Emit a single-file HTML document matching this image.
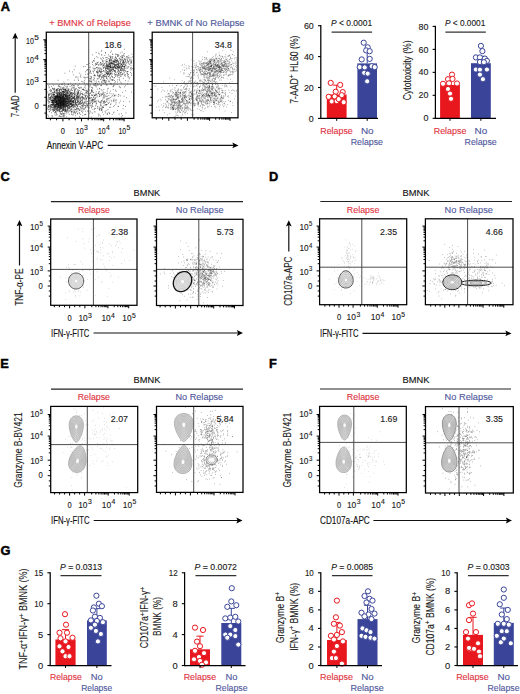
<!DOCTYPE html>
<html><head><meta charset="utf-8"><title>Figure</title>
<style>html,body{margin:0;padding:0;background:#fff;}svg{display:block;}text{font-family:"Liberation Sans", sans-serif;}</style>
</head><body>
<svg width="520" height="694" viewBox="0 0 520 694" font-family='"Liberation Sans", sans-serif'>
<rect width="520" height="694" fill="#fff"/>
<text x="0.8" y="11.4" font-size="12.8" font-weight="bold" style="stroke:#000;stroke-width:0.45px">A</text>
<text x="271.8" y="11.8" font-size="12.8" font-weight="bold" style="stroke:#000;stroke-width:0.45px">B</text>
<text x="0.4" y="180.8" font-size="12.8" font-weight="bold" style="stroke:#000;stroke-width:0.45px">C</text>
<text x="269.0" y="180.6" font-size="12.8" font-weight="bold" style="stroke:#000;stroke-width:0.45px">D</text>
<text x="0.2" y="368.2" font-size="12.8" font-weight="bold" style="stroke:#000;stroke-width:0.45px">E</text>
<text x="269.0" y="368.4" font-size="12.8" font-weight="bold" style="stroke:#000;stroke-width:0.45px">F</text>
<text x="0.4" y="555.3" font-size="12.8" font-weight="bold" style="stroke:#000;stroke-width:0.45px">G</text>
<text x="49.2" y="26.4" font-size="8.9" fill="#e0333f" textLength="81.6" lengthAdjust="spacingAndGlyphs" stroke="#e0333f" stroke-width="0.12">+ BMNK of Relapse</text>
<text x="147.3" y="26.2" font-size="8.9" fill="#50589c" textLength="97.3" lengthAdjust="spacingAndGlyphs" stroke="#50589c" stroke-width="0.12">+ BMNK of No Relapse</text>
<path d="M58.4 104.1h0.7M58.6 99.1h0.7M54.2 99.7h0.7M66.9 103.5h0.7M66.4 102.5h0.7M62.4 102.1h0.7M49.7 106.1h0.7M63.1 104.0h0.7M49.5 90.5h0.7M54.5 98.2h0.7M61.9 100.7h0.7M63.2 97.1h0.7M61.9 103.4h0.7M55.9 111.3h0.7M63.5 108.2h0.7M56.2 96.6h0.7M57.9 100.4h0.7M63.9 102.5h0.7M57.2 95.3h0.7M56.8 108.3h0.7M55.0 102.5h0.7M62.6 92.1h0.7M60.3 108.8h0.7M47.5 99.1h0.7M59.3 96.1h0.7M63.1 100.6h0.7M50.9 106.0h0.7M64.1 106.7h0.7M68.9 103.2h0.7M60.7 93.2h0.7M63.8 97.3h0.7M57.2 93.4h0.7M54.0 97.8h0.7M68.0 88.8h0.7M51.0 102.4h0.7M68.9 104.5h0.7M48.2 85.9h0.7M62.2 96.6h0.7M53.1 106.9h0.7M66.8 101.9h0.7M61.5 103.6h0.7M69.9 104.7h0.7M63.2 104.3h0.7M50.3 108.7h0.7M65.9 104.2h0.7M47.8 97.2h0.7M65.2 90.1h0.7M58.9 107.1h0.7M51.9 110.7h0.7M63.4 100.1h0.7M62.0 104.9h0.7M60.7 107.9h0.7M55.9 98.5h0.7M66.5 101.2h0.7M54.5 106.7h0.7M69.1 98.3h0.7M51.4 100.2h0.7M59.1 99.2h0.7M68.7 94.8h0.7M67.8 93.4h0.7M55.1 104.8h0.7M67.0 106.2h0.7M62.1 101.9h0.7M60.9 104.5h0.7M58.9 102.7h0.7M63.6 101.0h0.7M64.7 104.4h0.7M72.5 102.9h0.7M57.3 98.8h0.7M59.9 106.5h0.7M57.9 103.3h0.7M71.4 85.6h0.7M53.0 102.5h0.7M62.5 102.4h0.7M57.3 104.9h0.7M61.7 97.9h0.7M75.1 103.1h0.7M56.6 100.4h0.7M58.6 100.6h0.7M66.3 94.0h0.7M59.6 106.7h0.7M65.3 109.9h0.7M49.5 98.9h0.7M57.9 104.7h0.7M66.8 84.9h0.7M66.7 92.3h0.7M64.2 92.0h0.7M61.1 108.2h0.7M59.1 102.1h0.7M64.9 101.8h0.7M59.5 110.2h0.7M66.5 99.2h0.7M77.0 94.1h0.7M65.7 99.4h0.7M60.8 105.2h0.7M61.4 104.8h0.7M50.5 91.9h0.7M63.8 95.2h0.7M53.6 92.2h0.7M67.9 105.5h0.7M69.1 95.4h0.7M60.0 94.2h0.7M64.7 110.5h0.7M54.5 110.4h0.7M66.1 99.9h0.7M47.8 109.4h0.7M59.4 97.4h0.7M62.5 103.5h0.7M69.3 94.9h0.7M67.0 109.9h0.7M69.0 99.9h0.7M55.4 107.1h0.7M60.7 101.7h0.7M68.8 99.4h0.7M48.5 105.9h0.7M62.0 97.3h0.7M59.9 106.0h0.7M60.5 109.0h0.7M59.6 107.2h0.7M69.2 110.7h0.7M55.8 106.3h0.7M48.4 94.5h0.7M47.8 107.4h0.7M52.4 100.9h0.7M58.8 100.8h0.7M56.3 102.4h0.7M71.1 101.3h0.7M63.3 107.0h0.7M58.8 93.4h0.7M56.6 107.4h0.7M49.8 97.4h0.7M66.2 105.8h0.7M60.0 105.8h0.7M61.0 93.9h0.7M50.3 97.2h0.7M65.7 97.6h0.7M54.4 96.4h0.7M50.5 100.3h0.7M52.7 103.2h0.7M56.0 89.3h0.7M64.5 99.3h0.7M61.8 98.2h0.7M64.8 105.5h0.7M64.1 103.0h0.7M68.3 105.0h0.7M62.8 88.5h0.7M65.6 108.9h0.7M58.2 98.2h0.7M72.0 90.5h0.7M62.9 115.5h0.7M54.2 105.1h0.7M71.7 100.3h0.7M63.5 106.4h0.7M54.4 100.5h0.7M61.8 106.0h0.7M59.8 99.8h0.7M53.7 98.8h0.7M65.5 101.6h0.7M54.7 96.0h0.7M76.5 107.8h0.7M64.0 85.4h0.7M63.9 103.9h0.7M70.4 103.6h0.7M59.6 104.1h0.7M47.9 107.2h0.7M62.0 96.8h0.7M68.2 111.9h0.7M51.3 97.0h0.7M61.8 102.1h0.7M57.5 95.2h0.7M73.1 107.2h0.7M52.6 92.9h0.7M70.6 106.9h0.7M71.3 105.9h0.7M54.6 102.6h0.7M59.6 104.1h0.7M55.5 100.3h0.7M62.8 103.3h0.7M64.0 102.3h0.7M58.0 105.7h0.7M60.3 96.0h0.7M56.1 101.0h0.7M59.3 101.9h0.7M60.0 102.1h0.7M59.2 93.4h0.7M62.6 107.3h0.7M62.7 99.9h0.7M62.8 95.2h0.7M48.2 101.4h0.7M54.2 105.4h0.7M53.3 85.2h0.7M53.6 110.5h0.7M57.6 92.8h0.7M55.3 104.1h0.7M63.1 102.1h0.7M69.2 105.2h0.7M59.9 104.6h0.7M70.3 106.8h0.7M66.3 94.5h0.7M59.1 105.4h0.7M58.2 107.4h0.7M63.7 106.4h0.7M58.7 116.3h0.7M67.7 99.7h0.7M60.6 116.6h0.7M57.9 106.2h0.7M66.1 101.0h0.7M52.8 102.1h0.7M62.2 107.8h0.7M64.9 101.1h0.7M65.3 104.2h0.7M61.3 101.3h0.7M58.5 105.1h0.7M53.5 97.2h0.7M60.0 92.2h0.7M57.3 88.9h0.7M55.8 104.4h0.7M63.5 100.7h0.7M58.6 92.5h0.7M71.3 104.1h0.7M66.8 95.7h0.7M58.9 90.1h0.7M64.8 106.6h0.7M48.2 100.7h0.7M63.9 90.4h0.7M48.7 94.6h0.7M56.1 92.6h0.7M60.2 102.5h0.7M63.9 105.2h0.7M69.3 108.0h0.7M51.9 98.0h0.7M53.4 94.5h0.7M59.5 101.0h0.7M63.0 91.5h0.7M52.3 100.9h0.7M58.8 99.1h0.7M59.6 96.4h0.7M64.3 103.1h0.7M59.5 97.0h0.7M58.9 84.7h0.7M53.9 101.2h0.7M50.7 102.2h0.7M60.9 92.7h0.7M58.4 99.1h0.7M62.9 104.7h0.7M59.8 95.9h0.7M59.1 100.6h0.7M64.6 102.8h0.7M55.5 92.9h0.7M57.7 96.6h0.7M53.1 100.3h0.7M57.0 101.6h0.7M63.2 98.5h0.7M74.4 99.1h0.7M66.8 101.7h0.7M66.9 86.7h0.7M55.3 102.5h0.7M63.7 115.0h0.7M62.0 108.7h0.7M64.8 106.7h0.7M63.2 100.1h0.7M63.2 94.5h0.7M67.3 94.9h0.7M61.5 113.7h0.7M58.6 101.1h0.7M67.2 101.2h0.7M55.0 102.5h0.7M63.6 105.3h0.7M55.2 111.5h0.7M70.3 101.1h0.7M61.7 98.4h0.7M68.8 96.8h0.7M64.2 98.1h0.7M55.7 105.3h0.7M68.3 100.9h0.7M55.8 105.9h0.7M59.7 102.9h0.7M69.4 107.8h0.7M56.8 114.7h0.7M60.0 105.7h0.7M56.0 100.7h0.7M49.2 111.7h0.7M68.5 93.7h0.7M50.7 91.3h0.7M67.3 98.2h0.7M59.6 99.1h0.7M59.2 94.5h0.7M60.1 92.4h0.7M59.6 102.9h0.7M62.9 99.6h0.7M54.4 102.0h0.7M57.0 110.4h0.7M64.8 100.3h0.7M57.1 96.8h0.7M54.2 98.9h0.7M61.8 104.1h0.7M63.5 113.6h0.7M55.6 101.1h0.7M77.3 89.8h0.7M56.8 102.0h0.7M61.0 103.4h0.7M58.5 103.2h0.7M60.3 105.6h0.7M48.3 95.7h0.7M60.0 94.8h0.7M53.5 104.8h0.7M56.0 104.8h0.7M64.6 102.8h0.7M63.1 100.4h0.7M51.3 100.8h0.7M62.8 97.8h0.7M59.4 105.5h0.7M54.6 104.8h0.7M71.5 97.7h0.7M60.9 100.1h0.7M69.5 102.9h0.7M65.6 96.9h0.7M59.9 100.9h0.7M49.0 109.6h0.7M65.6 90.5h0.7M64.6 100.2h0.7M62.8 103.2h0.7M50.7 99.7h0.7M69.3 97.6h0.7M53.7 92.8h0.7M52.4 103.0h0.7M70.5 103.6h0.7M61.5 114.4h0.7M56.8 97.0h0.7M63.3 104.3h0.7M53.7 94.0h0.7M61.8 102.5h0.7M51.9 99.8h0.7M56.6 103.8h0.7M59.3 100.5h0.7M57.8 107.3h0.7M68.6 98.8h0.7M65.2 96.5h0.7M60.4 105.5h0.7M69.4 98.7h0.7M59.5 102.2h0.7M50.7 101.1h0.7M55.8 103.2h0.7M53.0 89.1h0.7M60.2 102.6h0.7M56.6 106.3h0.7M58.3 97.4h0.7M63.0 91.6h0.7M55.8 100.9h0.7M65.3 100.0h0.7M61.9 97.1h0.7M61.9 111.0h0.7M55.7 115.2h0.7M56.0 101.1h0.7M61.1 107.1h0.7M52.3 88.4h0.7M63.8 105.8h0.7M63.9 116.8h0.7M61.3 102.5h0.7M65.8 103.2h0.7M70.3 93.6h0.7M57.7 80.3h0.7M65.0 98.8h0.7M65.7 113.9h0.7M60.0 99.5h0.7M56.9 96.0h0.7M56.1 104.8h0.7M60.2 101.4h0.7M58.9 106.5h0.7M63.1 100.1h0.7M64.1 100.1h0.7M52.9 109.7h0.7M62.9 95.3h0.7M66.7 103.1h0.7M50.3 110.7h0.7M62.1 106.3h0.7M61.2 100.1h0.7M50.4 106.8h0.7M60.2 99.3h0.7M62.2 101.5h0.7M64.2 98.8h0.7M59.8 88.2h0.7M57.4 105.1h0.7M68.3 98.8h0.7M59.2 110.5h0.7M58.0 105.4h0.7M70.4 101.2h0.7M67.6 96.7h0.7M61.3 100.5h0.7M60.7 107.8h0.7M74.8 97.0h0.7M56.4 104.0h0.7M53.5 104.0h0.7M63.5 99.3h0.7M63.3 91.7h0.7M64.7 91.7h0.7M55.7 97.7h0.7M57.5 106.2h0.7M60.5 98.6h0.7M63.4 110.5h0.7M60.0 103.2h0.7M67.7 102.6h0.7M52.0 115.9h0.7M73.7 89.1h0.7M59.8 103.5h0.7M66.0 105.0h0.7M58.3 94.7h0.7M60.6 107.2h0.7M53.2 94.8h0.7M59.8 89.4h0.7M58.4 98.4h0.7M62.8 96.8h0.7M54.5 98.6h0.7M59.7 97.0h0.7M60.1 105.5h0.7M67.3 111.2h0.7M55.1 98.5h0.7M55.5 100.8h0.7M63.2 92.8h0.7M62.9 100.8h0.7M48.7 102.8h0.7M67.4 89.8h0.7M65.0 102.3h0.7M62.9 103.6h0.7M68.1 99.7h0.7M65.4 98.5h0.7M64.5 96.1h0.7M59.3 111.4h0.7M62.8 100.1h0.7M52.9 96.3h0.7M61.2 106.6h0.7M62.6 104.1h0.7M59.7 109.1h0.7M57.6 97.7h0.7M65.5 101.4h0.7M58.3 97.5h0.7M58.4 104.7h0.7M62.2 93.7h0.7M62.6 102.1h0.7M53.8 105.6h0.7M58.3 99.0h0.7M64.9 108.9h0.7M55.7 103.6h0.7M54.6 114.9h0.7M56.9 108.2h0.7M56.0 105.9h0.7M73.8 85.8h0.7M57.3 104.0h0.7M59.4 97.0h0.7M73.3 101.5h0.7M49.8 106.1h0.7M49.3 107.9h0.7M56.4 101.9h0.7M67.8 101.7h0.7M51.4 90.8h0.7M67.3 105.4h0.7M54.9 106.2h0.7M63.1 104.9h0.7M65.6 105.4h0.7M65.5 86.3h0.7M61.0 104.0h0.7M75.8 95.3h0.7M58.0 101.2h0.7M65.5 98.3h0.7M67.1 96.3h0.7M61.7 97.8h0.7M61.0 96.9h0.7M50.1 107.6h0.7M61.9 97.6h0.7M61.2 106.9h0.7M53.9 100.3h0.7M63.3 104.2h0.7M57.9 88.4h0.7M67.7 103.0h0.7M60.1 99.3h0.7M61.6 98.4h0.7M53.6 96.6h0.7M56.3 97.3h0.7M52.8 104.8h0.7M51.9 105.0h0.7M53.7 103.1h0.7M68.5 102.2h0.7M55.5 101.3h0.7M60.9 90.6h0.7M56.2 102.0h0.7M57.1 101.5h0.7M64.6 105.6h0.7M65.6 104.5h0.7M58.2 100.9h0.7M58.3 99.1h0.7M58.9 90.7h0.7M57.9 100.9h0.7M54.0 100.9h0.7M63.2 100.0h0.7M72.9 85.4h0.7M58.7 90.0h0.7M66.1 116.9h0.7M63.2 99.2h0.7M63.4 87.5h0.7M65.3 103.2h0.7M60.1 97.5h0.7M64.0 98.1h0.7M61.4 97.9h0.7M61.3 105.5h0.7M54.6 100.8h0.7M63.8 101.9h0.7M67.7 112.9h0.7M54.4 89.5h0.7M65.3 110.2h0.7M65.7 105.9h0.7M56.2 96.7h0.7M65.5 95.5h0.7M48.8 95.0h0.7M75.5 112.5h0.7M55.7 96.6h0.7M61.4 96.5h0.7M68.1 100.5h0.7M53.3 108.9h0.7M56.4 102.3h0.7M59.9 99.1h0.7M62.0 96.8h0.7M48.6 87.8h0.7M52.1 96.4h0.7M59.9 101.3h0.7M63.4 101.7h0.7M55.1 96.7h0.7M63.0 104.2h0.7M59.2 100.0h0.7M65.8 101.1h0.7M64.6 104.5h0.7M61.3 108.8h0.7M56.4 98.8h0.7M55.0 96.2h0.7M69.6 111.6h0.7M60.1 104.4h0.7M67.3 105.8h0.7M67.5 93.4h0.7M56.0 103.7h0.7M68.9 101.6h0.7M54.7 98.9h0.7M55.9 95.9h0.7M69.3 97.2h0.7M60.1 114.0h0.7M67.3 103.0h0.7M56.2 103.5h0.7M70.1 104.7h0.7M67.8 101.6h0.7M63.2 99.8h0.7M62.6 108.8h0.7M51.1 100.6h0.7M61.5 97.6h0.7M58.1 105.7h0.7M72.4 104.8h0.7M62.0 91.7h0.7M72.0 101.5h0.7M59.8 94.3h0.7M59.6 94.4h0.7M60.4 103.8h0.7M60.2 102.7h0.7M54.7 109.6h0.7M56.0 90.1h0.7M58.8 96.4h0.7M53.7 98.9h0.7M61.8 93.9h0.7M59.1 109.6h0.7M64.2 100.1h0.7M60.8 100.3h0.7M59.7 105.4h0.7M59.4 86.6h0.7M59.9 95.7h0.7M64.0 97.3h0.7M60.9 114.1h0.7M53.5 94.3h0.7M51.2 86.6h0.7M48.4 103.2h0.7M56.0 89.8h0.7M50.8 104.7h0.7M55.2 98.8h0.7M62.0 109.1h0.7M72.0 107.2h0.7M60.9 102.1h0.7M71.2 109.6h0.7M58.1 103.7h0.7M61.8 101.3h0.7M56.9 93.0h0.7M56.7 91.7h0.7M67.6 104.2h0.7M52.5 109.4h0.7M65.5 89.5h0.7M71.4 105.9h0.7M72.8 93.6h0.7M63.3 103.5h0.7M61.3 102.0h0.7M66.5 92.0h0.7M52.3 92.6h0.7M56.5 97.4h0.7M62.3 102.6h0.7M60.2 96.9h0.7M57.3 106.7h0.7M64.7 101.6h0.7M58.0 110.3h0.7M56.3 104.9h0.7M67.2 99.4h0.7M65.1 94.3h0.7M66.3 102.2h0.7M50.2 105.0h0.7M54.5 108.7h0.7M55.8 100.0h0.7M61.8 99.0h0.7M61.6 97.7h0.7M64.2 101.0h0.7M61.3 84.5h0.7M67.2 101.2h0.7M48.9 101.6h0.7M62.9 107.4h0.7M53.3 110.3h0.7M59.0 115.4h0.7M59.1 105.1h0.7M57.7 94.3h0.7M66.8 106.4h0.7M69.5 106.1h0.7M56.4 91.0h0.7M56.0 96.9h0.7M54.9 104.5h0.7M62.0 99.4h0.7M61.1 100.1h0.7M61.3 105.5h0.7M65.9 96.9h0.7M50.7 109.6h0.7M60.7 107.6h0.7M49.8 99.0h0.7M60.2 92.4h0.7M56.8 105.3h0.7M66.7 110.6h0.7M54.6 92.6h0.7M63.2 106.6h0.7M61.2 93.2h0.7M64.8 105.8h0.7M63.4 98.1h0.7M61.9 105.7h0.7M56.5 89.9h0.7M62.0 103.9h0.7M60.1 106.3h0.7M56.4 100.5h0.7M58.1 104.4h0.7M69.9 99.5h0.7M72.7 110.2h0.7M64.9 104.5h0.7M71.0 99.9h0.7M59.3 94.6h0.7M62.9 109.1h0.7M63.3 103.5h0.7M58.8 102.0h0.7M51.2 107.3h0.7M57.5 94.4h0.7M55.3 96.1h0.7M65.3 107.3h0.7M51.6 106.6h0.7M65.5 97.5h0.7M50.8 96.5h0.7M56.1 103.1h0.7M57.8 88.8h0.7M61.4 91.8h0.7M65.6 93.8h0.7M55.7 95.9h0.7M56.6 108.8h0.7M65.3 104.6h0.7M62.0 91.7h0.7M56.8 97.7h0.7M53.9 104.1h0.7M55.4 96.7h0.7M53.5 88.7h0.7M63.7 109.0h0.7M61.1 95.1h0.7M67.5 102.8h0.7M65.7 109.9h0.7M67.0 98.4h0.7M66.5 105.7h0.7M50.5 98.6h0.7M51.2 100.3h0.7M63.6 94.6h0.7M47.3 108.8h0.7M62.3 109.8h0.7M51.8 107.4h0.7M72.9 113.0h0.7M58.7 102.6h0.7M59.0 107.0h0.7M66.4 101.5h0.7M51.6 105.4h0.7M57.1 104.8h0.7M61.6 110.7h0.7M67.1 98.3h0.7M62.2 111.6h0.7M56.7 103.6h0.7M67.4 108.5h0.7M63.2 93.1h0.7M52.2 102.5h0.7M62.4 116.3h0.7M54.7 107.8h0.7M64.8 91.0h0.7M54.9 102.0h0.7M56.9 100.1h0.7M62.9 96.1h0.7M62.9 97.2h0.7M56.6 104.2h0.7M56.4 102.7h0.7M69.9 101.2h0.7M59.1 105.4h0.7M57.7 107.5h0.7M52.0 104.7h0.7M56.8 96.2h0.7M71.0 95.9h0.7M70.9 104.9h0.7M69.0 95.1h0.7M67.4 109.7h0.7M59.3 100.2h0.7M75.2 102.1h0.7M57.4 97.2h0.7M62.8 103.0h0.7M61.1 111.3h0.7M58.0 103.8h0.7M69.0 95.0h0.7M66.4 112.0h0.7M51.6 94.4h0.7M53.6 89.9h0.7M62.8 89.9h0.7M63.1 109.7h0.7M50.0 99.1h0.7M48.1 105.7h0.7M55.4 99.4h0.7M60.3 104.3h0.7M57.9 101.1h0.7M56.6 101.7h0.7M52.7 101.4h0.7M48.0 98.1h0.7M71.9 101.5h0.7M52.2 102.5h0.7M54.0 91.1h0.7M55.4 105.4h0.7M62.4 100.4h0.7M54.3 94.5h0.7M68.4 102.5h0.7M54.1 88.3h0.7M51.5 115.9h0.7M52.9 100.5h0.7M61.3 100.1h0.7M58.3 92.8h0.7M53.5 111.1h0.7M55.3 106.1h0.7M49.5 99.4h0.7M61.6 107.2h0.7M53.0 104.6h0.7M62.4 96.6h0.7M63.0 95.6h0.7M55.1 100.9h0.7M53.8 92.2h0.7M57.4 105.6h0.7M57.5 108.6h0.7M52.8 93.1h0.7M69.6 103.4h0.7M65.9 96.0h0.7M65.0 102.6h0.7M64.0 101.2h0.7M67.5 97.1h0.7M54.0 92.1h0.7M67.2 96.6h0.7M53.5 95.4h0.7M57.2 93.4h0.7M58.2 97.2h0.7M56.6 95.2h0.7M60.2 98.2h0.7M60.7 102.5h0.7M62.1 87.9h0.7M56.7 96.2h0.7M64.8 91.5h0.7M55.6 99.2h0.7M57.9 106.9h0.7M57.3 106.8h0.7M50.9 90.1h0.7M67.6 103.6h0.7M63.0 101.7h0.7M63.0 93.7h0.7M65.9 97.8h0.7M66.1 101.5h0.7M47.8 93.3h0.7M67.0 100.2h0.7M57.5 102.5h0.7M57.4 97.7h0.7M60.6 101.9h0.7M69.4 101.3h0.7M71.7 111.8h0.7M70.6 107.4h0.7M60.8 101.8h0.7M59.1 96.6h0.7M59.6 97.2h0.7M70.2 104.2h0.7M57.2 89.5h0.7M59.7 98.5h0.7M53.3 94.2h0.7M59.6 116.5h0.7M59.8 100.1h0.7M69.0 101.8h0.7M61.0 98.8h0.7M56.2 110.0h0.7M66.2 111.3h0.7M57.8 101.2h0.7M54.5 106.8h0.7M51.4 104.4h0.7M66.8 109.5h0.7M54.2 107.5h0.7M55.6 96.5h0.7M51.8 107.9h0.7M70.2 97.4h0.7M55.3 99.0h0.7M75.5 107.0h0.7M56.6 90.2h0.7M55.8 108.1h0.7M71.6 99.4h0.7M55.7 97.9h0.7M48.3 106.4h0.7M53.3 107.4h0.7M49.4 93.4h0.7M61.8 96.4h0.7M64.8 101.0h0.7M52.7 104.7h0.7M65.2 89.5h0.7M71.3 104.0h0.7M64.7 89.8h0.7M55.5 98.9h0.7M66.7 92.2h0.7M54.5 88.8h0.7M58.5 103.1h0.7M49.5 97.5h0.7M63.2 110.5h0.7M64.1 99.2h0.7M52.7 95.4h0.7M55.9 101.9h0.7M59.7 111.0h0.7M61.8 94.6h0.7M69.6 106.7h0.7M60.6 96.7h0.7M48.4 94.9h0.7M65.7 96.2h0.7M51.8 102.2h0.7M61.5 104.6h0.7M64.1 109.5h0.7M54.8 106.9h0.7M53.9 105.2h0.7M61.1 102.5h0.7M66.0 100.9h0.7M66.9 106.3h0.7M60.8 97.6h0.7M55.3 97.8h0.7M58.7 100.9h0.7M78.5 104.8h0.7M64.8 95.8h0.7M55.6 99.1h0.7M61.2 94.8h0.7M70.0 97.6h0.7M66.7 87.0h0.7M60.0 102.7h0.7M61.2 104.6h0.7M61.7 102.0h0.7M48.3 96.7h0.7M61.9 99.8h0.7M54.9 97.5h0.7M71.4 111.4h0.7M59.6 108.7h0.7M50.2 89.4h0.7M57.0 95.8h0.7M56.5 102.1h0.7M78.8 97.0h0.7M60.3 102.7h0.7M59.8 106.6h0.7M71.0 93.5h0.7M61.0 99.4h0.7M62.2 91.8h0.7M49.1 87.1h0.7M63.3 102.2h0.7M60.5 86.8h0.7M57.7 96.5h0.7M51.2 95.5h0.7M64.3 104.3h0.7M59.9 104.1h0.7M56.3 101.4h0.7M60.2 104.3h0.7M59.6 100.1h0.7M59.2 97.1h0.7M73.8 104.1h0.7M62.7 114.7h0.7M68.7 91.7h0.7M64.3 106.0h0.7M71.7 108.9h0.7M64.8 93.9h0.7M54.6 102.6h0.7M63.1 94.9h0.7M57.6 98.6h0.7M60.4 103.0h0.7M58.2 93.6h0.7M67.7 110.6h0.7M59.3 107.1h0.7M62.8 105.0h0.7M63.0 96.4h0.7M63.6 107.1h0.7M54.4 112.8h0.7M73.0 111.9h0.7M72.3 105.5h0.7M57.9 97.4h0.7M55.0 101.7h0.7M59.8 105.0h0.7M47.5 114.9h0.7M74.1 100.8h0.7M64.2 103.9h0.7M61.7 99.7h0.7M59.2 96.1h0.7M61.1 100.9h0.7M62.0 95.9h0.7M60.2 101.3h0.7M63.7 94.6h0.7M62.6 106.9h0.7M63.7 98.8h0.7M57.0 99.6h0.7M64.5 110.3h0.7M59.0 97.1h0.7M62.3 102.2h0.7M54.4 96.6h0.7M59.4 105.0h0.7M52.6 94.9h0.7M63.1 93.7h0.7M60.7 103.1h0.7M59.3 94.9h0.7M59.6 99.0h0.7M62.1 96.0h0.7M66.8 90.9h0.7M58.9 101.0h0.7M66.0 97.3h0.7M63.4 97.6h0.7M64.6 111.4h0.7M57.5 103.7h0.7M54.3 106.8h0.7M67.5 101.2h0.7M53.0 103.4h0.7M67.1 107.5h0.7M65.0 90.0h0.7M55.8 109.5h0.7M52.4 107.8h0.7M71.7 105.6h0.7M66.9 99.0h0.7M52.4 100.4h0.7M58.8 100.7h0.7M64.3 100.1h0.7M61.2 103.5h0.7M60.0 112.1h0.7M62.7 101.5h0.7M58.7 97.2h0.7M68.3 101.9h0.7M53.3 97.6h0.7M59.2 98.3h0.7M66.7 94.0h0.7M63.1 101.9h0.7M52.7 101.3h0.7M59.4 104.0h0.7M57.2 102.8h0.7M49.7 94.5h0.7M64.9 107.2h0.7M59.9 97.4h0.7M66.7 88.4h0.7M55.0 105.0h0.7M64.0 94.8h0.7M48.3 109.7h0.7M60.9 95.6h0.7M60.3 106.4h0.7M64.6 88.5h0.7M64.8 90.3h0.7M67.1 103.4h0.7M74.0 97.3h0.7M60.0 107.3h0.7M56.0 96.8h0.7M57.7 100.6h0.7M53.3 103.9h0.7M63.4 101.4h0.7M70.5 99.0h0.7M68.1 97.7h0.7M64.7 89.4h0.7M61.2 99.9h0.7M56.9 97.3h0.7M57.8 96.7h0.7M56.6 97.9h0.7M53.4 100.2h0.7M64.9 99.5h0.7M56.9 109.1h0.7M66.1 106.5h0.7M67.2 99.0h0.7M59.2 107.7h0.7M56.6 100.3h0.7M62.3 103.2h0.7M58.3 106.9h0.7M58.9 105.4h0.7M66.6 105.0h0.7M64.5 94.0h0.7M51.9 97.3h0.7M62.9 110.0h0.7M52.4 102.8h0.7M54.7 96.6h0.7M58.3 105.2h0.7M61.3 108.1h0.7M53.9 106.3h0.7M65.8 101.4h0.7M63.0 97.6h0.7M53.2 98.6h0.7M57.0 110.9h0.7M61.3 102.9h0.7M64.6 96.3h0.7M65.7 103.3h0.7M50.6 104.6h0.7M63.4 103.7h0.7M69.8 98.5h0.7M63.2 105.5h0.7M54.4 108.2h0.7M51.0 93.2h0.7M63.2 94.5h0.7M59.3 91.1h0.7M60.4 94.2h0.7M62.1 91.8h0.7M62.8 99.4h0.7M60.4 100.6h0.7M60.8 93.1h0.7M54.2 98.3h0.7M62.6 89.1h0.7M55.3 97.3h0.7M53.4 103.0h0.7M59.1 96.1h0.7M53.9 105.8h0.7M55.9 104.5h0.7M62.8 89.6h0.7M53.3 101.0h0.7M62.1 105.7h0.7M65.0 107.2h0.7M57.7 99.7h0.7M64.8 98.4h0.7M66.6 91.5h0.7M64.1 100.0h0.7M47.8 106.9h0.7M61.9 101.1h0.7M53.3 98.2h0.7M69.4 96.0h0.7M52.6 100.2h0.7M57.6 95.5h0.7M54.8 107.3h0.7M51.1 112.7h0.7M56.6 94.4h0.7M64.9 104.4h0.7M53.5 105.5h0.7M48.6 95.5h0.7M67.0 99.5h0.7M51.9 104.1h0.7M65.7 100.9h0.7M48.8 98.9h0.7M62.6 105.6h0.7M71.5 99.5h0.7M57.0 100.8h0.7M67.5 95.4h0.7M68.1 84.5h0.7M64.9 96.9h0.7M62.8 105.1h0.7M52.7 100.5h0.7M61.5 104.5h0.7M54.2 95.1h0.7M48.1 116.2h0.7M58.8 99.7h0.7M50.7 106.6h0.7M56.7 109.6h0.7M65.3 101.1h0.7M64.5 94.3h0.7M58.0 97.5h0.7M52.1 101.1h0.7M59.1 109.6h0.7M54.3 98.2h0.7M62.6 103.4h0.7M60.2 98.2h0.7M63.1 103.2h0.7M48.6 99.4h0.7M51.5 93.9h0.7M60.9 101.4h0.7M60.7 95.7h0.7M58.8 95.5h0.7M62.4 105.1h0.7M70.9 108.6h0.7M55.0 98.3h0.7M54.2 102.8h0.7M72.3 105.3h0.7M52.0 104.1h0.7M60.0 102.8h0.7M71.0 96.0h0.7M54.7 112.8h0.7M62.1 96.3h0.7M47.4 91.9h0.7M60.3 107.0h0.7M59.1 96.8h0.7M55.4 112.4h0.7M49.1 102.0h0.7M60.2 104.7h0.7M57.5 104.0h0.7M65.1 100.1h0.7M57.2 99.9h0.7M54.0 99.8h0.7M58.1 102.3h0.7M68.3 108.8h0.7M57.2 104.6h0.7M61.8 105.6h0.7M60.1 102.6h0.7M57.1 96.3h0.7M65.4 108.8h0.7M64.1 103.6h0.7M61.7 98.3h0.7M48.9 105.0h0.7M61.2 97.7h0.7M54.0 108.7h0.7M48.8 111.6h0.7M64.0 115.2h0.7M55.5 100.9h0.7M56.9 101.9h0.7M58.7 96.5h0.7M66.7 96.3h0.7M56.9 104.3h0.7M56.7 98.4h0.7M62.2 98.8h0.7M52.3 100.4h0.7M58.6 111.2h0.7M53.2 106.8h0.7M55.1 98.9h0.7M58.0 102.6h0.7M65.4 111.5h0.7M56.1 109.0h0.7M66.2 105.9h0.7M55.3 106.4h0.7M59.3 103.1h0.7M58.3 105.0h0.7M66.9 107.8h0.7M58.7 107.0h0.7M69.0 95.4h0.7M69.1 93.0h0.7M63.4 104.6h0.7M69.2 102.7h0.7M57.0 96.2h0.7M52.2 105.6h0.7M58.5 96.7h0.7M63.3 96.4h0.7M57.3 98.2h0.7M70.3 109.8h0.7M59.0 91.6h0.7M61.7 101.4h0.7M62.2 104.4h0.7M58.0 106.6h0.7M65.2 102.3h0.7M57.5 98.1h0.7M64.3 94.4h0.7M59.0 96.5h0.7M51.4 104.6h0.7M59.8 101.2h0.7M65.4 92.0h0.7M59.6 102.7h0.7M65.2 94.5h0.7M64.4 102.3h0.7M68.4 107.8h0.7M63.4 113.9h0.7M60.0 98.5h0.7M57.9 95.4h0.7M59.8 89.7h0.7M59.5 103.6h0.7M66.1 98.9h0.7M68.6 97.1h0.7M59.2 89.7h0.7M55.3 96.3h0.7M69.0 104.1h0.7M53.3 104.1h0.7M62.9 99.6h0.7M60.1 99.2h0.7M56.7 90.6h0.7M59.5 108.5h0.7M68.7 99.4h0.7M55.5 99.8h0.7M65.4 103.1h0.7M56.5 103.1h0.7M58.8 104.0h0.7M57.5 92.4h0.7M60.4 105.5h0.7M53.3 100.4h0.7M65.3 98.8h0.7M56.1 112.9h0.7M65.0 107.0h0.7M54.3 110.5h0.7M50.0 98.0h0.7M64.5 108.8h0.7M54.4 97.1h0.7M61.2 89.7h0.7M63.9 104.3h0.7M57.3 104.1h0.7M64.7 102.8h0.7M63.1 109.8h0.7M57.1 101.9h0.7M56.9 107.0h0.7M57.5 103.8h0.7M60.8 101.4h0.7M70.3 100.5h0.7M68.5 105.8h0.7M67.9 100.0h0.7M65.6 105.4h0.7M56.3 102.6h0.7M59.2 100.8h0.7M67.8 96.8h0.7M49.9 90.9h0.7M57.3 97.3h0.7M60.1 104.3h0.7M70.5 102.8h0.7M62.8 96.7h0.7M63.5 108.9h0.7M68.0 89.7h0.7M65.3 110.2h0.7M64.9 92.4h0.7M58.2 104.4h0.7M62.5 96.3h0.7M54.7 106.6h0.7M52.0 109.3h0.7M60.1 102.7h0.7M52.0 97.6h0.7M64.1 92.5h0.7M72.4 92.9h0.7M52.7 101.2h0.7M62.9 105.2h0.7M57.8 99.8h0.7M58.6 97.7h0.7M61.5 101.9h0.7M56.3 102.4h0.7M59.9 100.6h0.7M66.6 91.1h0.7M61.5 94.9h0.7M58.1 109.6h0.7M53.5 100.4h0.7M56.5 106.5h0.7M54.2 91.3h0.7M63.1 99.0h0.7M58.1 107.2h0.7M54.7 98.8h0.7M60.9 103.4h0.7M56.9 107.0h0.7M73.3 98.6h0.7M71.1 88.8h0.7M68.4 99.0h0.7M60.8 99.0h0.7M56.2 93.6h0.7M57.7 108.5h0.7M66.8 99.0h0.7M56.9 97.0h0.7M52.9 111.4h0.7M64.0 101.7h0.7M57.1 95.1h0.7M67.8 105.5h0.7M54.3 106.7h0.7M53.4 104.7h0.7M54.3 98.6h0.7M62.9 103.5h0.7M66.0 96.2h0.7M69.4 108.7h0.7M59.9 103.7h0.7M55.4 100.1h0.7M52.1 101.5h0.7M61.2 108.7h0.7M65.6 105.7h0.7M57.8 99.7h0.7M58.0 102.3h0.7M48.5 105.4h0.7M50.7 98.0h0.7M60.1 98.0h0.7M69.9 100.4h0.7M69.4 107.8h0.7M57.0 103.3h0.7M67.7 99.1h0.7M60.5 97.8h0.7M60.3 99.0h0.7M60.5 106.8h0.7M68.3 101.8h0.7M61.2 105.9h0.7M58.3 94.9h0.7M66.6 95.6h0.7M65.5 95.4h0.7M70.9 95.0h0.7M65.1 109.6h0.7M54.3 109.6h0.7M55.1 90.8h0.7M64.3 105.0h0.7M58.8 86.5h0.7M59.7 99.2h0.7M57.7 99.3h0.7M49.3 97.7h0.7M70.7 109.9h0.7M57.8 96.9h0.7M62.4 107.1h0.7M64.3 94.3h0.7M61.0 101.8h0.7M68.6 107.9h0.7M63.1 108.0h0.7M57.6 109.9h0.7M57.5 103.3h0.7M65.5 95.7h0.7M55.8 90.9h0.7M61.0 100.7h0.7M58.1 103.9h0.7M47.4 100.9h0.7M60.5 99.5h0.7M64.7 111.1h0.7M57.3 95.6h0.7M56.4 101.5h0.7M63.5 96.0h0.7M65.9 95.1h0.7M64.9 103.5h0.7M62.8 113.4h0.7M58.4 100.0h0.7M62.8 106.0h0.7M52.0 102.6h0.7M55.6 104.6h0.7M68.2 101.3h0.7M59.4 102.1h0.7M63.3 101.9h0.7M57.6 96.8h0.7M58.9 108.0h0.7M59.4 108.8h0.7M61.6 100.9h0.7M50.1 97.2h0.7M67.4 93.6h0.7M54.1 94.7h0.7M56.7 104.7h0.7M63.5 89.3h0.7M68.7 97.6h0.7M56.5 110.6h0.7M59.5 93.9h0.7M56.2 96.8h0.7M54.0 99.1h0.7M65.2 103.0h0.7M51.8 117.1h0.7M54.1 101.7h0.7M60.2 105.4h0.7M58.0 103.6h0.7M72.5 101.6h0.7M53.6 102.9h0.7M55.2 98.9h0.7M61.1 102.9h0.7M58.3 105.9h0.7M58.9 93.5h0.7M65.2 98.9h0.7M67.2 97.2h0.7M63.4 102.8h0.7M53.3 109.1h0.7M48.8 106.3h0.7M66.5 103.9h0.7M64.0 98.1h0.7M59.9 102.3h0.7M62.5 105.1h0.7M58.8 97.0h0.7M56.7 103.4h0.7M50.1 93.8h0.7M57.5 97.8h0.7M58.4 85.7h0.7M58.0 99.6h0.7M64.6 89.6h0.7M58.2 103.7h0.7M62.9 107.9h0.7M66.3 95.0h0.7M63.8 99.1h0.7M55.2 109.8h0.7M56.3 96.1h0.7M57.6 96.1h0.7M66.0 103.2h0.7M68.3 103.4h0.7M56.3 107.0h0.7M56.1 98.3h0.7M59.0 101.2h0.7M67.1 97.5h0.7M62.1 100.8h0.7M52.5 94.7h0.7M58.7 103.3h0.7M61.9 103.8h0.7M60.3 98.4h0.7M62.5 95.2h0.7M52.0 99.1h0.7M51.5 98.0h0.7M55.5 97.8h0.7M59.7 96.4h0.7M57.5 91.1h0.7M60.9 95.9h0.7M62.4 84.6h0.7M55.2 102.4h0.7M60.6 101.6h0.7M51.1 102.3h0.7M60.9 95.4h0.7M64.5 100.7h0.7M60.1 98.4h0.7M63.3 101.6h0.7M66.8 103.6h0.7M56.3 99.7h0.7M82.9 97.6h0.7M77.7 103.4h0.7M72.3 84.7h0.7M75.3 101.4h0.7M75.3 95.0h0.7M85.7 99.1h0.7M68.0 95.3h0.7M77.5 92.8h0.7M64.3 113.2h0.7M86.7 106.9h0.7M87.2 103.9h0.7M57.7 107.9h0.7M86.0 103.2h0.7M55.1 108.2h0.7M87.2 96.8h0.7M75.2 105.1h0.7M73.2 107.2h0.7M74.8 104.6h0.7M74.8 90.3h0.7M76.7 108.6h0.7M85.0 111.3h0.7M79.4 96.1h0.7M74.2 87.3h0.7M72.2 106.0h0.7M53.0 101.3h0.7M82.0 108.8h0.7M65.0 95.7h0.7M55.8 93.3h0.7M79.2 113.7h0.7M62.9 109.1h0.7M78.1 96.7h0.7M95.3 83.4h0.7M73.3 101.4h0.7M94.7 111.9h0.7M96.0 100.9h0.7M83.5 109.0h0.7M79.0 102.4h0.7M72.2 97.3h0.7M62.1 112.9h0.7M69.7 86.3h0.7M76.6 99.8h0.7M75.7 112.0h0.7M73.0 98.2h0.7M66.7 99.9h0.7M69.7 101.4h0.7M104.4 102.6h0.7M65.7 112.8h0.7M82.4 105.4h0.7M81.0 105.4h0.7M80.6 109.3h0.7M83.8 108.9h0.7M69.1 100.0h0.7M66.9 106.3h0.7M82.1 96.9h0.7M79.7 117.4h0.7M86.0 92.6h0.7M73.1 104.2h0.7M73.7 102.6h0.7M85.5 102.2h0.7M63.3 104.7h0.7M73.1 100.8h0.7M68.5 90.8h0.7M61.9 97.7h0.7M63.6 82.0h0.7M85.2 92.3h0.7M66.9 103.5h0.7M50.5 108.9h0.7M66.5 104.4h0.7M69.3 102.0h0.7M75.0 100.0h0.7M56.2 90.3h0.7M73.6 109.3h0.7M68.7 103.5h0.7M75.6 103.2h0.7M83.7 90.1h0.7M76.7 98.8h0.7M71.0 94.3h0.7M66.3 93.2h0.7M63.3 116.6h0.7M90.6 100.1h0.7M81.2 93.5h0.7M75.4 109.5h0.7M73.6 93.4h0.7M71.6 93.4h0.7M60.4 98.5h0.7M70.1 94.6h0.7M65.4 93.8h0.7M76.3 109.2h0.7M72.0 114.8h0.7M58.2 101.8h0.7M62.7 98.9h0.7M75.0 103.7h0.7M85.0 96.3h0.7M61.9 98.8h0.7M76.9 95.4h0.7M82.7 111.2h0.7M60.1 102.4h0.7M83.9 87.3h0.7M76.0 98.5h0.7M60.1 108.7h0.7M76.1 96.8h0.7M78.3 104.3h0.7M81.5 103.8h0.7M78.0 92.2h0.7M69.9 100.9h0.7M70.3 93.0h0.7M56.3 101.7h0.7M74.3 96.1h0.7M69.9 94.1h0.7M66.7 99.4h0.7M67.7 104.5h0.7M72.6 100.9h0.7M78.0 108.4h0.7M79.9 101.5h0.7M72.4 94.7h0.7M70.7 104.5h0.7M76.2 97.4h0.7M61.0 89.8h0.7M77.1 106.8h0.7M77.6 90.9h0.7M71.9 101.5h0.7M65.1 102.3h0.7M72.0 94.5h0.7M61.9 105.4h0.7M77.5 94.1h0.7M64.1 105.9h0.7M79.8 98.0h0.7M89.5 98.1h0.7M63.7 107.2h0.7M72.2 102.3h0.7M74.4 93.4h0.7M62.4 98.7h0.7M87.7 93.4h0.7M87.2 101.5h0.7M63.2 101.8h0.7M79.5 94.0h0.7M53.3 102.4h0.7M63.2 102.9h0.7M55.4 99.1h0.7M66.1 90.2h0.7M71.7 101.1h0.7M68.6 92.2h0.7M76.1 88.4h0.7M79.2 103.2h0.7M90.3 105.8h0.7M77.5 101.7h0.7M74.3 91.2h0.7M88.2 103.5h0.7M71.2 92.4h0.7M88.4 103.5h0.7M62.5 104.4h0.7M92.4 99.9h0.7M77.9 97.3h0.7M67.9 107.1h0.7M103.9 100.8h0.7M72.8 105.2h0.7M71.0 104.8h0.7M82.0 93.3h0.7M63.6 99.5h0.7M82.1 101.8h0.7M86.1 90.9h0.7M78.8 95.9h0.7M75.0 102.1h0.7M64.6 98.5h0.7M62.7 101.8h0.7M65.7 96.7h0.7M76.1 95.7h0.7M85.1 95.8h0.7M82.2 101.9h0.7M64.0 98.6h0.7M65.9 97.6h0.7M71.4 112.0h0.7M69.9 110.3h0.7M78.3 91.4h0.7M51.6 104.5h0.7M54.7 104.7h0.7M84.0 102.6h0.7M72.0 98.3h0.7M76.5 98.0h0.7M68.8 97.6h0.7M85.3 95.9h0.7M77.7 92.4h0.7M67.1 91.0h0.7M72.1 104.5h0.7M77.0 96.8h0.7M79.9 97.7h0.7M77.6 101.8h0.7M79.2 83.7h0.7M61.4 105.1h0.7M73.0 114.8h0.7M71.7 96.4h0.7M88.5 103.7h0.7M92.4 103.4h0.7M72.0 104.8h0.7M66.4 97.1h0.7M68.6 98.5h0.7M81.5 96.8h0.7M77.1 96.7h0.7M82.5 81.9h0.7M72.0 101.1h0.7M63.6 106.7h0.7M76.1 108.4h0.7M83.3 104.2h0.7M72.6 92.9h0.7M71.9 97.0h0.7M76.4 96.9h0.7M103.5 89.5h0.7M85.4 96.9h0.7M71.7 106.1h0.7M74.0 92.0h0.7M78.0 98.7h0.7M54.1 101.3h0.7M63.8 95.1h0.7M78.7 102.0h0.7M71.2 114.3h0.7M78.1 96.0h0.7M76.3 99.2h0.7M52.7 89.7h0.7M60.6 113.6h0.7M72.2 98.2h0.7M68.5 106.4h0.7M74.3 111.2h0.7M81.6 110.8h0.7M72.9 102.5h0.7M69.8 98.9h0.7M57.3 96.2h0.7M64.8 95.7h0.7M85.7 101.7h0.7M85.8 105.6h0.7M82.9 106.6h0.7M68.2 105.3h0.7M70.9 96.5h0.7M85.5 114.2h0.7M64.6 111.4h0.7M82.0 94.4h0.7M76.6 102.4h0.7M77.6 97.7h0.7M61.6 100.2h0.7M82.3 105.1h0.7M80.4 107.2h0.7M64.4 99.7h0.7M77.3 106.5h0.7M75.5 103.4h0.7M75.3 113.7h0.7M53.0 99.8h0.7M97.9 101.5h0.7M56.4 100.9h0.7M60.2 95.6h0.7M76.2 111.2h0.7M78.5 104.4h0.7M83.8 101.3h0.7M65.7 99.4h0.7M77.2 98.2h0.7M67.6 97.6h0.7M59.5 93.3h0.7M73.1 97.6h0.7M74.4 109.2h0.7M76.9 99.8h0.7M62.7 92.9h0.7M77.6 94.3h0.7M78.1 93.0h0.7M75.3 99.5h0.7M83.6 97.4h0.7M70.4 101.6h0.7M74.5 111.1h0.7M71.5 96.5h0.7M70.9 103.1h0.7M76.3 104.5h0.7M60.7 116.2h0.7M91.7 99.8h0.7M62.4 101.0h0.7M78.0 85.4h0.7M74.1 90.3h0.7M78.4 109.0h0.7M83.9 90.1h0.7M87.3 105.9h0.7M70.5 103.3h0.7M88.6 97.8h0.7M73.8 96.3h0.7M85.1 85.9h0.7M87.7 93.7h0.7M82.9 89.4h0.7M65.0 96.1h0.7M82.0 89.4h0.7M79.8 95.8h0.7M85.9 98.0h0.7M78.7 98.9h0.7M91.3 97.6h0.7M73.8 113.0h0.7M74.7 104.5h0.7M66.9 101.3h0.7M52.2 100.7h0.7M67.8 90.2h0.7M60.4 107.5h0.7M78.1 90.1h0.7M91.5 95.4h0.7M70.5 101.6h0.7M63.1 89.4h0.7M66.8 107.7h0.7M83.2 89.7h0.7M85.6 100.2h0.7M78.8 100.3h0.7M78.0 93.5h0.7M65.3 95.4h0.7M70.5 104.1h0.7M62.3 110.4h0.7M67.9 96.1h0.7M80.8 102.8h0.7M70.7 93.0h0.7M64.4 89.5h0.7M85.0 107.1h0.7M92.0 103.3h0.7M77.2 105.0h0.7M83.2 98.3h0.7M77.4 114.1h0.7M57.7 90.8h0.7M64.7 104.9h0.7M85.4 97.8h0.7M80.5 99.7h0.7M76.9 96.5h0.7M73.7 100.0h0.7M84.9 114.6h0.7M56.5 103.5h0.7M74.0 106.3h0.7M84.2 105.1h0.7M81.8 93.8h0.7M57.6 110.9h0.7M85.6 93.8h0.7M86.4 104.4h0.7M50.4 105.9h0.7M64.5 107.6h0.7M67.4 95.1h0.7M59.1 98.6h0.7M83.8 95.6h0.7M56.1 114.0h0.7M91.8 104.5h0.7M68.8 92.1h0.7M58.2 103.7h0.7M86.5 93.1h0.7M74.0 98.2h0.7M71.5 103.3h0.7M94.2 95.8h0.7M82.2 107.1h0.7M71.3 99.0h0.7M61.1 107.1h0.7M68.9 95.7h0.7M74.6 94.4h0.7M64.0 98.0h0.7M88.3 98.7h0.7M79.1 90.4h0.7M55.2 111.9h0.7M70.2 89.9h0.7M73.0 104.0h0.7M57.3 94.2h0.7M76.5 94.0h0.7M81.7 106.3h0.7M78.3 97.2h0.7M73.6 95.9h0.7M72.7 102.1h0.7M71.1 106.4h0.7M99.0 96.4h0.7M77.3 105.4h0.7M80.2 98.4h0.7M69.4 106.6h0.7M80.0 103.3h0.7M66.2 104.1h0.7M81.7 98.8h0.7M80.2 114.3h0.7M55.9 104.0h0.7M62.7 91.0h0.7M71.7 103.6h0.7M74.5 92.3h0.7M60.1 96.3h0.7M74.1 94.5h0.7M59.5 111.5h0.7M65.9 99.0h0.7M68.7 96.2h0.7M74.4 98.0h0.7M80.0 92.2h0.7M59.6 112.8h0.7M73.3 105.1h0.7M85.4 103.6h0.7M74.4 89.8h0.7M58.5 106.4h0.7M80.6 103.7h0.7M57.9 86.0h0.7M63.8 92.2h0.7M75.5 93.3h0.7M89.3 95.9h0.7M68.6 105.7h0.7M77.2 94.1h0.7M82.0 112.7h0.7M62.1 98.4h0.7M63.6 87.2h0.7M80.1 104.6h0.7M83.5 102.8h0.7M54.5 99.8h0.7M67.5 92.2h0.7M63.3 105.1h0.7M71.1 113.0h0.7M78.6 87.4h0.7M82.7 108.3h0.7M74.3 92.0h0.7M91.2 91.3h0.7M73.2 87.4h0.7M61.8 88.8h0.7M84.6 107.8h0.7M70.1 91.0h0.7M73.4 102.5h0.7M59.1 92.3h0.7M73.0 104.7h0.7M74.7 103.0h0.7M61.8 83.5h0.7M77.0 93.9h0.7M72.8 97.5h0.7M78.7 94.9h0.7M88.1 100.2h0.7M79.2 104.2h0.7M84.1 102.7h0.7M56.9 95.8h0.7M92.2 103.1h0.7M79.5 103.1h0.7M67.7 95.5h0.7M67.7 107.7h0.7M77.6 111.8h0.7M78.9 112.6h0.7M78.5 92.1h0.7M91.0 102.2h0.7M85.7 101.4h0.7M70.8 101.1h0.7M63.0 92.0h0.7M65.3 96.5h0.7M60.7 99.3h0.7M77.0 113.5h0.7M92.1 99.7h0.7M82.7 98.5h0.7M77.8 99.8h0.7M68.7 100.5h0.7M59.5 102.9h0.7M71.2 92.8h0.7M70.5 103.7h0.7M67.3 103.2h0.7M79.6 110.4h0.7M63.3 99.3h0.7M79.0 110.0h0.7M76.6 105.0h0.7M59.6 96.1h0.7M90.4 98.1h0.7M95.3 95.1h0.7M71.3 89.3h0.7M80.3 101.8h0.7M93.9 101.1h0.7M71.5 90.6h0.7M73.2 106.3h0.7M81.3 108.2h0.7M82.5 99.7h0.7M80.0 101.2h0.7M60.8 111.5h0.7M77.7 92.9h0.7M77.8 101.9h0.7M83.8 109.7h0.7M89.1 93.6h0.7M55.6 101.9h0.7M77.3 102.4h0.7M63.0 96.9h0.7M75.9 105.0h0.7M95.7 102.0h0.7M68.0 84.1h0.7M84.6 99.1h0.7M72.9 93.3h0.7M81.3 87.9h0.7M75.1 100.8h0.7M77.0 108.8h0.7M73.0 100.6h0.7M82.5 89.5h0.7M71.1 100.5h0.7M83.5 94.6h0.7M82.0 102.6h0.7M59.2 90.0h0.7M59.8 100.9h0.7M76.1 104.9h0.7M82.2 96.3h0.7M84.6 105.5h0.7M78.7 103.2h0.7M61.2 102.4h0.7M63.7 91.9h0.7M70.5 100.9h0.7M73.5 97.8h0.7M64.1 101.3h0.7M66.6 90.5h0.7M74.9 109.8h0.7M70.0 92.8h0.7M87.8 111.6h0.7M71.1 98.6h0.7M75.3 106.7h0.7M78.4 87.7h0.7M63.0 91.7h0.7M78.3 100.7h0.7M91.8 98.2h0.7M77.1 100.5h0.7M75.4 115.7h0.7M76.8 110.0h0.7M86.9 95.9h0.7M80.8 97.4h0.7M75.1 101.1h0.7M74.2 96.8h0.7M89.5 98.2h0.7M81.0 111.4h0.7M80.2 107.0h0.7M87.8 107.4h0.7M91.1 90.3h0.7M93.5 100.2h0.7M56.6 95.7h0.7M60.1 99.9h0.7M59.1 93.2h0.7M77.0 101.1h0.7M66.0 98.4h0.7M73.0 100.5h0.7M73.9 98.5h0.7M82.8 89.1h0.7M69.1 100.9h0.7M70.0 96.3h0.7M69.6 101.4h0.7M86.4 98.7h0.7M71.3 102.4h0.7M71.6 86.9h0.7M76.7 97.4h0.7M68.3 104.3h0.7M74.4 96.2h0.7M52.2 88.3h0.7M74.1 99.2h0.7M78.4 101.5h0.7M69.2 91.4h0.7M63.1 99.1h0.7M62.5 105.1h0.7M60.7 87.8h0.7M72.1 87.9h0.7M90.3 93.3h0.7M73.5 98.3h0.7M65.8 88.0h0.7M55.4 105.9h0.7M84.2 114.7h0.7M59.4 103.8h0.7M73.9 105.7h0.7M68.9 104.9h0.7M83.0 104.1h0.7M88.5 98.8h0.7M89.4 95.2h0.7M90.7 81.3h0.7M74.1 94.6h0.7M74.0 107.0h0.7M81.2 100.6h0.7M91.0 90.0h0.7M65.9 110.3h0.7M77.3 85.9h0.7M77.4 91.9h0.7M88.8 107.8h0.7M68.5 108.8h0.7M65.7 106.3h0.7M79.8 99.1h0.7M59.8 98.1h0.7M51.1 96.2h0.7M55.5 108.3h0.7M64.3 83.5h0.7M79.8 102.5h0.7M68.9 114.4h0.7M81.7 100.5h0.7M67.6 79.9h0.7M78.8 106.5h0.7M68.1 90.4h0.7M73.6 88.6h0.7M74.1 105.2h0.7M89.1 101.8h0.7M76.0 105.1h0.7M88.0 97.8h0.7M61.7 94.6h0.7M61.4 94.0h0.7M72.8 102.3h0.7M75.6 100.5h0.7M70.4 102.9h0.7M82.9 105.2h0.7M89.0 98.0h0.7M71.5 111.5h0.7M76.0 102.8h0.7M70.6 106.6h0.7M70.0 93.1h0.7M73.4 97.0h0.7M82.3 97.4h0.7M75.2 98.5h0.7M77.4 95.7h0.7M85.0 90.3h0.7M70.1 95.2h0.7M80.5 100.3h0.7M78.8 97.8h0.7M66.8 92.4h0.7M70.7 96.4h0.7M76.8 102.4h0.7M83.8 99.3h0.7M66.5 92.8h0.7M74.6 102.5h0.7M123.4 101.6h0.7M121.1 116.9h0.7M87.4 110.9h0.7M113.6 112.1h0.7M99.9 108.6h0.7M94.2 99.4h0.7M100.2 116.0h0.7M97.4 108.6h0.7M100.8 93.6h0.7M102.9 105.9h0.7M91.5 105.7h0.7M91.5 92.1h0.7M102.6 97.9h0.7M88.2 85.3h0.7M100.3 102.2h0.7M94.5 101.7h0.7M81.7 103.5h0.7M105.0 102.5h0.7M92.6 100.7h0.7M101.6 109.6h0.7M103.3 102.3h0.7M91.3 107.8h0.7M114.1 95.6h0.7M107.7 102.8h0.7M99.4 88.4h0.7M121.1 83.2h0.7M103.6 96.6h0.7M113.7 96.2h0.7M100.5 105.5h0.7M105.5 95.3h0.7M108.2 103.5h0.7M111.9 95.4h0.7M99.4 96.5h0.7M90.0 102.3h0.7M104.9 112.8h0.7M96.1 103.5h0.7M113.7 99.0h0.7M100.8 101.2h0.7M91.7 91.1h0.7M113.4 101.6h0.7M99.1 88.8h0.7M101.4 110.5h0.7M86.2 92.0h0.7M113.3 112.8h0.7M118.6 95.0h0.7M107.2 93.3h0.7M106.2 96.7h0.7M102.3 112.0h0.7M104.0 97.8h0.7M100.7 102.4h0.7M93.9 101.9h0.7M107.2 114.0h0.7M75.4 89.3h0.7M85.2 107.8h0.7M129.1 101.7h0.7M101.4 110.2h0.7M70.9 98.4h0.7M62.8 101.4h0.7M93.9 95.7h0.7M104.1 94.8h0.7M113.3 100.0h0.7M94.7 108.3h0.7M90.1 111.2h0.7M111.5 101.3h0.7M111.8 114.4h0.7M116.4 100.0h0.7M99.3 109.9h0.7M82.5 94.6h0.7M105.8 105.1h0.7M122.1 115.7h0.7M103.9 103.9h0.7M84.3 98.3h0.7M103.1 98.0h0.7M100.7 105.4h0.7M88.7 94.9h0.7M78.9 110.2h0.7M87.5 84.8h0.7M109.2 98.1h0.7M111.5 96.7h0.7M125.2 106.4h0.7M101.8 101.0h0.7M97.6 107.2h0.7M123.7 96.2h0.7M87.1 105.3h0.7M112.7 86.7h0.7M91.8 91.1h0.7M106.7 104.5h0.7M91.3 90.0h0.7M108.1 81.7h0.7M107.6 98.6h0.7M122.7 108.8h0.7M93.1 97.6h0.7M96.7 93.5h0.7M101.0 108.6h0.7M82.2 98.0h0.7M117.7 106.6h0.7M90.4 92.8h0.7M89.9 85.8h0.7M113.6 100.6h0.7M91.8 87.3h0.7M95.5 95.5h0.7M120.3 95.9h0.7M101.4 109.5h0.7M107.9 98.4h0.7M74.2 112.4h0.7M107.1 96.2h0.7M99.0 91.5h0.7M89.4 86.9h0.7M105.9 104.6h0.7M102.1 106.9h0.7M106.3 101.1h0.7M89.6 105.2h0.7M114.0 105.6h0.7M114.7 95.8h0.7M88.5 111.1h0.7M93.1 102.1h0.7M97.8 100.2h0.7M96.8 95.2h0.7M79.0 116.8h0.7M102.4 83.0h0.7M89.3 90.1h0.7M91.3 77.5h0.7M106.8 114.5h0.7M97.1 106.6h0.7M107.1 89.0h0.7M114.3 85.1h0.7M93.2 96.8h0.7M114.8 101.0h0.7M98.5 92.9h0.7M101.1 100.4h0.7M108.6 112.3h0.7M108.7 100.2h0.7M98.2 114.1h0.7M102.4 99.9h0.7M121.1 113.8h0.7M106.7 99.0h0.7M92.5 109.4h0.7M94.7 108.5h0.7M90.8 100.9h0.7M104.7 101.3h0.7M102.7 103.4h0.7M86.8 90.2h0.7M98.3 115.9h0.7M98.5 91.8h0.7M92.3 100.3h0.7M113.9 95.0h0.7M106.6 101.6h0.7M95.8 91.7h0.7M98.2 93.6h0.7M106.3 84.5h0.7M113.2 106.7h0.7M106.8 113.2h0.7M107.1 85.0h0.7M100.6 104.0h0.7M92.0 90.1h0.7M105.1 104.5h0.7M95.0 97.9h0.7M94.1 95.0h0.7M99.3 109.4h0.7M81.1 97.0h0.7M118.9 102.8h0.7M101.8 107.3h0.7M88.3 89.4h0.7M80.6 87.2h0.7M102.9 107.5h0.7M95.1 94.0h0.7M104.7 105.4h0.7M103.0 83.3h0.7M93.6 77.8h0.7M102.8 92.6h0.7M92.3 113.2h0.7M115.5 104.2h0.7M103.2 101.5h0.7M93.2 99.6h0.7M122.3 92.3h0.7M92.3 101.4h0.7M110.4 107.3h0.7M88.7 98.9h0.7M96.9 89.2h0.7M100.9 95.8h0.7M110.7 103.8h0.7M90.9 100.7h0.7M95.8 94.4h0.7M94.3 109.3h0.7M95.2 85.0h0.7M91.0 107.1h0.7M125.1 90.8h0.7M95.9 97.1h0.7M83.6 103.5h0.7M99.4 102.4h0.7M126.1 97.7h0.7M109.3 107.3h0.7M92.6 94.8h0.7M118.2 106.3h0.7M101.7 90.4h0.7M110.3 104.6h0.7M125.6 112.9h0.7M109.4 102.3h0.7M100.7 95.2h0.7M103.6 102.1h0.7M107.6 109.5h0.7M103.6 95.3h0.7M109.4 113.6h0.7M90.3 103.7h0.7M106.4 104.7h0.7M105.9 99.2h0.7M98.8 114.8h0.7M120.2 87.7h0.7M70.4 103.8h0.7M92.1 95.5h0.7M81.4 103.1h0.7M99.4 95.3h0.7M117.2 110.3h0.7M95.2 105.8h0.7M99.6 110.1h0.7M106.8 99.7h0.7M106.4 93.7h0.7M109.2 113.2h0.7M95.8 104.9h0.7M80.6 108.2h0.7M110.2 91.1h0.7M120.3 101.0h0.7M79.8 88.0h0.7M110.2 97.6h0.7M112.9 86.4h0.7M98.9 108.5h0.7M92.1 106.0h0.7M95.8 103.0h0.7M85.6 106.8h0.7M115.3 90.2h0.7M112.2 74.1h0.7M97.2 85.1h0.7M103.5 93.7h0.7M93.5 92.7h0.7M103.4 95.9h0.7M89.5 98.0h0.7M104.7 92.5h0.7M113.0 85.5h0.7M104.8 96.6h0.7M118.3 94.4h0.7M92.3 88.3h0.7M123.2 105.4h0.7M87.4 97.1h0.7M88.8 113.3h0.7M104.9 82.2h0.7M102.4 108.0h0.7M100.0 104.1h0.7M98.7 101.8h0.7M102.5 93.8h0.7M104.1 101.4h0.7M99.6 94.0h0.7M88.2 102.2h0.7M109.6 78.9h0.7M93.8 111.8h0.7M110.7 93.8h0.7M115.8 91.4h0.7M90.8 117.0h0.7M94.9 98.1h0.7M80.8 91.2h0.7M86.3 98.8h0.7M78.6 109.3h0.7M95.9 94.7h0.7M92.6 106.5h0.7M117.9 96.4h0.7M118.8 114.1h0.7M115.7 102.6h0.7M82.6 105.9h0.7M95.2 101.7h0.7M78.0 97.5h0.7M102.7 91.8h0.7M103.4 114.7h0.7M102.7 94.0h0.7M127.8 81.1h0.7M89.3 103.6h0.7M93.1 79.9h0.7M103.0 107.3h0.7M90.7 112.8h0.7M105.8 110.4h0.7M82.2 100.0h0.7M115.4 100.0h0.7M102.1 94.5h0.7M112.8 93.9h0.7M101.4 81.9h0.7M82.4 115.6h0.7M100.7 101.9h0.7M74.3 99.7h0.7M124.2 86.9h0.7M72.2 98.6h0.7M93.8 98.2h0.7M85.3 88.1h0.7M85.5 105.6h0.7M99.4 107.2h0.7M87.4 105.2h0.7M94.8 100.8h0.7M110.9 100.3h0.7M95.9 85.4h0.7M100.7 106.9h0.7M92.6 99.4h0.7M79.3 88.3h0.7M104.7 111.4h0.7M110.5 56.8h0.7M110.0 57.5h0.7M114.8 75.7h0.7M117.4 63.7h0.7M123.5 61.1h0.7M118.1 65.4h0.7M117.2 56.4h0.7M122.1 68.3h0.7M92.3 54.9h0.7M108.9 74.5h0.7M115.9 68.5h0.7M120.8 68.7h0.7M108.8 63.1h0.7M118.9 67.5h0.7M120.3 65.7h0.7M112.1 71.7h0.7M120.3 69.8h0.7M94.1 75.0h0.7M94.1 70.6h0.7M109.4 66.9h0.7M110.5 64.2h0.7M117.1 66.5h0.7M105.2 53.1h0.7M108.8 69.3h0.7M108.2 68.8h0.7M110.7 60.7h0.7M127.0 71.6h0.7M114.0 64.9h0.7M121.8 56.2h0.7M108.7 72.6h0.7M122.3 60.7h0.7M108.6 68.3h0.7M102.2 65.0h0.7M110.2 52.3h0.7M121.0 68.0h0.7M122.7 55.4h0.7M102.9 63.0h0.7M106.0 78.3h0.7M106.1 65.1h0.7M117.3 67.0h0.7M126.4 56.5h0.7M122.8 64.2h0.7M105.0 68.0h0.7M104.6 76.2h0.7M109.8 71.7h0.7M125.7 59.3h0.7M107.3 67.4h0.7M106.9 71.7h0.7M115.7 60.6h0.7M109.8 70.1h0.7M104.3 76.7h0.7M107.9 65.4h0.7M108.8 75.4h0.7M123.7 70.4h0.7M120.8 64.3h0.7M130.6 65.4h0.7M119.5 67.3h0.7M121.8 65.1h0.7M111.7 56.8h0.7M131.6 54.2h0.7M95.3 65.2h0.7M110.0 67.5h0.7M112.5 54.4h0.7M112.4 67.2h0.7M123.9 56.4h0.7M93.4 60.8h0.7M118.0 64.8h0.7M116.5 65.5h0.7M110.2 58.4h0.7M119.4 66.2h0.7M121.5 70.6h0.7M101.4 54.8h0.7M101.8 79.8h0.7M107.4 68.9h0.7M115.7 68.9h0.7M112.8 62.1h0.7M117.8 67.3h0.7M108.0 73.9h0.7M125.6 65.2h0.7M113.8 63.9h0.7M101.3 71.6h0.7M105.8 64.1h0.7M122.7 58.2h0.7M111.4 70.6h0.7M130.6 57.8h0.7M124.0 59.4h0.7M119.0 66.9h0.7M106.2 72.6h0.7M130.9 61.9h0.7M116.0 58.2h0.7M130.8 62.0h0.7M104.6 71.5h0.7M101.4 64.0h0.7M97.8 76.4h0.7M108.6 63.1h0.7M110.7 69.0h0.7M126.7 56.9h0.7M116.8 54.5h0.7M128.3 61.7h0.7M110.6 74.5h0.7M115.6 72.6h0.7M126.4 71.9h0.7M108.0 66.8h0.7M118.0 63.3h0.7M127.6 58.3h0.7M125.4 70.5h0.7M96.7 63.4h0.7M106.4 63.8h0.7M118.2 63.3h0.7M115.2 62.4h0.7M114.8 67.8h0.7M120.7 59.4h0.7M113.1 61.1h0.7M111.8 57.6h0.7M124.2 66.8h0.7M113.1 61.5h0.7M110.2 62.3h0.7M103.3 76.7h0.7M105.4 70.3h0.7M118.5 55.4h0.7M98.7 71.5h0.7M99.1 76.4h0.7M110.7 66.4h0.7M114.3 62.0h0.7M113.4 63.7h0.7M125.9 62.2h0.7M114.1 62.2h0.7M108.6 62.2h0.7M117.2 74.9h0.7M125.1 64.2h0.7M130.9 67.3h0.7M116.6 63.7h0.7M105.6 68.4h0.7M110.4 57.1h0.7M105.9 77.8h0.7M117.5 67.3h0.7M116.2 62.1h0.7M120.3 70.0h0.7M112.9 68.3h0.7M123.5 60.5h0.7M115.6 60.7h0.7M119.9 61.9h0.7M124.2 58.7h0.7M129.5 60.2h0.7M106.6 61.7h0.7M119.9 59.2h0.7M132.4 68.5h0.7M117.9 56.4h0.7M114.0 61.1h0.7M99.5 70.7h0.7M123.6 70.4h0.7M106.2 65.0h0.7M117.9 67.0h0.7M105.2 68.3h0.7M115.1 70.3h0.7M100.3 65.0h0.7M110.2 64.2h0.7M120.6 60.3h0.7M123.6 68.9h0.7M123.3 62.1h0.7M107.4 65.2h0.7M121.0 64.4h0.7M120.8 67.0h0.7M106.1 61.6h0.7M127.1 59.7h0.7M103.2 78.0h0.7M106.6 61.5h0.7M122.2 57.1h0.7M108.5 72.3h0.7M110.7 80.0h0.7M118.9 79.3h0.7M116.2 65.1h0.7M109.1 65.0h0.7M110.6 65.8h0.7M120.3 56.7h0.7M104.5 55.5h0.7M128.2 61.8h0.7M114.8 64.7h0.7M124.2 64.8h0.7M122.3 62.5h0.7M113.9 64.9h0.7M99.9 74.3h0.7M100.0 62.6h0.7M121.0 64.0h0.7M124.1 72.7h0.7M133.0 69.0h0.7M115.4 76.4h0.7M107.2 66.2h0.7M123.5 62.0h0.7M113.5 63.3h0.7M124.2 49.2h0.7M127.4 68.3h0.7M115.0 68.2h0.7M107.7 72.8h0.7M127.2 62.1h0.7M111.5 63.0h0.7M111.9 58.6h0.7M104.9 76.5h0.7M115.5 68.0h0.7M118.3 67.0h0.7M100.5 62.8h0.7M121.7 69.2h0.7M104.3 64.0h0.7M106.3 70.5h0.7M118.1 64.5h0.7M109.7 68.1h0.7M114.4 60.9h0.7M117.2 60.8h0.7M124.1 66.6h0.7M109.6 69.4h0.7M114.8 61.1h0.7M105.1 57.8h0.7M105.4 69.0h0.7M124.9 59.4h0.7M116.8 66.6h0.7M122.4 65.9h0.7M126.7 66.8h0.7M108.7 68.6h0.7M94.2 68.4h0.7M115.8 68.1h0.7M113.3 70.0h0.7M125.7 58.0h0.7M110.5 67.4h0.7M119.5 64.9h0.7M121.0 57.1h0.7M123.2 69.8h0.7M125.3 65.2h0.7M113.4 67.6h0.7M112.5 56.6h0.7M109.6 65.9h0.7M109.4 60.9h0.7M112.5 63.4h0.7M115.6 64.6h0.7M117.6 70.0h0.7M116.7 66.9h0.7M100.9 51.4h0.7M112.2 69.4h0.7M111.3 62.3h0.7M105.1 72.1h0.7M110.6 67.3h0.7M125.6 65.8h0.7M124.2 66.9h0.7M109.3 66.5h0.7M108.9 60.5h0.7M116.8 60.3h0.7M128.9 57.9h0.7M110.3 66.5h0.7M110.5 66.3h0.7M108.0 58.5h0.7M92.3 62.6h0.7M128.9 64.5h0.7M115.8 62.2h0.7M114.1 66.9h0.7M101.9 63.3h0.7M108.6 73.4h0.7M107.0 73.3h0.7M114.0 80.5h0.7M114.3 65.3h0.7M127.9 67.2h0.7M122.0 57.5h0.7M126.9 71.9h0.7M113.5 62.6h0.7M106.6 72.5h0.7M117.6 64.5h0.7M106.0 76.0h0.7M122.7 63.3h0.7M126.9 57.1h0.7M121.6 58.0h0.7M127.1 60.9h0.7M125.3 60.5h0.7M119.8 70.4h0.7M107.2 67.2h0.7M108.6 71.2h0.7M109.3 64.1h0.7M114.5 71.6h0.7M105.8 66.8h0.7M111.5 62.7h0.7M107.9 65.6h0.7M115.0 56.3h0.7M115.7 58.2h0.7M117.7 77.2h0.7M106.4 66.5h0.7M113.9 70.8h0.7M108.8 56.3h0.7M101.0 69.0h0.7M118.4 70.3h0.7M111.0 69.6h0.7M107.1 74.0h0.7M113.6 61.5h0.7M118.6 74.0h0.7M106.1 59.9h0.7M104.7 60.7h0.7M115.0 67.0h0.7M113.8 66.4h0.7M125.1 61.2h0.7M101.4 55.0h0.7M116.4 60.9h0.7M113.3 67.7h0.7M117.3 55.7h0.7M106.7 67.2h0.7M115.0 71.4h0.7M108.2 54.8h0.7M123.4 54.0h0.7M106.9 68.9h0.7M108.5 80.4h0.7M117.7 67.4h0.7M113.7 77.7h0.7M118.9 60.1h0.7M124.1 53.6h0.7M110.2 67.6h0.7M115.1 59.6h0.7M130.6 70.0h0.7M107.2 68.8h0.7M108.9 63.9h0.7M123.8 63.8h0.7M114.2 65.8h0.7M106.1 73.8h0.7M109.9 73.4h0.7M110.4 63.4h0.7M128.3 63.2h0.7M108.8 63.3h0.7M122.5 73.9h0.7M120.0 61.7h0.7M104.4 63.5h0.7M114.2 66.5h0.7M110.7 73.1h0.7M105.8 63.0h0.7M119.9 66.7h0.7M112.7 70.9h0.7M104.5 76.4h0.7M118.3 75.4h0.7M117.0 72.1h0.7M113.5 66.4h0.7M117.6 54.6h0.7M115.1 74.6h0.7M89.7 72.5h0.7M123.5 65.0h0.7M118.3 72.1h0.7M115.8 54.2h0.7M106.3 65.2h0.7M115.8 62.3h0.7M116.0 74.2h0.7M90.5 76.7h0.7M123.9 66.5h0.7M115.2 65.3h0.7M118.5 65.6h0.7M109.5 70.6h0.7M107.7 66.3h0.7M110.5 59.5h0.7M120.2 63.5h0.7M104.7 66.8h0.7M104.5 75.3h0.7M121.8 74.7h0.7M110.8 69.9h0.7M105.5 62.2h0.7M114.7 67.4h0.7M122.8 61.8h0.7M125.8 68.1h0.7M107.1 65.7h0.7M108.9 75.9h0.7M111.2 70.8h0.7M122.7 61.9h0.7M111.1 67.8h0.7M106.8 59.7h0.7M106.9 68.6h0.7M118.7 74.1h0.7M99.5 71.1h0.7M106.2 73.3h0.7M121.2 64.4h0.7M127.5 60.3h0.7M109.2 60.4h0.7M109.4 66.8h0.7M122.4 70.6h0.7M111.8 61.6h0.7M111.6 63.3h0.7M110.4 63.7h0.7M107.3 66.3h0.7M110.3 65.1h0.7M103.0 68.4h0.7M120.7 67.4h0.7M108.9 59.9h0.7M102.3 61.2h0.7M109.0 64.5h0.7M100.3 71.9h0.7M100.8 64.2h0.7M109.6 70.8h0.7M130.7 59.7h0.7M112.2 63.4h0.7M113.1 64.5h0.7M113.2 61.0h0.7M117.5 61.6h0.7M118.8 58.2h0.7M100.4 72.0h0.7M109.6 59.7h0.7M118.3 61.4h0.7M120.8 60.7h0.7M123.0 64.1h0.7M118.3 65.2h0.7M111.4 63.8h0.7M119.7 67.9h0.7M114.0 77.7h0.7M128.4 55.8h0.7M124.4 62.6h0.7M116.1 60.4h0.7M128.4 57.6h0.7M113.5 61.3h0.7M103.0 65.1h0.7M117.7 62.0h0.7M110.7 59.9h0.7M116.0 58.8h0.7M124.9 76.2h0.7M114.0 74.3h0.7M117.5 60.8h0.7M110.9 60.6h0.7M116.8 68.5h0.7M122.8 61.8h0.7M104.6 66.8h0.7M129.8 63.4h0.7M112.1 54.1h0.7M111.9 68.7h0.7M108.3 73.9h0.7M109.1 61.4h0.7M109.9 65.6h0.7M123.0 60.2h0.7M99.4 67.9h0.7M121.3 72.2h0.7M106.9 74.9h0.7M121.4 66.2h0.7M107.4 61.8h0.7M107.8 71.7h0.7M118.1 70.2h0.7M130.8 61.8h0.7M116.7 75.2h0.7M103.2 65.1h0.7M111.4 63.7h0.7M115.3 60.3h0.7M123.5 55.7h0.7M106.1 57.6h0.7M103.5 70.7h0.7M120.2 62.8h0.7M123.0 66.7h0.7M110.0 65.9h0.7M120.4 74.9h0.7M111.6 67.8h0.7M121.1 70.4h0.7M119.9 69.9h0.7M105.5 65.6h0.7M98.2 68.3h0.7M116.1 66.3h0.7M114.8 57.8h0.7M101.1 70.2h0.7M111.0 63.0h0.7M107.7 64.6h0.7M92.5 67.9h0.7M101.0 78.3h0.7M127.7 71.5h0.7M106.6 66.2h0.7M89.5 69.5h0.7M131.3 75.5h0.7M112.5 67.7h0.7M110.6 73.3h0.7M110.5 73.4h0.7M100.4 72.1h0.7M107.1 79.1h0.7M96.2 82.8h0.7M108.3 66.4h0.7M110.5 71.0h0.7M107.7 73.8h0.7M100.4 58.3h0.7M118.7 68.3h0.7M131.5 69.3h0.7M86.5 84.0h0.7M102.1 75.8h0.7M96.1 71.8h0.7M90.7 78.8h0.7M115.7 60.9h0.7M117.0 76.2h0.7M119.3 63.1h0.7M99.8 63.0h0.7M94.2 75.3h0.7M112.3 80.0h0.7M113.0 67.0h0.7M94.2 85.1h0.7M112.0 69.5h0.7M96.0 64.3h0.7M116.7 61.2h0.7M118.2 73.6h0.7M103.0 58.5h0.7M117.1 79.9h0.7M97.9 62.2h0.7M123.9 68.8h0.7M103.8 80.8h0.7M107.1 74.1h0.7M103.9 65.2h0.7M111.6 63.0h0.7M87.0 69.9h0.7M127.0 75.7h0.7M130.6 68.4h0.7M105.2 74.6h0.7M99.1 77.8h0.7M104.7 73.0h0.7M99.1 70.9h0.7M122.0 66.2h0.7M101.9 73.7h0.7M120.8 66.7h0.7M93.2 60.7h0.7M94.6 81.2h0.7M109.5 73.9h0.7M123.9 69.9h0.7M115.4 65.2h0.7M90.6 78.4h0.7M109.6 74.7h0.7M96.4 71.4h0.7M113.0 79.9h0.7M107.3 71.6h0.7M84.3 80.7h0.7M106.2 80.9h0.7M108.4 67.4h0.7M115.2 67.3h0.7M105.6 83.0h0.7M122.5 68.8h0.7M121.3 74.6h0.7M117.4 69.2h0.7M111.5 73.0h0.7M117.6 71.5h0.7M103.0 70.7h0.7M114.4 61.6h0.7M110.9 75.9h0.7M111.8 67.6h0.7M109.1 66.5h0.7M121.8 65.1h0.7M87.5 64.6h0.7M114.1 71.0h0.7M102.3 61.2h0.7M107.0 64.1h0.7M101.8 71.5h0.7M100.8 74.2h0.7M100.1 68.2h0.7M109.1 81.7h0.7M131.0 73.8h0.7M100.8 71.8h0.7M122.5 74.2h0.7M89.5 73.3h0.7M101.8 77.4h0.7M117.3 64.7h0.7M111.5 84.6h0.7M102.8 67.7h0.7M128.5 66.6h0.7M114.3 59.6h0.7M115.4 74.7h0.7M103.1 67.7h0.7M90.8 76.4h0.7M126.7 73.8h0.7M122.5 73.4h0.7M96.8 62.3h0.7M118.3 70.0h0.7M122.0 65.9h0.7M99.6 75.4h0.7M100.9 59.0h0.7M101.2 64.9h0.7M95.3 68.4h0.7M125.0 85.7h0.7M131.1 63.2h0.7M124.2 67.1h0.7M114.2 64.2h0.7M106.9 57.7h0.7M131.5 60.4h0.7M116.6 64.4h0.7M111.9 60.7h0.7M106.5 77.8h0.7M114.9 54.2h0.7M119.0 58.4h0.7M114.3 73.4h0.7M101.6 69.2h0.7M107.5 73.7h0.7M123.3 78.3h0.7M116.8 84.4h0.7M100.5 85.6h0.7M107.8 76.5h0.7M108.6 71.0h0.7M99.0 75.1h0.7M109.8 70.2h0.7M118.7 67.0h0.7M110.3 71.8h0.7M127.6 74.4h0.7M96.0 67.7h0.7M111.4 76.4h0.7M121.9 66.4h0.7M129.5 77.7h0.7M130.3 68.1h0.7M115.2 57.4h0.7M86.9 69.5h0.7M120.4 76.5h0.7M110.1 78.1h0.7M119.3 80.3h0.7M89.0 67.4h0.7M96.7 64.4h0.7M129.5 59.6h0.7M99.1 69.0h0.7M120.5 64.7h0.7M120.0 72.6h0.7M98.9 53.9h0.7M96.9 62.8h0.7M129.6 61.1h0.7M97.1 75.3h0.7M109.5 63.0h0.7M125.0 74.6h0.7M112.5 63.8h0.7M96.4 56.7h0.7M115.3 72.2h0.7M98.5 72.3h0.7M89.4 78.5h0.7M104.0 67.4h0.7M117.7 67.8h0.7M123.2 71.8h0.7M124.7 68.4h0.7M84.7 85.0h0.7M90.0 81.7h0.7M111.3 59.2h0.7M112.0 76.6h0.7M97.3 72.7h0.7M99.4 64.2h0.7M104.0 81.0h0.7M118.6 68.4h0.7M109.2 71.2h0.7M113.9 70.8h0.7M89.7 80.8h0.7M95.8 52.5h0.7M117.3 59.5h0.7M108.1 69.7h0.7M103.3 75.4h0.7M106.2 68.6h0.7M97.7 70.1h0.7M97.1 72.7h0.7M128.0 74.7h0.7M113.6 58.9h0.7M124.2 74.8h0.7M133.0 48.7h0.7M109.8 67.6h0.7M122.3 59.5h0.7M108.3 88.3h0.7M119.9 52.9h0.7M112.1 80.3h0.7M103.0 75.9h0.7M109.3 58.9h0.7M103.6 80.0h0.7M124.1 62.9h0.7M123.2 62.2h0.7M113.1 69.4h0.7M94.7 75.3h0.7M101.5 50.3h0.7M98.5 65.6h0.7M98.2 64.6h0.7M98.1 53.2h0.7M121.3 68.6h0.7M112.9 67.5h0.7M110.5 67.9h0.7M94.3 61.1h0.7M112.3 77.5h0.7M115.1 81.7h0.7M92.5 71.1h0.7M103.9 80.7h0.7M130.7 62.4h0.7M118.9 66.6h0.7M97.3 71.4h0.7M99.0 84.0h0.7M119.0 77.7h0.7M111.3 51.0h0.7M120.2 68.9h0.7M80.1 76.1h0.7M125.0 80.7h0.7M98.2 78.2h0.7M114.0 68.0h0.7M107.1 74.7h0.7M118.1 73.7h0.7M103.1 61.0h0.7M128.3 76.9h0.7M102.9 71.1h0.7M117.8 55.0h0.7M119.5 87.2h0.7M112.5 64.1h0.7M112.1 66.4h0.7M109.9 56.1h0.7M91.9 61.8h0.7M121.2 67.3h0.7M121.8 52.1h0.7M104.4 82.3h0.7M97.6 57.7h0.7M100.2 69.1h0.7M111.6 79.9h0.7M128.8 78.8h0.7M116.7 64.9h0.7M101.8 60.0h0.7M127.7 76.7h0.7M109.9 63.1h0.7M119.2 72.2h0.7M110.4 60.9h0.7M112.3 65.2h0.7M120.1 72.9h0.7M115.0 65.8h0.7M130.2 72.5h0.7M127.1 73.5h0.7M118.9 71.5h0.7M94.1 58.7h0.7M99.0 76.7h0.7M121.7 69.4h0.7M113.6 83.7h0.7M102.6 57.4h0.7M90.1 71.0h0.7M119.8 74.0h0.7M108.3 76.7h0.7M108.4 64.6h0.7M106.3 76.6h0.7M120.5 59.4h0.7M97.7 73.1h0.7M94.8 75.9h0.7M115.6 64.3h0.7M110.3 73.7h0.7M88.1 73.7h0.7M118.8 75.6h0.7M124.5 66.9h0.7M93.7 83.3h0.7M118.8 63.5h0.7M124.4 75.6h0.7M105.1 52.5h0.7M103.1 65.3h0.7M99.4 71.2h0.7M97.0 75.3h0.7M132.1 56.8h0.7M122.4 63.7h0.7M116.7 67.8h0.7M125.2 61.8h0.7M118.2 62.5h0.7M112.9 69.4h0.7M121.6 55.7h0.7M94.9 83.5h0.7M117.1 82.0h0.7M97.4 73.9h0.7M119.9 82.0h0.7M108.7 66.7h0.7M118.8 67.7h0.7M101.6 77.4h0.7M84.8 66.5h0.7M126.4 63.2h0.7M106.4 73.5h0.7M124.8 71.5h0.7M97.2 67.8h0.7M123.0 66.8h0.7M103.3 78.0h0.7M127.2 83.9h0.7M79.4 73.2h0.7M83.9 83.4h0.7M86.4 90.7h0.7M60.5 89.2h0.7M84.5 77.4h0.7M98.7 81.9h0.7M80.1 94.4h0.7M98.8 75.3h0.7M94.5 69.4h0.7M77.6 77.1h0.7M96.3 81.0h0.7M82.9 66.7h0.7M72.3 95.3h0.7M96.3 72.3h0.7M105.9 85.2h0.7M87.2 74.1h0.7M105.3 83.1h0.7M111.2 83.5h0.7M85.2 74.3h0.7M83.8 82.4h0.7M95.0 85.8h0.7M97.3 69.9h0.7M89.6 71.0h0.7M97.6 67.4h0.7M85.2 71.8h0.7M84.8 77.5h0.7M109.7 77.5h0.7M75.2 77.1h0.7M100.8 85.3h0.7M94.8 99.1h0.7M105.0 80.9h0.7M106.2 67.2h0.7M90.0 71.7h0.7M94.1 95.5h0.7M86.2 95.3h0.7M80.1 93.7h0.7M72.2 71.9h0.7M103.7 79.1h0.7M93.7 79.9h0.7M94.1 78.3h0.7M80.6 77.2h0.7M93.3 71.4h0.7M97.5 96.9h0.7M72.9 74.8h0.7M88.7 80.2h0.7M93.1 73.0h0.7M91.6 80.1h0.7M91.0 94.8h0.7M93.5 65.8h0.7M73.7 85.7h0.7M88.0 74.1h0.7M76.2 77.0h0.7M90.9 73.4h0.7M87.9 88.5h0.7M101.2 85.2h0.7M90.0 67.0h0.7M101.1 94.4h0.7M106.9 91.2h0.7M95.2 83.6h0.7M91.8 92.0h0.7M88.9 100.6h0.7M101.1 76.9h0.7M92.0 64.6h0.7M83.5 77.1h0.7M120.6 72.2h0.7M102.7 80.7h0.7M88.6 86.0h0.7M68.8 89.1h0.7M114.6 82.8h0.7M91.3 81.5h0.7M99.7 75.3h0.7M93.4 84.8h0.7M87.9 83.7h0.7M95.9 86.9h0.7M80.5 74.9h0.7M87.0 91.5h0.7M94.9 64.1h0.7M77.1 98.6h0.7M96.0 67.6h0.7M81.4 81.4h0.7M108.6 95.5h0.7M87.8 77.1h0.7M114.4 70.6h0.7M110.2 83.3h0.7M93.1 92.4h0.7M97.6 72.0h0.7M74.2 80.2h0.7M98.0 93.1h0.7M61.6 92.9h0.7M99.2 94.6h0.7M101.3 82.0h0.7M97.0 83.8h0.7M84.7 78.9h0.7M93.5 75.7h0.7M74.9 66.1h0.7M97.9 85.0h0.7M93.3 68.8h0.7M101.9 76.2h0.7M67.8 95.0h0.7M74.6 101.6h0.7M98.2 75.8h0.7M64.6 73.2h0.7M109.3 93.1h0.7M95.0 63.6h0.7M87.6 77.3h0.7M97.4 78.8h0.7M96.0 64.3h0.7M84.5 93.9h0.7M75.1 88.9h0.7M118.9 86.3h0.7M75.8 92.0h0.7M70.4 83.2h0.7M87.2 91.9h0.7M105.7 81.8h0.7M112.9 89.5h0.7M86.4 70.6h0.7M120.7 76.1h0.7M96.8 78.9h0.7M86.5 64.5h0.7M90.3 78.9h0.7M103.4 75.1h0.7M73.8 69.7h0.7M91.5 82.4h0.7M100.4 76.3h0.7M98.3 81.4h0.7M111.7 79.5h0.7M93.7 85.5h0.7M106.2 71.1h0.7M86.5 77.4h0.7M67.2 92.5h0.7M104.5 80.2h0.7M131.2 92.2h0.7M115.6 95.1h0.7M102.6 66.4h0.7M109.9 84.0h0.7M78.1 80.5h0.7M100.8 89.5h0.7M94.0 75.0h0.7M100.9 72.7h0.7M91.1 87.4h0.7M75.2 83.6h0.7M69.2 71.1h0.7M77.7 79.1h0.7M100.3 79.5h0.7M102.7 80.9h0.7M89.6 84.7h0.7M89.2 81.3h0.7M104.1 74.5h0.7M105.4 69.3h0.7M89.4 63.3h0.7" stroke="#111" stroke-width="0.7" fill="none" stroke-opacity="0.9"/>
<path d="M209.5 78.1h0.62M219.4 74.5h0.62M196.1 65.2h0.62M220.2 71.8h0.62M221.9 56.8h0.62M219.8 66.6h0.62M215.9 70.5h0.62M209.1 58.9h0.62M200.3 61.9h0.62M198.8 69.9h0.62M228.3 61.3h0.62M204.1 63.0h0.62M194.2 71.9h0.62M208.2 67.6h0.62M203.4 72.7h0.62M200.7 73.6h0.62M207.2 73.8h0.62M204.2 72.3h0.62M219.0 66.7h0.62M233.0 65.7h0.62M204.5 73.7h0.62M204.0 66.6h0.62M214.3 69.0h0.62M231.9 54.6h0.62M212.2 75.0h0.62M212.5 70.2h0.62M230.3 57.9h0.62M215.3 72.4h0.62M205.5 59.2h0.62M202.7 71.1h0.62M218.0 78.1h0.62M227.7 56.5h0.62M226.9 71.1h0.62M232.5 63.8h0.62M207.7 70.0h0.62M232.4 68.4h0.62M234.3 69.0h0.62M206.2 63.4h0.62M233.8 55.6h0.62M209.7 66.9h0.62M202.9 66.6h0.62M216.5 81.6h0.62M212.7 65.1h0.62M216.4 73.1h0.62M204.2 67.3h0.62M194.6 75.6h0.62M223.4 75.2h0.62M202.4 82.9h0.62M223.8 64.7h0.62M209.2 67.0h0.62M200.8 74.9h0.62M206.3 65.1h0.62M220.1 67.6h0.62M207.0 67.8h0.62M209.7 76.7h0.62M224.8 61.8h0.62M214.9 75.9h0.62M212.5 78.8h0.62M219.8 70.9h0.62M190.9 77.1h0.62M218.5 70.6h0.62M220.1 70.0h0.62M209.1 74.2h0.62M213.7 61.9h0.62M202.4 71.0h0.62M215.6 54.7h0.62M191.3 78.2h0.62M216.7 84.3h0.62M196.1 69.7h0.62M207.7 72.4h0.62M231.9 74.4h0.62M203.6 77.1h0.62M200.3 72.2h0.62M216.6 71.2h0.62M206.1 77.3h0.62M213.2 68.0h0.62M209.9 62.4h0.62M222.7 68.5h0.62M221.1 77.7h0.62M203.7 68.1h0.62M215.0 72.9h0.62M212.9 73.7h0.62M217.5 57.0h0.62M204.1 57.7h0.62M210.3 66.2h0.62M221.0 67.8h0.62M214.5 75.4h0.62M219.6 59.7h0.62M206.4 71.3h0.62M233.4 63.4h0.62M212.3 69.9h0.62M222.9 65.9h0.62M217.0 65.0h0.62M206.9 64.6h0.62M221.0 63.5h0.62M220.8 69.2h0.62M222.5 50.6h0.62M201.6 63.0h0.62M212.9 73.0h0.62M230.1 67.4h0.62M210.1 71.9h0.62M189.8 77.8h0.62M214.7 71.5h0.62M201.0 63.8h0.62M206.5 69.1h0.62M217.7 65.3h0.62M218.7 71.2h0.62M200.5 69.8h0.62M195.5 68.0h0.62M223.7 62.1h0.62M236.0 67.1h0.62M224.4 66.8h0.62M225.1 72.5h0.62M214.7 64.7h0.62M209.6 80.2h0.62M211.4 65.7h0.62M204.1 59.8h0.62M208.6 70.9h0.62M207.6 64.6h0.62M219.2 69.8h0.62M209.3 70.7h0.62M203.6 74.9h0.62M202.3 68.1h0.62M215.1 65.3h0.62M202.9 82.4h0.62M229.7 54.9h0.62M214.1 60.5h0.62M216.3 59.9h0.62M221.2 69.9h0.62M234.9 71.4h0.62M209.7 74.4h0.62M208.6 68.3h0.62M206.4 58.9h0.62M218.9 55.1h0.62M211.8 71.5h0.62M213.7 58.7h0.62M207.2 73.2h0.62M228.3 74.9h0.62M193.5 74.3h0.62M209.2 73.4h0.62M194.4 70.6h0.62M221.5 62.9h0.62M208.8 63.1h0.62M225.5 58.1h0.62M203.1 68.0h0.62M212.5 80.8h0.62M216.3 62.7h0.62M221.1 68.8h0.62M217.2 67.1h0.62M218.1 60.3h0.62M199.7 68.0h0.62M202.0 74.3h0.62M219.5 69.0h0.62M204.8 61.9h0.62M218.8 58.4h0.62M217.3 66.6h0.62M222.7 66.8h0.62M214.6 64.4h0.62M193.8 69.5h0.62M223.1 72.6h0.62M228.9 59.5h0.62M203.9 73.9h0.62M211.4 83.7h0.62M216.1 58.6h0.62M209.2 78.2h0.62M193.1 72.6h0.62M199.6 80.0h0.62M207.8 63.0h0.62M193.6 67.4h0.62M184.0 70.5h0.62M209.8 61.9h0.62M217.5 64.6h0.62M205.6 77.7h0.62M218.2 62.0h0.62M231.0 64.7h0.62M220.0 67.8h0.62M228.2 69.1h0.62M210.7 72.8h0.62M209.6 69.6h0.62M231.9 58.5h0.62M201.6 67.8h0.62M209.6 76.5h0.62M197.9 84.4h0.62M231.9 62.2h0.62M215.8 65.5h0.62M222.4 70.4h0.62M223.5 70.9h0.62M236.2 63.1h0.62M221.9 65.5h0.62M214.7 69.2h0.62M213.8 70.1h0.62M204.0 68.9h0.62M205.8 62.5h0.62M205.3 66.6h0.62M210.7 59.3h0.62M209.9 62.0h0.62M204.7 70.8h0.62M227.1 67.4h0.62M207.9 66.5h0.62M227.8 55.9h0.62M225.6 57.0h0.62M206.7 69.6h0.62M213.1 78.0h0.62M219.7 66.7h0.62M225.1 66.3h0.62M205.8 76.1h0.62M232.6 72.3h0.62M202.4 81.4h0.62M210.0 73.3h0.62M230.2 79.3h0.62M194.3 65.4h0.62M228.1 68.4h0.62M207.4 51.8h0.62M218.9 66.0h0.62M186.5 88.8h0.62M184.5 69.9h0.62M214.2 69.4h0.62M222.5 64.9h0.62M203.3 67.8h0.62M188.5 65.8h0.62M236.2 60.0h0.62M215.0 79.1h0.62M226.3 66.6h0.62M222.2 64.9h0.62M204.5 75.6h0.62M217.2 77.0h0.62M210.6 66.4h0.62M217.8 66.2h0.62M209.5 63.5h0.62M217.3 69.3h0.62M235.2 64.1h0.62M194.1 74.3h0.62M204.6 68.7h0.62M180.5 71.9h0.62M210.3 59.7h0.62M219.8 61.8h0.62M191.9 67.6h0.62M223.3 77.8h0.62M228.7 66.6h0.62M207.8 67.5h0.62M224.7 63.0h0.62M219.8 72.7h0.62M202.9 66.5h0.62M219.2 67.1h0.62M212.0 65.2h0.62M215.2 78.9h0.62M228.1 55.9h0.62M214.6 68.4h0.62M213.0 59.9h0.62M212.6 69.1h0.62M206.4 71.2h0.62M184.2 64.3h0.62M215.6 70.1h0.62M211.6 65.7h0.62M217.3 73.9h0.62M224.3 65.7h0.62M209.7 75.1h0.62M221.2 72.0h0.62M209.9 63.6h0.62M215.5 64.0h0.62M228.2 70.6h0.62M189.4 76.3h0.62M230.5 71.3h0.62M207.6 64.0h0.62M226.3 71.9h0.62M213.5 61.2h0.62M196.6 72.7h0.62M203.7 65.8h0.62M220.2 73.2h0.62M189.4 68.3h0.62M229.0 65.1h0.62M210.7 72.4h0.62M199.5 63.3h0.62M215.8 77.0h0.62M225.8 65.9h0.62M225.3 63.6h0.62M198.6 60.7h0.62M218.1 72.7h0.62M218.3 67.0h0.62M210.5 75.1h0.62M212.0 59.8h0.62M229.2 61.4h0.62M218.5 67.2h0.62M226.5 67.3h0.62M228.4 66.7h0.62M208.1 66.0h0.62M220.7 61.9h0.62M224.5 64.7h0.62M202.3 64.8h0.62M214.1 78.5h0.62M223.0 66.5h0.62M205.4 80.9h0.62M210.8 68.6h0.62M210.4 76.6h0.62M215.6 65.0h0.62M215.1 61.8h0.62M201.6 69.2h0.62M181.8 80.7h0.62M235.9 57.5h0.62M210.7 59.2h0.62M216.2 68.9h0.62M221.2 58.8h0.62M206.4 65.5h0.62M213.5 81.7h0.62M211.6 68.2h0.62M208.9 73.7h0.62M230.7 58.6h0.62M226.3 66.0h0.62M229.6 71.6h0.62M219.9 56.9h0.62M215.0 64.8h0.62M219.2 67.3h0.62M224.5 56.6h0.62M205.3 69.1h0.62M217.3 65.0h0.62M213.7 68.4h0.62M226.1 65.2h0.62M215.0 57.0h0.62M182.1 64.9h0.62M215.8 53.9h0.62M218.7 66.6h0.62M213.3 63.8h0.62M210.0 73.7h0.62M218.1 67.1h0.62M208.5 70.2h0.62M227.8 65.4h0.62M208.5 61.9h0.62M214.2 62.5h0.62M198.2 76.0h0.62M204.7 57.5h0.62M207.5 80.2h0.62M211.4 60.5h0.62M201.9 74.4h0.62M218.9 68.4h0.62M212.2 71.2h0.62M232.4 67.7h0.62M210.7 60.2h0.62M220.8 76.2h0.62M220.2 59.4h0.62M217.5 75.2h0.62M207.1 72.2h0.62M229.7 75.0h0.62M193.7 61.1h0.62M219.1 71.3h0.62M209.9 68.6h0.62M210.5 75.8h0.62M188.5 74.0h0.62M198.4 66.7h0.62M195.2 65.9h0.62M213.8 68.2h0.62M234.6 63.1h0.62M218.4 69.3h0.62M218.5 76.0h0.62M215.8 68.6h0.62M212.7 68.3h0.62M214.4 73.9h0.62M214.3 68.4h0.62M214.2 72.5h0.62M209.5 74.4h0.62M208.1 73.2h0.62M236.6 65.4h0.62M211.8 61.3h0.62M222.6 66.6h0.62M223.9 62.3h0.62M221.9 77.4h0.62M218.3 65.3h0.62M198.8 70.6h0.62M222.3 70.1h0.62M199.9 64.3h0.62M201.6 64.1h0.62M211.1 70.1h0.62M236.6 65.2h0.62M229.2 55.4h0.62M232.8 69.5h0.62M220.0 71.9h0.62M223.2 77.9h0.62M221.6 56.2h0.62M195.3 81.0h0.62M214.4 75.9h0.62M209.3 64.9h0.62M210.3 70.5h0.62M215.5 64.0h0.62M220.9 70.5h0.62M202.1 63.4h0.62M190.8 70.2h0.62M213.4 63.9h0.62M206.8 68.5h0.62M214.9 71.3h0.62M224.2 68.8h0.62M226.1 60.0h0.62M221.5 68.9h0.62M201.1 66.2h0.62M219.3 67.5h0.62M198.8 67.4h0.62M232.7 69.8h0.62M216.3 75.7h0.62M203.2 68.9h0.62M224.8 64.1h0.62M201.6 73.7h0.62M230.1 49.9h0.62M214.5 60.4h0.62M209.1 60.4h0.62M213.8 63.8h0.62M202.0 67.4h0.62M218.2 77.8h0.62M219.0 76.6h0.62M201.6 70.6h0.62M207.3 59.8h0.62M216.1 63.1h0.62M206.2 63.1h0.62M225.6 63.5h0.62M212.5 69.4h0.62M199.9 71.9h0.62M212.5 71.0h0.62M209.5 69.0h0.62M221.0 72.6h0.62M207.0 75.1h0.62M202.3 68.9h0.62M215.7 68.6h0.62M183.8 67.4h0.62M212.8 73.8h0.62M207.3 78.3h0.62M193.0 72.2h0.62M220.3 67.0h0.62M218.0 72.9h0.62M205.2 73.1h0.62M226.2 64.5h0.62M185.7 65.8h0.62M202.9 63.6h0.62M218.2 62.4h0.62M198.5 69.0h0.62M232.5 68.8h0.62M203.2 76.1h0.62M210.7 81.9h0.62M208.2 72.6h0.62M220.1 64.2h0.62M213.4 75.1h0.62M219.8 66.6h0.62M221.0 77.3h0.62M225.4 68.9h0.62M216.2 58.2h0.62M215.1 64.9h0.62M221.9 62.9h0.62M218.2 60.9h0.62M223.7 61.9h0.62M214.3 71.4h0.62M210.2 68.7h0.62M228.2 76.1h0.62M192.0 66.4h0.62M222.9 72.1h0.62M208.6 69.5h0.62M214.1 81.7h0.62M210.4 61.5h0.62M194.6 63.7h0.62M228.8 63.0h0.62M219.1 71.0h0.62M224.2 71.7h0.62M202.0 66.8h0.62M207.7 69.7h0.62M209.8 61.3h0.62M207.7 79.9h0.62M218.4 67.0h0.62M204.9 73.9h0.62M214.9 77.9h0.62M219.0 65.2h0.62M183.0 72.9h0.62M223.2 62.1h0.62M225.0 70.2h0.62M193.2 70.5h0.62M218.5 71.7h0.62M215.8 67.6h0.62M209.7 67.0h0.62M212.9 61.8h0.62M221.2 64.8h0.62M219.6 64.0h0.62M218.9 67.9h0.62M224.9 68.9h0.62M224.7 65.1h0.62M213.1 66.6h0.62M199.2 69.9h0.62M227.5 70.3h0.62M204.4 71.5h0.62M221.4 58.5h0.62M218.4 69.2h0.62M223.0 68.0h0.62M191.6 59.8h0.62M236.8 61.6h0.62M230.2 72.8h0.62M213.8 61.2h0.62M229.9 65.0h0.62M220.6 69.7h0.62M226.2 71.9h0.62M196.0 62.7h0.62M215.7 67.8h0.62M222.9 65.6h0.62M214.0 80.2h0.62M231.2 71.9h0.62M225.3 61.3h0.62M212.9 67.8h0.62M200.3 65.2h0.62M214.6 60.6h0.62M220.8 69.6h0.62M210.9 66.5h0.62M221.5 69.6h0.62M217.0 60.1h0.62M197.2 83.3h0.62M206.0 67.2h0.62M191.9 67.1h0.62M206.3 74.1h0.62M181.7 65.3h0.62M208.7 66.0h0.62M204.5 67.0h0.62M195.9 72.8h0.62M228.1 66.4h0.62M209.0 76.5h0.62M218.6 61.0h0.62M206.7 65.6h0.62M214.7 75.1h0.62M205.6 68.6h0.62M214.1 60.8h0.62M209.1 72.5h0.62M225.3 54.8h0.62M222.0 64.9h0.62M229.7 69.0h0.62M208.5 64.0h0.62M197.9 74.2h0.62M220.9 71.7h0.62M216.6 58.6h0.62M209.0 67.4h0.62M216.7 72.1h0.62M230.9 66.7h0.62M188.9 66.3h0.62M188.3 68.0h0.62M200.2 71.9h0.62M212.6 74.9h0.62M226.1 63.1h0.62M225.1 66.1h0.62M220.7 74.9h0.62M200.5 70.0h0.62M231.2 60.4h0.62M216.7 68.3h0.62M207.8 61.3h0.62M205.0 63.7h0.62M226.9 67.2h0.62M221.0 59.7h0.62M220.0 67.8h0.62M225.5 61.7h0.62M224.9 74.3h0.62M234.1 58.9h0.62M199.4 61.8h0.62M225.8 69.5h0.62M217.1 62.3h0.62M230.3 74.7h0.62M213.5 67.4h0.62M228.4 68.5h0.62M229.3 62.9h0.62M217.6 65.3h0.62M207.0 67.5h0.62M211.2 71.5h0.62M210.5 69.0h0.62M203.3 62.6h0.62M229.7 59.4h0.62M236.1 69.7h0.62M186.6 69.0h0.62M209.2 69.0h0.62M211.3 64.9h0.62M228.5 64.7h0.62M224.6 62.1h0.62M207.3 77.1h0.62M209.6 62.2h0.62M213.1 74.4h0.62M211.4 64.2h0.62M222.4 72.4h0.62M211.3 66.6h0.62M212.5 84.4h0.62M213.6 78.5h0.62M212.7 70.7h0.62M190.4 73.2h0.62M214.3 66.1h0.62M207.9 61.0h0.62M196.8 72.0h0.62M206.5 68.8h0.62M211.4 65.4h0.62M207.4 80.2h0.62M200.6 67.3h0.62M209.4 61.9h0.62M203.7 75.0h0.62M225.0 66.8h0.62M227.6 60.8h0.62M228.4 75.5h0.62M211.4 79.2h0.62M203.5 63.1h0.62M212.7 63.4h0.62M220.3 60.3h0.62M213.0 56.5h0.62M214.7 74.1h0.62M211.3 70.3h0.62M225.6 59.4h0.62M199.3 71.1h0.62M217.0 65.9h0.62M204.0 77.0h0.62M200.2 68.9h0.62M214.3 72.3h0.62M208.0 64.2h0.62M236.7 59.0h0.62M223.2 65.5h0.62M208.4 68.7h0.62M211.4 70.3h0.62M184.3 73.1h0.62M213.9 62.2h0.62M211.9 82.3h0.62M236.2 67.9h0.62M216.4 65.8h0.62M229.8 62.6h0.62M205.2 73.7h0.62M202.0 65.4h0.62M229.3 55.7h0.62M213.4 68.8h0.62M215.6 59.1h0.62M211.1 66.5h0.62M206.1 74.6h0.62M221.6 66.0h0.62M210.9 66.9h0.62M195.4 67.5h0.62M226.4 74.4h0.62M235.3 62.0h0.62M218.8 52.8h0.62M209.6 61.3h0.62M222.0 56.7h0.62M200.8 63.8h0.62M219.5 72.0h0.62M205.2 80.3h0.62M215.1 62.9h0.62M218.1 67.2h0.62M224.1 68.3h0.62M207.4 73.8h0.62M221.9 60.7h0.62M204.5 64.9h0.62M185.9 76.7h0.62M212.8 75.5h0.62M207.6 69.6h0.62M223.5 72.1h0.62M216.7 61.3h0.62M231.6 74.5h0.62M230.9 67.5h0.62M220.2 70.7h0.62M197.4 75.8h0.62M203.1 72.4h0.62M203.0 74.2h0.62M210.9 83.3h0.62M216.8 70.5h0.62M203.2 68.2h0.62M213.1 66.5h0.62M208.1 63.8h0.62M222.6 64.2h0.62M204.9 71.8h0.62M204.4 68.7h0.62M207.2 63.7h0.62M210.6 63.7h0.62M199.8 72.6h0.62M209.1 60.2h0.62M209.7 69.9h0.62M219.4 69.3h0.62M217.6 70.9h0.62M207.5 64.4h0.62M220.8 64.4h0.62M214.9 71.7h0.62M226.3 73.1h0.62M205.7 67.3h0.62M219.1 58.6h0.62M200.0 74.1h0.62M206.0 63.9h0.62M224.0 69.4h0.62M224.4 64.2h0.62M210.4 66.6h0.62M215.5 55.7h0.62M206.8 73.5h0.62M205.0 69.2h0.62M216.1 70.7h0.62M207.4 62.5h0.62M232.2 54.4h0.62M215.2 66.6h0.62M224.4 60.2h0.62M204.0 65.3h0.62M208.4 70.6h0.62M204.7 68.2h0.62M232.7 73.2h0.62M191.5 66.3h0.62M211.1 76.2h0.62M212.2 79.6h0.62M219.8 75.5h0.62M203.8 68.0h0.62M226.5 69.2h0.62M192.1 70.2h0.62M216.8 71.2h0.62M208.5 79.3h0.62M217.3 76.0h0.62M218.9 67.6h0.62M209.2 61.9h0.62M224.9 70.6h0.62M224.6 63.9h0.62M202.1 67.9h0.62M210.5 68.6h0.62M224.6 60.7h0.62M209.2 72.9h0.62M226.8 78.8h0.62M219.4 62.1h0.62M201.3 65.6h0.62M215.2 69.3h0.62M212.7 64.6h0.62M211.9 67.9h0.62M221.1 67.2h0.62M203.6 62.9h0.62M231.2 64.5h0.62M212.1 68.2h0.62M226.9 63.9h0.62M215.9 66.3h0.62M219.8 61.0h0.62M217.5 73.5h0.62M228.5 69.1h0.62M219.1 76.4h0.62M223.8 74.6h0.62M199.1 64.2h0.62M223.1 64.8h0.62M208.2 63.4h0.62M230.2 58.1h0.62M214.0 59.8h0.62M214.4 81.2h0.62M204.1 79.4h0.62M202.4 59.5h0.62M217.1 61.1h0.62M198.5 77.4h0.62M204.6 63.4h0.62M215.9 66.6h0.62M227.3 66.2h0.62M233.7 71.2h0.62M235.9 70.8h0.62M215.5 71.0h0.62M212.9 59.0h0.62M201.3 74.6h0.62M186.0 68.1h0.62M199.2 70.2h0.62M202.4 71.5h0.62M211.4 65.7h0.62M202.1 57.0h0.62M213.7 60.4h0.62M211.1 70.7h0.62M227.0 69.9h0.62M229.9 56.8h0.62M223.6 75.6h0.62M217.6 60.8h0.62M218.3 64.2h0.62M207.8 75.4h0.62M211.0 62.0h0.62M208.3 80.6h0.62M205.1 73.6h0.62M217.4 74.3h0.62M210.0 63.1h0.62M205.7 63.4h0.62M211.8 75.8h0.62M221.6 65.6h0.62M221.7 68.3h0.62M228.9 75.1h0.62M210.5 68.4h0.62M213.3 75.3h0.62M219.4 71.7h0.62M223.9 62.5h0.62M217.1 75.6h0.62M225.7 70.7h0.62M210.6 66.5h0.62M204.0 68.2h0.62M212.0 59.9h0.62M226.8 61.2h0.62M217.7 70.9h0.62M206.0 58.8h0.62M225.8 68.4h0.62M212.4 75.0h0.62M223.6 60.7h0.62M211.5 58.1h0.62M212.6 76.6h0.62M205.4 74.4h0.62M196.5 69.4h0.62M226.8 75.9h0.62M220.2 71.4h0.62M231.6 50.5h0.62M196.4 82.3h0.62M215.2 69.3h0.62M213.9 64.4h0.62M213.9 67.3h0.62M222.6 70.5h0.62M226.1 69.3h0.62M204.4 77.9h0.62M183.5 74.1h0.62M217.5 64.3h0.62M234.7 57.9h0.62M200.2 67.5h0.62M219.8 71.7h0.62M216.1 71.6h0.62M205.5 66.0h0.62M214.4 60.0h0.62M216.0 65.3h0.62M221.0 60.8h0.62M207.5 65.8h0.62M209.0 63.0h0.62M209.9 60.8h0.62M221.0 70.7h0.62M213.8 66.9h0.62M203.0 64.3h0.62M210.8 63.3h0.62M200.9 71.3h0.62M213.6 65.7h0.62M204.8 69.3h0.62M205.8 66.9h0.62M217.1 71.7h0.62M222.3 63.0h0.62M226.9 58.9h0.62M213.5 75.8h0.62M209.7 66.6h0.62M200.1 69.6h0.62M208.6 64.5h0.62M227.1 61.1h0.62M234.5 69.4h0.62M220.9 63.3h0.62M206.4 57.6h0.62M217.1 65.9h0.62M218.0 63.4h0.62M218.3 58.5h0.62M189.6 75.1h0.62M223.3 47.8h0.62M228.6 63.4h0.62M210.8 59.5h0.62M203.5 74.1h0.62M205.7 69.2h0.62M214.4 79.7h0.62M223.0 58.6h0.62M207.5 62.4h0.62M197.6 66.9h0.62M226.8 66.0h0.62M221.7 65.9h0.62M209.4 69.3h0.62M215.3 79.1h0.62M235.1 66.5h0.62M219.1 55.4h0.62M215.2 81.9h0.62M205.9 74.2h0.62M227.7 63.3h0.62M211.1 65.8h0.62M223.3 66.5h0.62M232.5 71.7h0.62M216.7 82.8h0.62M210.0 65.1h0.62M210.6 63.4h0.62M209.3 68.4h0.62M222.7 57.2h0.62M197.4 66.4h0.62M211.2 71.2h0.62M206.7 78.2h0.62M207.9 67.8h0.62M216.0 74.6h0.62M217.6 67.5h0.62M208.1 70.0h0.62M218.4 65.2h0.62M212.1 57.5h0.62M209.3 75.8h0.62M230.3 64.7h0.62M191.4 82.8h0.62M214.8 83.0h0.62M210.5 74.6h0.62M208.5 77.1h0.62M226.3 59.6h0.62M231.8 81.7h0.62M210.4 61.5h0.62M216.9 65.1h0.62M196.0 65.0h0.62M215.4 58.8h0.62M226.9 68.4h0.62M213.5 76.4h0.62M204.3 73.8h0.62M198.4 68.8h0.62M220.9 63.6h0.62M213.5 71.9h0.62M232.8 72.4h0.62M219.1 65.6h0.62M199.4 80.7h0.62M233.3 51.9h0.62M224.0 66.0h0.62M222.5 68.4h0.62M211.9 68.4h0.62M214.9 74.7h0.62M210.6 65.4h0.62M222.2 70.4h0.62M219.4 68.7h0.62M232.0 71.4h0.62M216.3 66.4h0.62M219.7 55.9h0.62M207.5 65.0h0.62M215.7 65.4h0.62M221.0 80.1h0.62M213.8 66.2h0.62M229.0 70.3h0.62M218.0 103.2h0.62M205.6 90.5h0.62M202.2 95.7h0.62M218.7 87.9h0.62M204.0 85.9h0.62M228.3 100.4h0.62M211.2 86.7h0.62M199.2 90.6h0.62M209.4 86.4h0.62M206.9 103.3h0.62M209.2 95.7h0.62M189.0 93.2h0.62M207.7 90.3h0.62M195.8 94.5h0.62M199.3 91.3h0.62M193.8 94.4h0.62M217.8 89.3h0.62M212.2 84.7h0.62M214.7 98.7h0.62M205.4 101.0h0.62M200.7 95.3h0.62M225.3 94.8h0.62M198.3 102.9h0.62M214.2 93.1h0.62M191.6 82.2h0.62M194.5 105.1h0.62M211.9 89.2h0.62M220.2 105.0h0.62M201.0 98.3h0.62M193.3 97.5h0.62M226.5 85.4h0.62M209.6 90.7h0.62M208.2 95.6h0.62M211.8 101.1h0.62M214.0 102.1h0.62M218.8 102.5h0.62M202.6 97.8h0.62M205.5 89.3h0.62M227.9 97.0h0.62M209.5 80.6h0.62M206.9 100.3h0.62M207.1 91.3h0.62M223.2 92.9h0.62M205.9 94.3h0.62M206.8 102.2h0.62M214.6 94.5h0.62M205.6 93.5h0.62M225.3 92.9h0.62M215.4 84.2h0.62M212.2 99.7h0.62M221.3 97.2h0.62M214.6 97.2h0.62M219.3 109.0h0.62M211.0 89.4h0.62M214.8 94.2h0.62M215.2 100.3h0.62M210.6 92.0h0.62M212.0 86.5h0.62M211.7 89.0h0.62M213.4 95.8h0.62M207.0 86.8h0.62M209.6 90.4h0.62M207.7 99.7h0.62M218.2 86.2h0.62M218.1 104.3h0.62M219.9 96.9h0.62M208.2 106.9h0.62M206.0 84.6h0.62M210.0 97.0h0.62M199.2 86.7h0.62M228.1 95.8h0.62M216.6 91.0h0.62M194.6 93.8h0.62M221.9 90.4h0.62M192.0 93.8h0.62M206.4 95.1h0.62M199.1 92.9h0.62M203.9 101.0h0.62M210.6 101.0h0.62M208.6 80.4h0.62M190.4 98.7h0.62M217.5 101.0h0.62M208.4 82.8h0.62M204.4 97.8h0.62M222.3 92.7h0.62M203.7 89.7h0.62M218.9 100.9h0.62M191.6 103.3h0.62M200.3 85.0h0.62M193.9 90.0h0.62M231.3 112.5h0.62M197.2 90.4h0.62M210.6 97.8h0.62M204.5 84.2h0.62M205.2 90.4h0.62M192.0 96.0h0.62M195.1 83.1h0.62M223.6 101.4h0.62M223.0 95.8h0.62M205.2 94.4h0.62M196.0 100.1h0.62M211.7 92.9h0.62M191.2 94.2h0.62M224.7 104.9h0.62M217.5 92.6h0.62M210.4 98.8h0.62M211.0 102.2h0.62M202.7 79.1h0.62M185.9 88.8h0.62M195.9 99.5h0.62M219.4 95.0h0.62M214.3 95.5h0.62M210.8 91.8h0.62M205.2 103.1h0.62M206.5 94.7h0.62M220.6 101.7h0.62M205.4 96.7h0.62M199.4 95.9h0.62M212.1 95.0h0.62M210.7 97.5h0.62M184.9 89.4h0.62M209.8 91.6h0.62M199.9 93.4h0.62M224.5 93.4h0.62M202.9 91.7h0.62M197.7 98.3h0.62M199.7 101.2h0.62M217.8 98.9h0.62M219.1 94.4h0.62M192.3 94.6h0.62M215.2 84.4h0.62M197.4 102.5h0.62M213.3 104.2h0.62M215.5 95.5h0.62M213.2 100.8h0.62M208.8 93.6h0.62M212.1 92.8h0.62M232.2 89.8h0.62M194.6 86.2h0.62M219.2 92.2h0.62M210.6 93.5h0.62M211.8 85.1h0.62M209.9 91.1h0.62M219.5 99.3h0.62M197.0 88.4h0.62M214.6 103.2h0.62M216.5 94.0h0.62M219.8 78.9h0.62M204.0 88.3h0.62M199.2 98.9h0.62M211.8 96.9h0.62M207.9 99.2h0.62M216.7 91.1h0.62M218.1 88.6h0.62M226.1 86.1h0.62M206.4 87.6h0.62M209.5 104.0h0.62M201.9 107.2h0.62M222.7 97.6h0.62M203.5 101.2h0.62M181.6 89.8h0.62M218.4 94.7h0.62M233.1 90.4h0.62M196.3 93.5h0.62M214.7 106.7h0.62M192.1 96.1h0.62M221.3 90.4h0.62M204.7 86.7h0.62M216.5 100.7h0.62M214.8 96.7h0.62M218.7 94.2h0.62M216.1 100.6h0.62M221.7 98.5h0.62M210.0 99.9h0.62M194.1 82.9h0.62M224.8 95.9h0.62M198.9 91.0h0.62M207.7 95.5h0.62M201.7 101.8h0.62M192.6 114.3h0.62M198.6 106.4h0.62M215.6 83.4h0.62M197.3 95.4h0.62M211.8 92.1h0.62M209.3 96.1h0.62M198.0 95.4h0.62M231.2 90.6h0.62M199.3 99.6h0.62M222.2 102.2h0.62M203.0 94.5h0.62M211.1 93.6h0.62M213.0 102.5h0.62M214.5 94.9h0.62M207.2 107.3h0.62M197.1 108.8h0.62M216.3 95.6h0.62M201.9 107.6h0.62M221.0 101.3h0.62M229.5 82.6h0.62M210.1 92.9h0.62M202.0 95.5h0.62M214.4 98.6h0.62M207.8 85.9h0.62M214.6 99.2h0.62M229.9 101.4h0.62M209.3 87.1h0.62M235.8 90.3h0.62M211.1 100.2h0.62M214.1 104.2h0.62M199.0 90.2h0.62M210.8 86.5h0.62M203.1 104.6h0.62M212.0 94.3h0.62M203.5 95.3h0.62M208.8 87.6h0.62M216.9 86.2h0.62M221.7 92.7h0.62M186.7 84.3h0.62M212.0 89.0h0.62M227.0 104.6h0.62M229.9 101.2h0.62M222.4 90.8h0.62M222.0 92.0h0.62M208.6 85.6h0.62M209.7 97.8h0.62M208.5 87.3h0.62M218.1 101.3h0.62M208.3 100.4h0.62M218.9 88.2h0.62M208.8 82.1h0.62M198.9 98.0h0.62M200.4 97.7h0.62M212.7 80.7h0.62M204.3 105.5h0.62M209.3 95.9h0.62M202.1 83.9h0.62M193.4 115.0h0.62M207.3 89.0h0.62M210.2 81.5h0.62M223.0 106.9h0.62M201.7 97.2h0.62M200.2 101.0h0.62M200.8 94.0h0.62M222.1 98.6h0.62M205.9 84.4h0.62M193.3 103.4h0.62M214.2 95.4h0.62M221.6 96.0h0.62M201.9 94.3h0.62M208.2 94.9h0.62M234.0 99.0h0.62M211.9 93.3h0.62M202.4 88.1h0.62M190.4 91.8h0.62M194.0 82.1h0.62M199.8 80.9h0.62M222.8 103.7h0.62M199.5 109.3h0.62M215.7 77.4h0.62M209.3 88.0h0.62M191.7 93.2h0.62M220.6 98.1h0.62M194.5 90.4h0.62M201.5 103.0h0.62M208.1 88.2h0.62M200.0 81.2h0.62M200.7 101.3h0.62M190.0 96.3h0.62M208.0 100.7h0.62M197.7 101.4h0.62M224.7 111.0h0.62M192.8 94.8h0.62M207.0 95.9h0.62M199.2 101.0h0.62M232.6 105.5h0.62M199.5 91.0h0.62M216.4 95.9h0.62M201.5 103.7h0.62M214.3 102.2h0.62M207.3 104.0h0.62M204.4 87.2h0.62M209.0 85.2h0.62M221.7 100.1h0.62M192.2 96.2h0.62M217.6 92.5h0.62M213.3 90.9h0.62M208.4 94.4h0.62M213.9 88.2h0.62M197.7 97.3h0.62M204.0 98.6h0.62M204.0 85.8h0.62M216.5 96.9h0.62M216.4 92.6h0.62M205.5 103.9h0.62M192.1 107.2h0.62M214.2 94.6h0.62M210.0 99.2h0.62M201.3 96.9h0.62M199.5 82.0h0.62M211.1 95.7h0.62M215.6 98.9h0.62M216.1 100.5h0.62M198.5 103.5h0.62M236.0 91.0h0.62M196.4 99.8h0.62M218.3 102.1h0.62M224.5 85.3h0.62M212.8 98.3h0.62M221.6 88.7h0.62M209.3 92.4h0.62M207.4 94.0h0.62M207.5 82.6h0.62M208.7 95.5h0.62M205.2 70.1h0.62M202.1 90.4h0.62M200.3 106.3h0.62M218.3 93.7h0.62M199.3 98.3h0.62M203.0 105.4h0.62M220.2 94.1h0.62M215.2 89.4h0.62M193.1 100.9h0.62M225.5 92.9h0.62M203.7 82.4h0.62M230.6 86.6h0.62M199.3 93.6h0.62M221.2 95.4h0.62M208.8 95.1h0.62M217.6 94.7h0.62M210.6 94.5h0.62M197.9 104.4h0.62M202.1 85.7h0.62M204.6 95.2h0.62M217.3 84.7h0.62M196.3 96.3h0.62M212.9 87.3h0.62M197.6 96.2h0.62M207.6 83.6h0.62M200.2 105.4h0.62M198.4 102.4h0.62M193.6 105.4h0.62M225.1 90.5h0.62M202.2 99.4h0.62M196.6 98.9h0.62M221.3 96.9h0.62M212.3 93.9h0.62M219.1 89.2h0.62M225.0 94.8h0.62M205.7 83.5h0.62M204.6 96.7h0.62M221.5 83.7h0.62M207.7 90.2h0.62M197.0 95.0h0.62M201.4 101.1h0.62M181.9 100.2h0.62M189.9 81.3h0.62M214.2 92.6h0.62M210.3 88.2h0.62M198.5 89.8h0.62M208.5 89.1h0.62M204.8 89.0h0.62M211.4 87.0h0.62M188.1 76.5h0.62M208.8 95.7h0.62M218.7 89.8h0.62M197.6 84.5h0.62M216.6 90.6h0.62M218.9 94.4h0.62M206.2 81.9h0.62M202.2 100.5h0.62M202.9 99.8h0.62M192.5 102.1h0.62M237.0 102.8h0.62M212.2 86.3h0.62M203.7 90.4h0.62M210.9 80.8h0.62M200.3 100.6h0.62M210.5 100.2h0.62M217.6 87.0h0.62M195.5 98.3h0.62M209.3 95.6h0.62M200.8 102.2h0.62M214.0 103.0h0.62M205.5 99.9h0.62M208.4 88.4h0.62M208.2 83.4h0.62M207.2 96.3h0.62M216.0 87.6h0.62M195.7 89.9h0.62M188.2 90.4h0.62M235.3 96.0h0.62M201.4 90.2h0.62M226.7 86.8h0.62M207.9 94.4h0.62M201.6 89.9h0.62M192.2 89.1h0.62M222.0 104.9h0.62M206.2 99.9h0.62M213.6 95.8h0.62M207.6 103.5h0.62M214.7 93.4h0.62M206.7 101.6h0.62M203.0 90.0h0.62M206.2 91.5h0.62M221.7 97.5h0.62M208.1 91.3h0.62M223.2 98.1h0.62M229.9 101.4h0.62M206.8 91.1h0.62M206.1 96.3h0.62M216.9 98.4h0.62M224.8 84.3h0.62M209.3 85.0h0.62M198.7 90.8h0.62M202.5 88.2h0.62M193.8 103.0h0.62M205.8 101.8h0.62M197.9 78.7h0.62M203.0 101.2h0.62M203.4 97.8h0.62M198.2 104.8h0.62M213.3 102.4h0.62M206.2 104.0h0.62M209.7 91.6h0.62M202.6 95.4h0.62M199.9 86.6h0.62M210.3 100.0h0.62M206.1 100.9h0.62M224.9 86.1h0.62M211.6 88.2h0.62M202.5 96.2h0.62M185.2 99.2h0.62M217.4 98.8h0.62M215.5 107.7h0.62M205.3 102.7h0.62M223.5 98.4h0.62M191.1 93.9h0.62M206.1 83.6h0.62M208.4 100.3h0.62M206.4 93.7h0.62M223.7 90.7h0.62M199.5 95.3h0.62M220.2 99.2h0.62M209.7 91.5h0.62M221.4 101.2h0.62M191.6 97.3h0.62M184.9 105.5h0.62M215.1 90.6h0.62M196.1 92.9h0.62M191.4 99.0h0.62M203.9 82.6h0.62M208.8 103.3h0.62M196.3 92.5h0.62M227.2 96.3h0.62M203.4 96.3h0.62M216.8 87.9h0.62M208.0 83.5h0.62M193.1 84.2h0.62M217.5 97.2h0.62M216.3 103.5h0.62M209.5 96.6h0.62M213.1 98.3h0.62M198.3 93.1h0.62M207.5 95.2h0.62M201.5 94.1h0.62M211.9 96.3h0.62M214.9 100.8h0.62M214.6 101.8h0.62M217.4 104.8h0.62M215.3 90.6h0.62M232.3 102.9h0.62M221.5 100.1h0.62M209.5 87.0h0.62M213.4 92.5h0.62M205.0 80.0h0.62M224.5 86.8h0.62M198.0 98.3h0.62M214.7 89.4h0.62M208.9 96.8h0.62M210.6 98.7h0.62M216.8 92.4h0.62M192.7 110.2h0.62M205.1 88.0h0.62M216.5 99.1h0.62M202.8 111.5h0.62M185.4 104.0h0.62M208.6 97.2h0.62M212.2 93.4h0.62M212.2 85.9h0.62M205.0 108.0h0.62M183.1 103.6h0.62M186.6 89.0h0.62M217.8 92.1h0.62M203.2 84.5h0.62M207.8 93.7h0.62M202.6 84.0h0.62M210.6 97.9h0.62M220.4 98.6h0.62M224.2 103.4h0.62M180.7 106.7h0.62M207.9 87.6h0.62M213.3 101.7h0.62M193.5 86.3h0.62M215.9 91.1h0.62M223.6 96.5h0.62M203.5 85.7h0.62M215.0 82.9h0.62M195.9 85.8h0.62M226.1 107.0h0.62M206.8 92.3h0.62M216.0 103.7h0.62M200.9 110.5h0.62M206.9 102.9h0.62M185.3 94.6h0.62M202.0 108.9h0.62M206.8 86.0h0.62M228.6 90.2h0.62M209.0 86.2h0.62M215.8 96.3h0.62M206.1 92.2h0.62M203.3 89.9h0.62M194.9 103.5h0.62M218.0 85.2h0.62M197.3 97.9h0.62M231.7 93.6h0.62M205.8 93.2h0.62M211.5 93.8h0.62M219.9 101.9h0.62M214.5 106.1h0.62M206.7 91.1h0.62M193.3 78.4h0.62M212.6 87.5h0.62M219.6 80.3h0.62M207.6 92.2h0.62M198.1 102.8h0.62M205.0 98.2h0.62M203.7 96.0h0.62M204.5 95.5h0.62M208.0 90.2h0.62M213.4 93.7h0.62M199.3 87.6h0.62M213.4 104.3h0.62M195.8 92.1h0.62M213.5 102.3h0.62M216.1 86.7h0.62M209.4 101.3h0.62M211.4 93.4h0.62M197.1 96.2h0.62M208.3 95.2h0.62M224.1 103.3h0.62M201.0 96.6h0.62M205.9 95.7h0.62M225.4 101.4h0.62M209.4 90.4h0.62M207.4 97.5h0.62M204.0 102.7h0.62M209.2 86.7h0.62M229.5 74.6h0.62M206.3 94.1h0.62M218.9 102.8h0.62M223.6 106.0h0.62M212.2 95.8h0.62M219.2 94.8h0.62M196.3 91.8h0.62M215.7 99.3h0.62M197.9 103.4h0.62M212.1 84.4h0.62M213.7 102.1h0.62M214.3 92.8h0.62M200.9 102.9h0.62M211.3 95.0h0.62M205.0 87.7h0.62M190.2 92.6h0.62M220.1 100.4h0.62M202.1 105.7h0.62M206.7 87.9h0.62M218.8 104.7h0.62M205.1 86.4h0.62M208.4 77.9h0.62M209.5 105.7h0.62M211.7 89.8h0.62M216.1 91.5h0.62M221.7 92.5h0.62M229.5 92.5h0.62M210.9 88.4h0.62M196.2 97.4h0.62M212.5 88.2h0.62M214.6 92.1h0.62M203.4 94.5h0.62M213.0 100.1h0.62M221.4 97.7h0.62M201.7 90.2h0.62M212.7 86.6h0.62M207.3 92.3h0.62M208.0 96.3h0.62M219.4 106.5h0.62M217.9 102.1h0.62M198.3 102.3h0.62M222.0 85.5h0.62M234.4 91.0h0.62M185.1 107.4h0.62M209.6 89.4h0.62M203.2 102.5h0.62M211.6 92.4h0.62M220.5 88.4h0.62M200.5 91.1h0.62M201.5 99.8h0.62M206.7 87.6h0.62M204.4 81.1h0.62M210.7 95.7h0.62M215.1 93.3h0.62M213.0 88.4h0.62M209.2 96.1h0.62M196.8 99.1h0.62M210.4 95.4h0.62M204.2 109.0h0.62M209.0 89.6h0.62M200.5 99.1h0.62M206.9 89.5h0.62M201.7 101.5h0.62M209.9 102.4h0.62M208.8 86.7h0.62M217.7 97.2h0.62M202.4 92.8h0.62M199.3 100.8h0.62M204.8 98.3h0.62M211.6 93.2h0.62M212.7 93.3h0.62M197.2 92.1h0.62M197.2 100.3h0.62M215.5 90.9h0.62M215.2 96.7h0.62M218.8 88.5h0.62M209.3 88.0h0.62M202.2 104.6h0.62M188.9 88.6h0.62M213.9 100.4h0.62M201.1 80.8h0.62M191.8 97.6h0.62M220.0 101.4h0.62M201.7 104.5h0.62M207.1 99.3h0.62M207.1 106.1h0.62M203.8 80.0h0.62M205.8 96.3h0.62M211.8 90.0h0.62M206.7 87.1h0.62M206.7 95.6h0.62M211.4 106.5h0.62M189.0 98.6h0.62M182.5 92.9h0.62M179.6 100.9h0.62M171.0 106.0h0.62M194.3 105.7h0.62M185.2 108.5h0.62M178.0 107.8h0.62M172.5 102.2h0.62M184.6 110.1h0.62M176.7 99.0h0.62M182.7 100.4h0.62M180.1 106.6h0.62M172.9 107.1h0.62M182.0 99.2h0.62M169.0 96.6h0.62M178.6 107.6h0.62M163.3 106.0h0.62M180.5 93.1h0.62M185.8 103.8h0.62M182.5 94.2h0.62M170.2 107.3h0.62M190.2 103.5h0.62M177.5 97.9h0.62M165.3 107.9h0.62M178.2 109.6h0.62M173.3 108.3h0.62M173.3 105.1h0.62M189.9 96.1h0.62M186.2 100.9h0.62M171.5 102.4h0.62M184.1 96.0h0.62M176.9 97.0h0.62M172.9 99.5h0.62M185.5 97.5h0.62M188.9 98.4h0.62M173.5 108.4h0.62M190.2 96.5h0.62M183.7 92.9h0.62M175.8 98.4h0.62M184.6 92.3h0.62M174.9 96.2h0.62M179.8 92.5h0.62M180.7 90.6h0.62M185.6 91.9h0.62M164.1 112.6h0.62M188.9 95.2h0.62M170.4 104.3h0.62M195.1 105.2h0.62M184.2 92.8h0.62M164.9 103.7h0.62M187.0 101.9h0.62M179.0 110.6h0.62M172.3 108.6h0.62M185.6 96.7h0.62M180.0 101.8h0.62M183.6 94.2h0.62M177.2 101.6h0.62M179.2 101.1h0.62M181.0 99.7h0.62M175.1 108.1h0.62M173.9 98.8h0.62M172.0 93.1h0.62M182.5 100.7h0.62M177.9 104.1h0.62M177.6 105.7h0.62M193.3 103.4h0.62M176.9 112.4h0.62M184.6 89.5h0.62M189.5 102.5h0.62M185.7 93.0h0.62M172.3 96.5h0.62M183.4 93.2h0.62M173.4 107.6h0.62M173.9 101.8h0.62M171.9 89.3h0.62M178.3 100.2h0.62M167.7 107.7h0.62M185.5 107.1h0.62M175.0 93.1h0.62M178.3 102.1h0.62M177.6 97.0h0.62M171.2 95.9h0.62M178.3 97.6h0.62M192.1 99.1h0.62M182.6 97.8h0.62M177.6 94.3h0.62M175.2 90.7h0.62M162.7 110.2h0.62M170.7 104.0h0.62M178.0 97.1h0.62M184.7 97.2h0.62M182.4 98.5h0.62M186.6 107.6h0.62M179.5 108.5h0.62M183.0 111.7h0.62M178.0 90.4h0.62M180.7 102.6h0.62M176.1 99.6h0.62M176.9 92.4h0.62M192.5 95.7h0.62M170.6 90.1h0.62M172.4 100.7h0.62M190.6 105.1h0.62M173.3 92.5h0.62M170.2 100.4h0.62M185.8 97.7h0.62M191.5 114.3h0.62M180.2 86.1h0.62M187.5 100.3h0.62M184.2 107.8h0.62M171.1 101.4h0.62M180.4 95.8h0.62M184.4 100.1h0.62M175.8 113.9h0.62M180.3 112.2h0.62M177.8 108.1h0.62M173.1 102.0h0.62M187.4 86.1h0.62M183.2 99.1h0.62M187.5 102.2h0.62M178.4 92.2h0.62M202.0 95.9h0.62M176.4 96.0h0.62M176.6 102.5h0.62M168.5 108.2h0.62M176.9 105.1h0.62M162.5 97.4h0.62M176.6 98.3h0.62M173.8 103.1h0.62M182.2 94.3h0.62M163.6 106.0h0.62M176.5 108.3h0.62M185.8 100.3h0.62M167.8 98.5h0.62M173.3 109.5h0.62M165.7 107.3h0.62M166.9 97.1h0.62M167.9 96.2h0.62M175.5 103.5h0.62M174.4 105.7h0.62M192.6 102.1h0.62M170.0 99.8h0.62M178.2 98.5h0.62M188.0 108.9h0.62M194.6 104.6h0.62M158.1 100.1h0.62M184.2 95.5h0.62M174.3 107.2h0.62M180.1 93.3h0.62M174.4 79.8h0.62M178.9 92.6h0.62M178.5 92.8h0.62M171.7 97.4h0.62M200.7 92.8h0.62M169.7 97.3h0.62M187.2 106.5h0.62M184.4 98.8h0.62M179.9 95.7h0.62M177.5 95.4h0.62M167.6 94.2h0.62M194.0 103.7h0.62M173.1 100.2h0.62M175.4 109.3h0.62M178.7 96.6h0.62M184.2 103.2h0.62M173.6 95.7h0.62M180.0 89.8h0.62M171.8 107.9h0.62M185.7 108.6h0.62M175.5 96.9h0.62M176.8 97.7h0.62M188.9 99.4h0.62M189.5 96.1h0.62M181.9 112.1h0.62M173.1 96.5h0.62M174.3 89.9h0.62M176.6 96.6h0.62M196.1 97.7h0.62M162.3 107.4h0.62M186.3 100.7h0.62M181.2 105.9h0.62M174.5 101.3h0.62M180.0 112.3h0.62M189.9 102.1h0.62M168.5 107.0h0.62M178.5 109.0h0.62M179.3 102.2h0.62M184.0 96.0h0.62M173.8 116.7h0.62M172.2 107.4h0.62M184.2 106.6h0.62M189.6 91.8h0.62M186.4 86.9h0.62M179.3 103.3h0.62M186.9 108.4h0.62M171.6 99.1h0.62M177.7 96.2h0.62M172.5 96.4h0.62M187.9 110.3h0.62M184.8 112.5h0.62M179.6 93.5h0.62M173.8 102.4h0.62M186.9 109.3h0.62M171.9 107.5h0.62M174.7 105.1h0.62M186.0 111.1h0.62M174.8 102.6h0.62M182.2 98.1h0.62M179.6 105.1h0.62M166.1 96.6h0.62M196.9 104.1h0.62M174.6 88.4h0.62M171.4 104.5h0.62M184.2 104.0h0.62M183.5 96.8h0.62M191.3 93.3h0.62M182.9 99.2h0.62M165.6 107.2h0.62M176.7 105.9h0.62M188.8 102.1h0.62M173.8 99.5h0.62M178.4 110.9h0.62M185.6 111.9h0.62M184.8 95.7h0.62M186.1 107.6h0.62M177.9 104.2h0.62M176.4 92.3h0.62M178.2 106.2h0.62M176.1 85.6h0.62M172.7 108.5h0.62M180.6 108.7h0.62M173.0 98.1h0.62M171.1 95.6h0.62M182.9 101.9h0.62M175.1 103.0h0.62M168.7 98.3h0.62M167.2 90.7h0.62M168.3 93.4h0.62M191.2 110.4h0.62M188.7 97.0h0.62M183.7 93.2h0.62M174.7 102.7h0.62M166.4 102.3h0.62M183.7 86.7h0.62M159.9 99.1h0.62M177.9 102.0h0.62M170.1 104.9h0.62M179.8 95.9h0.62M191.7 102.8h0.62M184.6 113.8h0.62M175.0 99.5h0.62M165.4 99.4h0.62M183.3 102.4h0.62M169.0 95.1h0.62M164.5 91.5h0.62M179.7 103.0h0.62M171.8 99.5h0.62M172.6 105.3h0.62M183.8 97.1h0.62M175.3 92.5h0.62M175.2 116.1h0.62M178.8 106.9h0.62M183.4 111.2h0.62M176.3 94.7h0.62M187.0 107.3h0.62M173.7 108.6h0.62M178.8 100.7h0.62M193.2 104.7h0.62M181.3 98.8h0.62M180.4 108.3h0.62M182.4 95.8h0.62M182.4 100.2h0.62M181.3 99.7h0.62M161.9 89.8h0.62M175.9 85.7h0.62M167.1 115.0h0.62M184.3 97.8h0.62M181.4 85.5h0.62M180.8 107.8h0.62M180.3 91.9h0.62M186.4 97.3h0.62M174.4 102.4h0.62M176.5 115.1h0.62M177.8 115.9h0.62M182.4 92.4h0.62M178.9 101.4h0.62M190.1 109.9h0.62M198.8 96.4h0.62M171.9 103.5h0.62M191.4 94.0h0.62M176.2 95.8h0.62M183.0 103.8h0.62M178.6 105.6h0.62M172.7 98.4h0.62M182.5 115.0h0.62M178.6 101.4h0.62M189.1 101.5h0.62M189.0 102.7h0.62M187.9 102.3h0.62M171.7 95.1h0.62M182.2 114.1h0.62M193.4 98.8h0.62M198.4 93.3h0.62M172.2 107.5h0.62M167.0 107.3h0.62M181.8 105.4h0.62M169.4 103.7h0.62M186.2 100.6h0.62M186.9 101.2h0.62M181.6 98.8h0.62M168.3 99.9h0.62M182.8 95.7h0.62M163.6 90.2h0.62M189.2 99.4h0.62M172.9 109.6h0.62M177.5 90.5h0.62M175.4 94.9h0.62M177.4 94.6h0.62M179.4 104.2h0.62M174.4 99.6h0.62M177.7 106.8h0.62M173.2 106.2h0.62M188.7 99.6h0.62M171.3 98.8h0.62M165.0 97.2h0.62M169.5 99.8h0.62M176.0 104.6h0.62M179.8 103.9h0.62M178.5 103.0h0.62M170.0 105.6h0.62M189.1 108.8h0.62M168.3 103.9h0.62M166.1 106.3h0.62M177.3 97.8h0.62M173.0 99.3h0.62M178.8 94.3h0.62M179.3 102.8h0.62M183.0 100.7h0.62M186.8 103.3h0.62M168.0 105.3h0.62M183.4 82.4h0.62M177.6 103.7h0.62M179.2 101.7h0.62M177.7 110.7h0.62M181.9 99.0h0.62M177.1 115.6h0.62M172.1 97.3h0.62M181.4 102.0h0.62M181.3 110.5h0.62M187.8 103.9h0.62M179.2 100.6h0.62M177.1 108.0h0.62M168.9 93.7h0.62M175.3 94.3h0.62M173.1 109.4h0.62M161.2 105.0h0.62M168.6 99.3h0.62M174.4 94.1h0.62M167.2 101.5h0.62M155.6 86.2h0.62M175.8 108.7h0.62M193.5 99.0h0.62M172.6 99.0h0.62M182.6 107.5h0.62M171.4 104.3h0.62M178.7 109.0h0.62M175.7 99.5h0.62M172.2 91.7h0.62M181.0 106.0h0.62M187.8 102.9h0.62M175.3 94.6h0.62M169.8 95.9h0.62M181.6 101.6h0.62M160.8 100.3h0.62M176.6 93.7h0.62M178.7 104.7h0.62M170.7 91.5h0.62M176.4 102.8h0.62M176.9 111.8h0.62M180.1 94.0h0.62M185.0 96.5h0.62M184.4 101.7h0.62M188.6 94.0h0.62M184.6 104.0h0.62M171.8 105.9h0.62M196.8 103.5h0.62M172.9 99.9h0.62M189.2 102.8h0.62M190.6 96.4h0.62M189.3 90.0h0.62M177.6 98.9h0.62M175.0 109.6h0.62M174.2 103.5h0.62M193.6 106.8h0.62M175.6 95.9h0.62M163.1 103.7h0.62M186.0 108.8h0.62M180.8 116.1h0.62M185.1 84.8h0.62M171.9 106.6h0.62M175.8 106.9h0.62M199.3 95.7h0.62M196.5 100.4h0.62M167.3 101.7h0.62M186.1 96.9h0.62M191.5 94.9h0.62M177.4 107.5h0.62M177.3 97.1h0.62M178.8 105.6h0.62M192.7 110.5h0.62M193.8 100.8h0.62M165.8 100.7h0.62M175.7 94.0h0.62M174.9 100.5h0.62M179.4 107.4h0.62M171.7 109.0h0.62M179.3 106.1h0.62M188.8 92.3h0.62M191.7 96.0h0.62M182.1 108.6h0.62M186.3 90.0h0.62M180.3 109.0h0.62M178.0 100.4h0.62M179.5 112.5h0.62M174.6 94.4h0.62M170.2 97.3h0.62M177.1 103.4h0.62M178.3 89.0h0.62M166.4 105.8h0.62M184.7 91.5h0.62M186.4 84.0h0.62M197.5 105.1h0.62M165.7 104.6h0.62M178.7 97.8h0.62M176.0 99.4h0.62M178.2 94.7h0.62M174.4 104.9h0.62M183.2 91.7h0.62M175.1 112.0h0.62M184.7 112.6h0.62M168.2 93.7h0.62M161.6 87.4h0.62M176.0 93.6h0.62M170.3 96.1h0.62M177.5 106.8h0.62M183.5 88.7h0.62M190.9 98.7h0.62M171.0 100.8h0.62M175.8 91.3h0.62M191.4 96.9h0.62M174.2 104.8h0.62M192.4 104.4h0.62M171.8 104.1h0.62M187.8 103.7h0.62M184.2 97.6h0.62M178.4 89.2h0.62M173.2 93.0h0.62M179.0 111.5h0.62M161.0 91.7h0.62M171.5 100.4h0.62M188.3 95.5h0.62M172.7 109.5h0.62M182.0 104.7h0.62M185.7 95.8h0.62M180.8 96.4h0.62M173.2 101.9h0.62M182.5 92.1h0.62M172.8 105.3h0.62M180.3 105.7h0.62M176.5 95.4h0.62M185.3 105.2h0.62M156.2 107.1h0.62M172.9 105.7h0.62M191.6 99.0h0.62M171.2 102.8h0.62M179.7 105.0h0.62M167.7 102.7h0.62M186.2 105.9h0.62M184.0 109.4h0.62M172.4 109.6h0.62M180.7 94.0h0.62M176.6 102.9h0.62M181.7 110.5h0.62M180.5 97.4h0.62M196.5 98.7h0.62M172.4 107.5h0.62M175.7 95.5h0.62M170.5 109.3h0.62M170.5 101.7h0.62M175.3 99.7h0.62M172.4 102.1h0.62M183.8 108.4h0.62M176.1 92.8h0.62M167.1 101.1h0.62M159.1 110.4h0.62M179.2 101.9h0.62M167.8 96.5h0.62M173.0 105.8h0.62M175.7 105.4h0.62M183.1 87.5h0.62M177.1 109.9h0.62M174.9 101.9h0.62M178.0 92.4h0.62M196.5 100.1h0.62M184.1 97.9h0.62M190.3 109.1h0.62M188.5 107.7h0.62M184.6 110.8h0.62M182.2 102.0h0.62M185.5 94.8h0.62M158.6 106.7h0.62M180.2 96.1h0.62M176.8 94.4h0.62M172.2 102.4h0.62M180.0 106.9h0.62M178.3 105.5h0.62M184.5 96.1h0.62M165.4 96.2h0.62M177.0 97.3h0.62M196.7 96.3h0.62M182.8 95.7h0.62M184.5 92.2h0.62M186.6 102.3h0.62M175.8 92.7h0.62M192.4 97.0h0.62M190.6 84.2h0.62M169.4 113.7h0.62M193.3 101.2h0.62M187.0 105.3h0.62M176.1 102.0h0.62M169.8 91.7h0.62M180.0 106.2h0.62M180.3 92.5h0.62M185.8 101.7h0.62M185.0 99.1h0.62M176.9 108.4h0.62M190.0 92.7h0.62M170.1 107.9h0.62M181.9 101.4h0.62M171.1 108.2h0.62M180.5 102.6h0.62M182.1 97.4h0.62M182.2 102.0h0.62M184.8 103.7h0.62M168.7 96.1h0.62M176.8 109.2h0.62M173.8 109.0h0.62M187.7 107.2h0.62M197.1 101.0h0.62M181.6 109.6h0.62M182.3 108.0h0.62M190.4 100.3h0.62M196.2 67.0h0.62M205.1 84.2h0.62M181.4 83.2h0.62M188.6 97.6h0.62M196.0 85.4h0.62M191.8 77.2h0.62M184.3 81.5h0.62M189.3 74.5h0.62M187.2 96.1h0.62M197.5 86.1h0.62M196.2 83.7h0.62M177.7 94.9h0.62M219.0 91.2h0.62M200.3 110.7h0.62M177.4 91.4h0.62M187.9 83.4h0.62M172.1 85.4h0.62M196.8 70.2h0.62M189.3 81.3h0.62M180.0 92.4h0.62M211.8 90.3h0.62M204.4 93.7h0.62M191.2 91.9h0.62M208.0 81.9h0.62M190.2 72.4h0.62M169.6 78.0h0.62M202.8 89.8h0.62M195.1 99.2h0.62M170.7 99.9h0.62M193.0 93.9h0.62M208.6 78.1h0.62M181.5 90.2h0.62M191.3 80.4h0.62M190.5 78.9h0.62M193.6 82.3h0.62M212.5 75.8h0.62M199.0 86.9h0.62M211.1 76.5h0.62M186.4 103.3h0.62M184.1 82.4h0.62M187.3 76.4h0.62M206.7 101.2h0.62M190.2 78.7h0.62M175.7 92.7h0.62M185.6 91.6h0.62M163.0 81.9h0.62M199.6 90.3h0.62M157.5 89.1h0.62M193.6 85.9h0.62M187.9 81.8h0.62M193.7 91.2h0.62M153.9 86.0h0.62M203.2 84.0h0.62M206.7 76.9h0.62M215.0 95.7h0.62M187.1 113.4h0.62M209.4 101.8h0.62M177.6 85.0h0.62M197.7 96.6h0.62M192.9 73.3h0.62M206.7 84.5h0.62M197.3 83.0h0.62M190.6 72.5h0.62M200.0 79.9h0.62M170.6 90.2h0.62M191.6 95.6h0.62M201.9 74.1h0.62M189.9 86.1h0.62M193.1 75.7h0.62M192.9 95.8h0.62M207.0 100.6h0.62M201.1 61.1h0.62M188.7 80.7h0.62M157.1 101.4h0.62M203.0 86.1h0.62M196.3 90.9h0.62M189.4 99.7h0.62M214.0 94.2h0.62M185.3 88.6h0.62M203.8 93.2h0.62M183.7 95.6h0.62M200.8 91.9h0.62M187.0 85.9h0.62M169.0 85.8h0.62M186.7 83.2h0.62M188.6 82.9h0.62M193.0 87.1h0.62M184.6 84.8h0.62M190.9 91.0h0.62M197.3 82.6h0.62M182.1 69.9h0.62M176.9 90.1h0.62M180.9 102.0h0.62M190.1 82.3h0.62M190.1 80.7h0.62M184.4 86.8h0.62M174.6 87.4h0.62M190.9 77.2h0.62M204.4 89.7h0.62" stroke="#222" stroke-width="0.62" fill="none" stroke-opacity="0.8"/>
<path d="M46.3 59.6h-3.0M46.3 53.6h-1.9M46.3 50.2h-1.9M46.3 47.7h-1.9M46.3 45.8h-1.9M46.3 44.2h-1.9M46.3 42.9h-1.9M46.3 41.7h-1.9M46.3 40.7h-1.9M46.3 81.5h-3.0M46.3 74.9h-1.9M46.3 71.1h-1.9M46.3 68.3h-1.9M46.3 66.2h-1.9M46.3 64.5h-1.9M46.3 63.0h-1.9M46.3 61.7h-1.9M46.3 60.6h-1.9M46.3 39.8h-3.0M46.3 89.4h-1.9M46.3 97.3h-1.9M46.3 105.2h-3.0M46.3 113.1h-1.9" stroke="#000" stroke-width="1.0"/>
<path d="M81.5 118.4v3.0M88.2 118.4v1.9M92.1 118.4v1.9M94.9 118.4v1.9M97.0 118.4v1.9M98.8 118.4v1.9M100.3 118.4v1.9M101.5 118.4v1.9M102.7 118.4v1.9M103.7 118.4v3.0M109.8 118.4v1.9M113.4 118.4v1.9M116.0 118.4v1.9M118.0 118.4v1.9M119.6 118.4v1.9M120.9 118.4v1.9M122.1 118.4v1.9M123.2 118.4v1.9M124.1 118.4v3.0M50.4 118.4v1.9M56.6 118.4v1.9M62.9 118.4v3.0M69.1 118.4v1.9M75.3 118.4v1.9" stroke="#000" stroke-width="1.0"/>
<line x1="88.70" y1="32.20" x2="88.70" y2="118.40" stroke="#444" stroke-width="0.95"/>
<line x1="46.30" y1="84.00" x2="133.80" y2="84.00" stroke="#444" stroke-width="0.95"/>
<rect x="46.3" y="32.2" width="87.5" height="86.2" fill="none" stroke="#000" stroke-width="1.25"/>
<text x="113.0" y="48.0" font-size="8.8" fill="#1a1a1a" text-anchor="middle" stroke="#1a1a1a" stroke-width="0.12">18.6</text>
<path d="M152.2 59.6h-3.0M152.2 53.6h-1.9M152.2 50.2h-1.9M152.2 47.7h-1.9M152.2 45.8h-1.9M152.2 44.2h-1.9M152.2 42.9h-1.9M152.2 41.7h-1.9M152.2 40.7h-1.9M152.2 81.5h-3.0M152.2 74.9h-1.9M152.2 71.1h-1.9M152.2 68.3h-1.9M152.2 66.2h-1.9M152.2 64.5h-1.9M152.2 63.0h-1.9M152.2 61.7h-1.9M152.2 60.6h-1.9M152.2 39.8h-3.0M152.2 89.4h-1.9M152.2 97.3h-1.9M152.2 105.2h-3.0M152.2 113.1h-1.9" stroke="#000" stroke-width="1.0"/>
<path d="M187.4 117.8v3.0M194.1 117.8v1.9M198.0 117.8v1.9M200.8 117.8v1.9M202.9 117.8v1.9M204.7 117.8v1.9M206.2 117.8v1.9M207.4 117.8v1.9M208.6 117.8v1.9M209.6 117.8v3.0M215.7 117.8v1.9M219.3 117.8v1.9M221.9 117.8v1.9M223.9 117.8v1.9M225.5 117.8v1.9M226.8 117.8v1.9M228.0 117.8v1.9M229.1 117.8v1.9M230.0 117.8v3.0M156.3 117.8v1.9M162.5 117.8v1.9M168.8 117.8v3.0M175.0 117.8v1.9M181.2 117.8v1.9" stroke="#000" stroke-width="1.0"/>
<line x1="192.60" y1="32.20" x2="192.60" y2="117.80" stroke="#444" stroke-width="0.95"/>
<line x1="152.20" y1="83.50" x2="238.00" y2="83.50" stroke="#444" stroke-width="0.95"/>
<rect x="152.2" y="32.2" width="85.8" height="85.6" fill="none" stroke="#000" stroke-width="1.25"/>
<text x="223.4" y="48.1" font-size="8.8" fill="#1a1a1a" text-anchor="middle" stroke="#1a1a1a" stroke-width="0.12">34.8</text>
<text x="26.0" y="43.5" font-size="8.8" fill="#1a1a1a" textLength="7.8" lengthAdjust="spacingAndGlyphs" stroke="#1a1a1a" stroke-width="0.12">10</text>
<text x="34.2" y="40.2" font-size="6.8" fill="#1a1a1a" textLength="4.6" lengthAdjust="spacingAndGlyphs" stroke="#1a1a1a" stroke-width="0.12">5</text>
<text x="26.0" y="63.3" font-size="8.8" fill="#1a1a1a" textLength="7.8" lengthAdjust="spacingAndGlyphs" stroke="#1a1a1a" stroke-width="0.12">10</text>
<text x="34.2" y="60.0" font-size="6.8" fill="#1a1a1a" textLength="4.6" lengthAdjust="spacingAndGlyphs" stroke="#1a1a1a" stroke-width="0.12">4</text>
<text x="26.0" y="84.8" font-size="8.8" fill="#1a1a1a" textLength="7.8" lengthAdjust="spacingAndGlyphs" stroke="#1a1a1a" stroke-width="0.12">10</text>
<text x="34.2" y="81.5" font-size="6.8" fill="#1a1a1a" textLength="4.6" lengthAdjust="spacingAndGlyphs" stroke="#1a1a1a" stroke-width="0.12">3</text>
<text x="34.4" y="108.6" font-size="8.8" fill="#1a1a1a" textLength="4.3" lengthAdjust="spacingAndGlyphs" stroke="#1a1a1a" stroke-width="0.12">0</text>
<text x="60.8" y="133.8" font-size="8.8" fill="#1a1a1a" textLength="4.2" lengthAdjust="spacingAndGlyphs" stroke="#1a1a1a" stroke-width="0.12">0</text>
<text x="75.8" y="133.8" font-size="8.8" fill="#1a1a1a" textLength="7.7" lengthAdjust="spacingAndGlyphs" stroke="#1a1a1a" stroke-width="0.12">10</text>
<text x="83.9" y="130.4" font-size="6.8" fill="#1a1a1a" textLength="3.8" lengthAdjust="spacingAndGlyphs" stroke="#1a1a1a" stroke-width="0.12">3</text>
<text x="98.0" y="133.8" font-size="8.8" fill="#1a1a1a" textLength="7.7" lengthAdjust="spacingAndGlyphs" stroke="#1a1a1a" stroke-width="0.12">10</text>
<text x="106.1" y="130.4" font-size="6.8" fill="#1a1a1a" textLength="3.8" lengthAdjust="spacingAndGlyphs" stroke="#1a1a1a" stroke-width="0.12">4</text>
<text x="118.4" y="133.8" font-size="8.8" fill="#1a1a1a" textLength="7.7" lengthAdjust="spacingAndGlyphs" stroke="#1a1a1a" stroke-width="0.12">10</text>
<text x="126.5" y="130.4" font-size="6.8" fill="#1a1a1a" textLength="3.8" lengthAdjust="spacingAndGlyphs" stroke="#1a1a1a" stroke-width="0.12">5</text>
<line x1="15.20" y1="35.80" x2="15.20" y2="92.70" stroke="#111" stroke-width="1.2"/>
<path d="M15.2 32.8l-2.9 6.2l2.9 -1.3l2.9 1.3z" fill="#000"/>
<text x="18.7" y="106.3" font-size="10.2" fill="#222" text-anchor="middle" textLength="21.4" lengthAdjust="spacingAndGlyphs" transform="rotate(-90 18.7 106.3)" stroke="#222" stroke-width="0.12">7-AAD</text>
<text x="46.7" y="149.0" font-size="10.2" fill="#111" textLength="56.5" lengthAdjust="spacingAndGlyphs" stroke="#111" stroke-width="0.12">Annexin V-APC</text>
<line x1="107.70" y1="145.40" x2="235.50" y2="145.40" stroke="#111" stroke-width="1.2"/>
<path d="M238.5 145.4l-6.2 -2.9l1.3 2.9l-1.3 2.9z" fill="#000"/>
<text x="133.6" y="195.6" font-size="9.0" fill="#111" textLength="26.6" lengthAdjust="spacingAndGlyphs" stroke="#111" stroke-width="0.12">BMNK</text>
<line x1="50.90" y1="201.60" x2="243.00" y2="201.60" stroke="#222" stroke-width="1.2"/>
<text x="77.9" y="212.8" font-size="8.8" fill="#e0333f" textLength="32.0" lengthAdjust="spacingAndGlyphs" stroke="#e0333f" stroke-width="0.12">Relapse</text>
<text x="175.8" y="212.9" font-size="9.0" fill="#50589c" textLength="47.8" lengthAdjust="spacingAndGlyphs" stroke="#50589c" stroke-width="0.12">No Relapse</text>
<path d="M115.2 245.9h0.6M82.6 238.7h0.6M77.9 229.0h0.6M122.0 248.6h0.6M102.7 247.8h0.6M98.0 277.0h0.6M75.6 241.5h0.6M101.9 242.6h0.6M109.7 273.0h0.6M112.5 265.5h0.6M97.7 269.0h0.6M88.8 238.7h0.6M96.3 251.7h0.6M117.2 241.5h0.6M116.1 244.4h0.6M82.2 231.7h0.6M99.5 235.1h0.6M103.0 255.8h0.6M94.4 228.5h0.6M92.7 261.3h0.6M74.9 264.7h0.6M100.3 247.6h0.6M102.9 264.1h0.6M99.7 244.4h0.6M111.0 245.7h0.6M105.1 268.6h0.6M118.4 277.2h0.6M114.4 257.1h0.6M97.2 257.7h0.6M107.4 296.4h0.6M109.3 243.7h0.6M121.4 233.1h0.6M114.1 237.4h0.6M84.7 248.1h0.6M96.0 236.4h0.6M108.7 253.5h0.6M118.9 241.0h0.6M74.6 264.6h0.6M96.8 268.6h0.6M67.2 237.8h0.6M101.3 282.1h0.6M82.7 228.7h0.6M93.6 274.7h0.6M122.2 236.3h0.6M91.4 229.6h0.6M88.2 241.8h0.6M106.0 270.8h0.6M133.5 250.1h0.6M111.5 258.1h0.6M101.8 281.8h0.6M109.9 276.7h0.6M104.2 267.0h0.6M107.1 253.8h0.6M90.2 249.5h0.6M100.2 249.8h0.6M95.2 245.3h0.6M112.1 251.7h0.6M98.4 252.0h0.6M118.4 247.6h0.6M119.8 243.1h0.6M121.5 263.5h0.6M93.1 261.4h0.6M116.0 241.9h0.6M96.8 259.4h0.6M97.1 251.0h0.6M100.3 259.4h0.6M110.9 275.5h0.6M95.5 295.7h0.6M95.4 279.7h0.6M98.2 235.0h0.6M93.9 250.3h0.6M115.0 227.1h0.6M91.2 253.2h0.6M109.2 260.5h0.6M112.0 252.9h0.6M96.8 271.8h0.6M124.1 260.3h0.6M102.2 243.2h0.6M129.5 260.6h0.6M108.7 232.9h0.6M108.5 288.7h0.6M97.7 252.2h0.6M121.5 252.5h0.6M111.9 282.0h0.6M83.7 243.6h0.6M109.6 256.7h0.6M100.6 252.8h0.6M101.8 260.0h0.6M93.4 251.2h0.6M103.3 240.0h0.6M80.0 261.5h0.6M81.8 280.0h0.6M65.5 293.0h0.6M65.5 299.4h0.6M69.5 291.8h0.6M75.5 295.4h0.6M74.0 290.2h0.6M73.2 264.3h0.6M79.5 285.3h0.6M79.6 295.9h0.6M69.4 268.3h0.6M78.3 274.9h0.6M75.1 281.0h0.6M68.7 290.8h0.6M75.0 297.0h0.6M78.3 290.5h0.6M73.4 275.2h0.6M71.3 273.2h0.6M80.1 282.3h0.6M66.4 267.3h0.6M68.3 264.8h0.6M68.1 267.5h0.6M82.4 270.7h0.6M70.8 280.0h0.6M76.3 284.8h0.6M82.9 286.8h0.6M73.0 292.2h0.6M79.4 274.7h0.6M89.4 270.5h0.6M80.3 292.2h0.6M77.1 284.1h0.6M77.1 287.0h0.6M78.0 281.1h0.6M82.3 264.1h0.6M78.3 278.3h0.6M93.6 283.6h0.6M70.2 286.9h0.6M72.6 270.5h0.6M73.5 285.5h0.6M86.7 290.4h0.6M78.1 279.6h0.6M77.8 291.8h0.6M74.9 291.4h0.6M69.0 280.9h0.6M82.9 287.3h0.6M77.8 276.4h0.6M60.0 277.1h0.6M68.5 277.4h0.6M90.1 274.2h0.6M83.6 280.9h0.6M66.2 282.0h0.6M82.7 270.5h0.6M65.7 277.6h0.6M82.5 275.7h0.6M79.8 285.1h0.6M76.2 285.0h0.6M87.3 279.3h0.6M78.9 271.5h0.6M69.6 280.1h0.6M83.3 275.0h0.6" stroke="#777" stroke-width="0.6" fill="none" stroke-opacity="0.7"/>
<g transform="translate(76.1 281.0) rotate(0)"><path d="M7.60 0.00L7.48 1.39L7.14 2.74L6.58 4.00L5.82 5.14L4.89 6.13L3.80 6.93L2.60 7.52L1.32 7.88L0.00 8.00L-1.32 7.88L-2.60 7.52L-3.80 6.93L-4.89 6.13L-5.82 5.14L-6.58 4.00L-7.14 2.74L-7.48 1.39L-7.60 0.00L-7.48 -1.39L-7.14 -2.74L-6.58 -4.00L-5.82 -5.14L-4.89 -6.13L-3.80 -6.93L-2.60 -7.52L-1.32 -7.88L-0.00 -8.00L1.32 -7.88L2.60 -7.52L3.80 -6.93L4.89 -6.13L5.82 -5.14L6.58 -4.00L7.14 -2.74L7.48 -1.39Z" fill="#e8e8e8" stroke="#444" stroke-width="0.9"/><path transform="translate(0 -0.00)" d="M6.17 0.00L6.07 1.13L5.79 2.22L5.34 3.25L4.72 4.17L3.96 4.97L3.08 5.62L2.11 6.10L1.07 6.39L0.00 6.49L-1.07 6.39L-2.11 6.10L-3.08 5.62L-3.96 4.97L-4.72 4.17L-5.34 3.25L-5.79 2.22L-6.07 1.13L-6.17 0.00L-6.07 -1.13L-5.79 -2.22L-5.34 -3.25L-4.72 -4.17L-3.96 -4.97L-3.08 -5.62L-2.11 -6.10L-1.07 -6.39L-0.00 -6.49L1.07 -6.39L2.11 -6.10L3.08 -5.62L3.96 -4.97L4.72 -4.17L5.34 -3.25L5.79 -2.22L6.07 -1.13Z" fill="none" stroke="#b0b0b0" stroke-width="0.45"/><path transform="translate(0 -0.00)" d="M4.73 0.00L4.66 0.86L4.45 1.70L4.10 2.49L3.62 3.20L3.04 3.82L2.37 4.31L1.62 4.68L0.82 4.91L0.00 4.98L-0.82 4.91L-1.62 4.68L-2.37 4.31L-3.04 3.82L-3.62 3.20L-4.10 2.49L-4.45 1.70L-4.66 0.86L-4.73 0.00L-4.66 -0.86L-4.45 -1.70L-4.10 -2.49L-3.62 -3.20L-3.04 -3.82L-2.37 -4.31L-1.62 -4.68L-0.82 -4.91L-0.00 -4.98L0.82 -4.91L1.62 -4.68L2.37 -4.31L3.04 -3.82L3.62 -3.20L4.10 -2.49L4.45 -1.70L4.66 -0.86Z" fill="none" stroke="#b0b0b0" stroke-width="0.45"/><path transform="translate(0 -0.00)" d="M3.30 0.00L3.25 0.60L3.10 1.19L2.86 1.74L2.53 2.23L2.12 2.66L1.65 3.01L1.13 3.26L0.57 3.42L0.00 3.47L-0.57 3.42L-1.13 3.26L-1.65 3.01L-2.12 2.66L-2.53 2.23L-2.86 1.74L-3.10 1.19L-3.25 0.60L-3.30 0.00L-3.25 -0.60L-3.10 -1.19L-2.86 -1.74L-2.53 -2.23L-2.12 -2.66L-1.65 -3.01L-1.13 -3.26L-0.57 -3.42L-0.00 -3.47L0.57 -3.42L1.13 -3.26L1.65 -3.01L2.12 -2.66L2.53 -2.23L2.86 -1.74L3.10 -1.19L3.25 -0.60Z" fill="none" stroke="#b0b0b0" stroke-width="0.45"/><path transform="translate(0 -0.00)" d="M1.86 0.00L1.84 0.34L1.75 0.67L1.61 0.98L1.43 1.26L1.20 1.50L0.93 1.70L0.64 1.84L0.32 1.93L0.00 1.96L-0.32 1.93L-0.64 1.84L-0.93 1.70L-1.20 1.50L-1.43 1.26L-1.61 0.98L-1.75 0.67L-1.84 0.34L-1.86 0.00L-1.84 -0.34L-1.75 -0.67L-1.61 -0.98L-1.43 -1.26L-1.20 -1.50L-0.93 -1.70L-0.64 -1.84L-0.32 -1.93L-0.00 -1.96L0.32 -1.93L0.64 -1.84L0.93 -1.70L1.20 -1.50L1.43 -1.26L1.61 -0.98L1.75 -0.67L1.84 -0.34Z" fill="none" stroke="#b0b0b0" stroke-width="0.45"/><ellipse cy="-0.00" rx="1.37" ry="1.30" fill="#fafafa"/></g>
<path d="M197.1 282.8h0.6M221.2 253.4h0.6M199.2 276.0h0.6M209.1 267.1h0.6M208.2 284.3h0.6M204.3 281.2h0.6M206.9 267.2h0.6M202.1 269.9h0.6M214.5 284.7h0.6M207.6 261.9h0.6M202.9 271.6h0.6M193.7 274.9h0.6M207.9 263.9h0.6M203.3 271.2h0.6M217.8 280.6h0.6M210.9 275.7h0.6M197.8 282.8h0.6M201.7 258.9h0.6M210.7 272.1h0.6M206.0 279.3h0.6M204.5 278.5h0.6M214.2 272.3h0.6M203.8 275.2h0.6M210.1 271.7h0.6M206.5 269.3h0.6M205.5 279.6h0.6M200.8 273.5h0.6M196.7 269.1h0.6M206.5 279.5h0.6M199.5 274.2h0.6M200.1 277.7h0.6M207.7 278.7h0.6M204.7 263.1h0.6M202.5 263.8h0.6M201.7 274.5h0.6M212.9 269.6h0.6M201.1 276.7h0.6M192.9 291.7h0.6M196.2 283.5h0.6M212.2 283.1h0.6M205.4 281.1h0.6M203.8 283.1h0.6M201.9 268.2h0.6M208.4 271.2h0.6M210.3 267.8h0.6M207.7 266.8h0.6M205.4 293.0h0.6M199.2 264.7h0.6M195.9 273.1h0.6M216.3 271.2h0.6M211.9 273.5h0.6M202.0 291.8h0.6M212.9 259.6h0.6M199.8 278.5h0.6M210.1 273.1h0.6M208.0 279.5h0.6M203.8 283.4h0.6M200.6 281.3h0.6M211.8 276.7h0.6M203.8 274.9h0.6M192.0 277.1h0.6M197.0 258.1h0.6M210.8 267.4h0.6M208.3 275.4h0.6M194.9 267.5h0.6M204.3 278.9h0.6M206.5 264.4h0.6M202.7 275.9h0.6M198.0 271.3h0.6M202.6 257.2h0.6M216.9 282.4h0.6M203.1 282.9h0.6M199.4 287.8h0.6M203.7 276.2h0.6M202.4 275.8h0.6M208.1 275.3h0.6M200.8 281.3h0.6M209.5 275.0h0.6M212.6 268.8h0.6M214.1 273.7h0.6M215.6 271.3h0.6M204.4 276.8h0.6M212.9 287.1h0.6M203.1 268.9h0.6M210.8 285.4h0.6M210.4 272.3h0.6M214.0 274.8h0.6M207.1 280.2h0.6M202.4 256.1h0.6M207.4 281.0h0.6M208.8 279.5h0.6M207.0 283.7h0.6M206.7 287.5h0.6M206.3 281.7h0.6M202.5 277.5h0.6M208.7 276.2h0.6M215.7 275.4h0.6M213.1 278.0h0.6M212.9 267.5h0.6M203.7 283.1h0.6M200.9 278.3h0.6M209.6 276.6h0.6M208.8 279.5h0.6M204.5 278.5h0.6M202.8 271.2h0.6M196.0 274.1h0.6M195.3 275.2h0.6M207.3 265.9h0.6M206.4 277.4h0.6M203.8 267.4h0.6M205.3 278.4h0.6M211.8 291.2h0.6M193.6 277.9h0.6M208.7 269.7h0.6M208.0 292.5h0.6M206.7 286.4h0.6M212.7 271.3h0.6M191.5 284.7h0.6M215.7 260.3h0.6M204.8 269.2h0.6M207.3 275.5h0.6M213.2 270.1h0.6M218.1 260.7h0.6M207.4 297.5h0.6M205.4 280.3h0.6M203.0 302.7h0.6M211.6 272.1h0.6M194.0 276.8h0.6M210.6 257.9h0.6M202.9 279.7h0.6M190.9 273.4h0.6M196.0 263.8h0.6M208.6 284.5h0.6M213.3 269.5h0.6M209.2 260.1h0.6M196.7 279.6h0.6M203.5 266.5h0.6M194.2 273.0h0.6M220.1 258.1h0.6M199.4 284.4h0.6M193.9 269.8h0.6M206.4 284.5h0.6M205.5 290.3h0.6M205.8 274.1h0.6M208.8 278.0h0.6M196.6 267.0h0.6M204.5 277.9h0.6M198.3 269.0h0.6M201.3 277.9h0.6M203.3 280.1h0.6M208.5 267.3h0.6M204.1 264.6h0.6M206.7 281.8h0.6M199.8 260.1h0.6M209.3 272.6h0.6M205.8 278.9h0.6M208.4 282.8h0.6M203.1 256.5h0.6M202.9 272.4h0.6M203.4 278.3h0.6M204.4 285.9h0.6M202.0 274.9h0.6M203.7 292.8h0.6M200.0 266.6h0.6M203.6 281.4h0.6M206.1 273.5h0.6M196.8 257.5h0.6M204.7 273.0h0.6M217.1 278.1h0.6M208.7 283.2h0.6M200.3 264.6h0.6M203.7 287.5h0.6M212.3 270.1h0.6M198.1 282.8h0.6M212.9 265.7h0.6M216.2 268.5h0.6M210.8 273.3h0.6M203.9 269.8h0.6M210.4 280.2h0.6M211.1 272.6h0.6M200.6 293.1h0.6M216.9 273.4h0.6M198.7 287.7h0.6M206.8 275.5h0.6M211.4 278.0h0.6M206.7 291.8h0.6M194.0 280.4h0.6M199.7 275.6h0.6M204.9 277.2h0.6M190.7 280.9h0.6M220.8 271.5h0.6M211.7 280.3h0.6M207.9 270.8h0.6M210.0 277.3h0.6M215.2 282.0h0.6M201.5 250.3h0.6M215.6 279.1h0.6M207.1 269.9h0.6M222.0 286.3h0.6M206.6 271.9h0.6M209.7 286.5h0.6M209.3 283.0h0.6M207.7 278.0h0.6M197.9 276.0h0.6M206.3 274.4h0.6M204.5 277.6h0.6M202.3 273.3h0.6M197.6 294.6h0.6M200.3 264.8h0.6M202.6 271.5h0.6M199.1 254.3h0.6M216.5 283.6h0.6M203.6 279.7h0.6M198.9 261.3h0.6M208.1 279.9h0.6M201.6 275.0h0.6M186.3 273.9h0.6M212.8 276.4h0.6M207.2 279.9h0.6M192.6 264.1h0.6M197.8 277.1h0.6M202.0 259.0h0.6M211.7 273.4h0.6M212.4 292.0h0.6M195.4 264.2h0.6M212.9 286.9h0.6M208.5 278.1h0.6M210.5 280.6h0.6M197.8 281.3h0.6M212.4 271.6h0.6M200.1 270.9h0.6M202.2 279.5h0.6M211.0 275.2h0.6M204.0 260.0h0.6M203.3 266.6h0.6M202.4 277.9h0.6M207.1 304.7h0.6M200.4 270.5h0.6M198.6 272.8h0.6M204.2 283.5h0.6M193.4 282.7h0.6M210.2 270.6h0.6M201.6 276.7h0.6M209.4 273.7h0.6M205.0 275.2h0.6M199.0 277.3h0.6M209.7 275.4h0.6M198.6 275.0h0.6M205.3 277.7h0.6M203.3 282.0h0.6M213.0 282.0h0.6M207.5 285.3h0.6M205.7 273.6h0.6M196.7 275.2h0.6M213.8 267.0h0.6M211.0 264.3h0.6M207.9 290.4h0.6M206.3 265.2h0.6M207.8 273.8h0.6M211.1 270.6h0.6M194.8 271.0h0.6M209.8 283.6h0.6M207.8 275.2h0.6M210.4 273.4h0.6M203.0 276.9h0.6M213.0 270.8h0.6M209.2 269.7h0.6M201.2 276.5h0.6M197.4 267.9h0.6M198.3 270.0h0.6M200.1 294.5h0.6M209.9 275.6h0.6M197.3 255.2h0.6M208.8 269.8h0.6M212.7 271.7h0.6M197.5 269.7h0.6M196.1 263.2h0.6M210.6 270.6h0.6M210.4 270.4h0.6M204.5 270.4h0.6M202.4 269.5h0.6M215.6 274.6h0.6M193.4 289.1h0.6M214.1 284.4h0.6M205.3 273.7h0.6M202.9 276.1h0.6M209.0 275.0h0.6M200.6 267.0h0.6M216.7 289.0h0.6M197.9 269.7h0.6M205.7 279.9h0.6M205.2 277.0h0.6M208.3 284.5h0.6M197.5 284.1h0.6M208.8 279.5h0.6M196.2 273.1h0.6M204.3 280.3h0.6M210.4 280.7h0.6M197.6 285.4h0.6M206.4 282.7h0.6M205.9 269.2h0.6M222.9 280.5h0.6M210.9 271.2h0.6M204.5 284.2h0.6M208.8 289.5h0.6M213.7 266.1h0.6M196.0 284.6h0.6M209.8 272.9h0.6M204.0 270.4h0.6M217.5 273.7h0.6M197.0 282.5h0.6M205.4 278.0h0.6M203.4 274.7h0.6M193.7 279.5h0.6M201.5 271.9h0.6M208.0 285.6h0.6M192.0 273.9h0.6M209.4 283.4h0.6M200.0 277.7h0.6M208.5 282.7h0.6M201.9 273.5h0.6M202.6 284.4h0.6M212.9 271.4h0.6M205.0 276.9h0.6M200.1 274.1h0.6M211.5 281.4h0.6M201.5 269.7h0.6M205.1 263.0h0.6M207.9 276.0h0.6M197.3 273.1h0.6M201.6 272.9h0.6M200.2 286.2h0.6M199.6 281.3h0.6M207.2 286.9h0.6M205.5 275.1h0.6M206.3 259.7h0.6M221.5 273.3h0.6M203.8 265.9h0.6M205.0 288.2h0.6M201.0 278.7h0.6M212.6 282.8h0.6M203.3 260.9h0.6M208.5 279.7h0.6M203.8 271.6h0.6M217.3 262.2h0.6M202.6 270.1h0.6M195.8 269.5h0.6M200.7 285.2h0.6M194.6 263.9h0.6M207.6 262.5h0.6M192.9 270.0h0.6M198.1 267.2h0.6M204.8 278.8h0.6M201.7 272.9h0.6M210.5 273.9h0.6M210.6 270.3h0.6M209.1 285.4h0.6M196.9 299.3h0.6M203.8 272.4h0.6M204.8 278.8h0.6M198.0 275.4h0.6M202.1 286.6h0.6M194.7 280.3h0.6M203.8 269.1h0.6M206.8 273.2h0.6M206.1 277.0h0.6M213.7 271.8h0.6M216.7 253.3h0.6M217.7 284.9h0.6M216.0 276.7h0.6M207.7 266.9h0.6M214.5 265.8h0.6M200.7 275.1h0.6M207.4 277.8h0.6M198.3 272.3h0.6M209.1 284.7h0.6M210.8 278.4h0.6M204.2 270.7h0.6M202.6 274.3h0.6M209.3 271.0h0.6M219.2 267.1h0.6M211.2 273.5h0.6M205.0 272.1h0.6M215.8 272.7h0.6M209.5 276.1h0.6M210.7 279.8h0.6M216.6 269.2h0.6M200.6 288.7h0.6M214.1 275.7h0.6M204.0 277.2h0.6M214.3 269.0h0.6M215.3 274.7h0.6M203.5 271.9h0.6M192.3 277.7h0.6M197.4 270.6h0.6M200.1 277.0h0.6M210.6 275.4h0.6M207.1 278.4h0.6M216.3 279.8h0.6M216.1 274.6h0.6M208.2 269.9h0.6M209.7 268.3h0.6M208.9 270.0h0.6M203.6 284.9h0.6M206.8 281.5h0.6M204.3 260.2h0.6M215.4 273.7h0.6M201.7 282.7h0.6M198.5 269.2h0.6M213.3 269.5h0.6M213.2 272.7h0.6M204.5 275.7h0.6M202.6 283.7h0.6M213.0 275.7h0.6M209.8 279.5h0.6M216.8 262.4h0.6M212.5 282.5h0.6M203.8 275.2h0.6M203.6 285.0h0.6M198.5 280.0h0.6M200.3 285.4h0.6M184.5 277.7h0.6M169.8 273.4h0.6M198.7 274.0h0.6M174.1 279.3h0.6M175.5 284.6h0.6M181.0 288.3h0.6M187.8 270.4h0.6M181.9 276.3h0.6M181.3 290.4h0.6M179.8 283.9h0.6M183.6 285.6h0.6M176.0 269.3h0.6M193.4 291.9h0.6M176.4 278.8h0.6M184.3 274.1h0.6M197.5 281.5h0.6M176.4 279.5h0.6M200.8 275.8h0.6M184.2 274.9h0.6M190.3 276.9h0.6M196.8 274.9h0.6M175.8 284.5h0.6M160.4 274.0h0.6M191.4 283.0h0.6M183.7 277.8h0.6M181.6 279.8h0.6M184.8 285.3h0.6M188.9 285.3h0.6M203.5 279.1h0.6M186.3 284.0h0.6M207.7 278.4h0.6M204.0 290.1h0.6M164.3 273.6h0.6M180.0 284.1h0.6M200.8 281.6h0.6M190.3 297.5h0.6M192.1 297.3h0.6M180.8 293.5h0.6M184.3 262.9h0.6M181.4 277.6h0.6M188.5 286.8h0.6M195.0 285.1h0.6M182.1 294.6h0.6M199.6 281.4h0.6M183.7 280.8h0.6M186.9 275.9h0.6M188.8 276.1h0.6M194.6 276.2h0.6M193.3 283.6h0.6M190.4 285.1h0.6M179.6 300.6h0.6M182.6 286.7h0.6M189.1 277.9h0.6M204.5 289.5h0.6M186.4 285.4h0.6M195.0 293.1h0.6M198.0 279.9h0.6M186.6 272.4h0.6M191.2 287.7h0.6M185.4 286.1h0.6M190.1 277.6h0.6M177.9 289.5h0.6M211.7 285.3h0.6M179.2 273.3h0.6M191.2 286.0h0.6M202.5 262.9h0.6M205.5 282.4h0.6M190.1 284.0h0.6M185.7 279.0h0.6M198.4 268.0h0.6M187.9 285.4h0.6M174.1 279.9h0.6M202.7 283.9h0.6M195.3 286.5h0.6M190.9 283.8h0.6M181.6 279.5h0.6M205.5 271.8h0.6M187.4 271.5h0.6M184.1 275.3h0.6M177.9 283.0h0.6M180.4 285.1h0.6M205.2 261.7h0.6M187.4 265.2h0.6M187.8 284.0h0.6M190.8 290.3h0.6M190.3 268.0h0.6M202.5 273.9h0.6M188.1 283.6h0.6M181.0 281.8h0.6M202.4 268.3h0.6M173.9 277.7h0.6M187.4 271.4h0.6M168.2 288.1h0.6M192.4 271.0h0.6M194.1 280.6h0.6M190.4 271.0h0.6M187.0 284.8h0.6M173.2 273.1h0.6M197.7 296.3h0.6M194.9 280.6h0.6M179.2 278.0h0.6M186.7 284.5h0.6M186.7 300.0h0.6M200.9 264.4h0.6M178.4 281.1h0.6M197.8 284.2h0.6M164.2 268.6h0.6M201.1 285.6h0.6M212.0 287.2h0.6M193.1 292.8h0.6M184.9 276.9h0.6M179.8 283.0h0.6M192.9 288.2h0.6M202.0 285.9h0.6M200.1 279.2h0.6M180.3 286.7h0.6M198.1 291.3h0.6M187.5 277.5h0.6M185.7 283.8h0.6M188.5 279.7h0.6M191.3 278.9h0.6M192.0 276.5h0.6M175.0 278.7h0.6M206.0 274.9h0.6M197.2 291.4h0.6M184.1 283.1h0.6M168.4 285.5h0.6M202.8 282.5h0.6M171.0 276.6h0.6M182.3 281.9h0.6M191.6 277.9h0.6M186.2 274.8h0.6M194.1 282.6h0.6M192.1 277.2h0.6M193.4 278.8h0.6M191.7 279.9h0.6M183.0 272.7h0.6M172.2 270.6h0.6M174.2 274.8h0.6M187.1 272.1h0.6M192.8 297.1h0.6M163.8 272.1h0.6M200.2 272.1h0.6M188.0 276.2h0.6M195.9 269.9h0.6M191.8 282.7h0.6M194.1 284.3h0.6M190.4 267.4h0.6M186.1 273.8h0.6M193.8 279.3h0.6M190.4 289.5h0.6M188.0 294.0h0.6M196.5 269.6h0.6M183.7 290.4h0.6M184.5 290.3h0.6M183.9 280.1h0.6M198.3 268.9h0.6M189.7 277.5h0.6M190.5 294.2h0.6M193.4 270.6h0.6M197.7 277.6h0.6M190.5 290.0h0.6M186.2 288.4h0.6M190.6 274.1h0.6M186.2 270.6h0.6M199.7 282.3h0.6M197.7 272.4h0.6M196.6 271.8h0.6M191.5 280.9h0.6M183.7 283.4h0.6M189.3 274.3h0.6M182.3 271.0h0.6M201.4 282.2h0.6M185.7 286.4h0.6M181.2 272.0h0.6M192.2 293.3h0.6M191.7 282.2h0.6M204.7 269.1h0.6M216.6 272.5h0.6M188.3 270.6h0.6M178.1 279.2h0.6M211.0 273.7h0.6M183.4 283.1h0.6M179.8 279.0h0.6M196.4 264.2h0.6M186.3 278.7h0.6M184.4 280.1h0.6M172.8 277.6h0.6M184.3 273.0h0.6M200.4 296.5h0.6M196.2 274.3h0.6M201.8 284.9h0.6M181.6 285.7h0.6M183.8 285.4h0.6M197.3 290.0h0.6M179.5 280.0h0.6M189.0 271.5h0.6M192.7 286.4h0.6M176.6 276.7h0.6M179.0 271.1h0.6M179.4 291.7h0.6M183.0 277.9h0.6M197.9 288.9h0.6M201.7 264.9h0.6M195.8 267.4h0.6M183.3 277.8h0.6M183.9 296.2h0.6M187.5 290.1h0.6M187.4 280.5h0.6M193.6 284.4h0.6M193.5 267.6h0.6M193.6 283.5h0.6M194.4 280.6h0.6M192.7 270.9h0.6M199.2 271.6h0.6M201.6 288.9h0.6M188.4 278.7h0.6M196.0 278.6h0.6M178.3 283.2h0.6M187.0 259.9h0.6M214.2 268.5h0.6M193.9 262.5h0.6M192.2 262.9h0.6M185.0 267.6h0.6M198.1 258.8h0.6M192.5 280.9h0.6M194.0 259.8h0.6M192.8 259.6h0.6M209.8 267.6h0.6M201.8 265.5h0.6M187.8 246.6h0.6M211.6 267.9h0.6M200.0 264.9h0.6M199.8 263.1h0.6M195.6 247.8h0.6M203.1 263.3h0.6M206.8 265.1h0.6M195.4 267.1h0.6M199.7 260.0h0.6M194.6 260.1h0.6M195.3 260.0h0.6M206.8 282.9h0.6M197.0 270.6h0.6M180.2 241.0h0.6M193.7 261.9h0.6M191.3 253.7h0.6M190.3 259.5h0.6M199.4 260.7h0.6M187.2 260.5h0.6M211.6 257.0h0.6M198.6 269.9h0.6M190.8 259.1h0.6M224.1 271.4h0.6M193.3 264.1h0.6M198.9 264.0h0.6M202.2 261.0h0.6M178.0 256.5h0.6M199.4 253.7h0.6M195.1 273.2h0.6M200.1 258.5h0.6M199.2 270.1h0.6M182.6 254.5h0.6M192.0 260.0h0.6M197.2 259.1h0.6M199.0 263.6h0.6M187.5 258.8h0.6M186.8 265.0h0.6M200.4 267.4h0.6M190.1 259.4h0.6M178.0 263.1h0.6M183.5 265.4h0.6M207.7 266.0h0.6M203.6 264.5h0.6M201.3 269.4h0.6M209.4 276.7h0.6M195.6 268.7h0.6M205.8 265.9h0.6M200.4 254.4h0.6M207.8 257.0h0.6M192.1 257.2h0.6M203.0 256.4h0.6M202.1 266.8h0.6M198.9 260.7h0.6M203.4 271.9h0.6M193.8 255.9h0.6M192.6 257.0h0.6M195.9 261.9h0.6M177.3 272.9h0.6M190.7 260.1h0.6M180.4 249.6h0.6M188.9 264.6h0.6M205.6 250.7h0.6M200.0 273.3h0.6M195.5 269.2h0.6M200.8 256.7h0.6M206.9 258.9h0.6M201.2 260.3h0.6M196.1 264.0h0.6M209.9 251.6h0.6M188.0 263.7h0.6M206.7 261.7h0.6M196.3 266.6h0.6M212.1 256.9h0.6M183.7 261.1h0.6M204.9 254.1h0.6M208.1 269.4h0.6M205.1 257.3h0.6M186.4 267.4h0.6M200.3 267.7h0.6M185.9 242.9h0.6M208.1 269.8h0.6M195.5 263.0h0.6M202.1 268.1h0.6M196.3 259.5h0.6M189.2 270.0h0.6M198.9 239.9h0.6M201.1 259.1h0.6M186.6 259.5h0.6M186.5 259.9h0.6M193.1 266.5h0.6M188.9 250.7h0.6M192.6 253.7h0.6M204.6 261.6h0.6M183.0 257.1h0.6M197.7 262.7h0.6M181.5 262.1h0.6M200.6 269.7h0.6M207.8 262.2h0.6M186.3 260.5h0.6" stroke="#333" stroke-width="0.6" fill="none" stroke-opacity="0.8"/>
<g transform="translate(182.5 281.6) rotate(32)"><path d="M8.60 0.00L8.47 1.84L8.08 3.63L7.45 5.30L6.59 6.81L5.53 8.12L4.30 9.18L2.94 9.96L1.49 10.44L0.00 10.60L-1.49 10.44L-2.94 9.96L-4.30 9.18L-5.53 8.12L-6.59 6.81L-7.45 5.30L-8.08 3.63L-8.47 1.84L-8.60 0.00L-8.47 -1.84L-8.08 -3.63L-7.45 -5.30L-6.59 -6.81L-5.53 -8.12L-4.30 -9.18L-2.94 -9.96L-1.49 -10.44L-0.00 -10.60L1.49 -10.44L2.94 -9.96L4.30 -9.18L5.53 -8.12L6.59 -6.81L7.45 -5.30L8.08 -3.63L8.47 -1.84Z" fill="#e6e6e6" stroke="#111" stroke-width="1.3"/><path transform="translate(0 -0.00)" d="M7.23 0.00L7.13 1.55L6.80 3.05L6.27 4.46L5.54 5.73L4.65 6.83L3.62 7.72L2.47 8.38L1.26 8.78L0.00 8.92L-1.26 8.78L-2.47 8.38L-3.62 7.72L-4.65 6.83L-5.54 5.73L-6.27 4.46L-6.80 3.05L-7.13 1.55L-7.23 0.00L-7.13 -1.55L-6.80 -3.05L-6.27 -4.46L-5.54 -5.73L-4.65 -6.83L-3.62 -7.72L-2.47 -8.38L-1.26 -8.78L-0.00 -8.92L1.26 -8.78L2.47 -8.38L3.62 -7.72L4.65 -6.83L5.54 -5.73L6.27 -4.46L6.80 -3.05L7.13 -1.55Z" fill="none" stroke="#b4b4b4" stroke-width="0.45"/><path transform="translate(0 -0.00)" d="M5.87 0.00L5.78 1.26L5.52 2.47L5.08 3.62L4.50 4.65L3.77 5.54L2.93 6.27L2.01 6.80L1.02 7.13L0.00 7.23L-1.02 7.13L-2.01 6.80L-2.93 6.27L-3.77 5.54L-4.50 4.65L-5.08 3.62L-5.52 2.47L-5.78 1.26L-5.87 0.00L-5.78 -1.26L-5.52 -2.47L-5.08 -3.62L-4.50 -4.65L-3.77 -5.54L-2.93 -6.27L-2.01 -6.80L-1.02 -7.13L-0.00 -7.23L1.02 -7.13L2.01 -6.80L2.93 -6.27L3.77 -5.54L4.50 -4.65L5.08 -3.62L5.52 -2.47L5.78 -1.26Z" fill="none" stroke="#b4b4b4" stroke-width="0.45"/><path transform="translate(0 -0.00)" d="M4.50 0.00L4.44 0.96L4.23 1.90L3.90 2.78L3.45 3.57L2.90 4.25L2.25 4.81L1.54 5.22L0.78 5.47L0.00 5.55L-0.78 5.47L-1.54 5.22L-2.25 4.81L-2.90 4.25L-3.45 3.57L-3.90 2.78L-4.23 1.90L-4.44 0.96L-4.50 0.00L-4.44 -0.96L-4.23 -1.90L-3.90 -2.78L-3.45 -3.57L-2.90 -4.25L-2.25 -4.81L-1.54 -5.22L-0.78 -5.47L-0.00 -5.55L0.78 -5.47L1.54 -5.22L2.25 -4.81L2.90 -4.25L3.45 -3.57L3.90 -2.78L4.23 -1.90L4.44 -0.96Z" fill="none" stroke="#b4b4b4" stroke-width="0.45"/><path transform="translate(0 -0.00)" d="M3.14 0.00L3.09 0.67L2.95 1.32L2.72 1.93L2.41 2.49L2.02 2.96L1.57 3.35L1.07 3.64L0.55 3.81L0.00 3.87L-0.55 3.81L-1.07 3.64L-1.57 3.35L-2.02 2.96L-2.41 2.49L-2.72 1.93L-2.95 1.32L-3.09 0.67L-3.14 0.00L-3.09 -0.67L-2.95 -1.32L-2.72 -1.93L-2.41 -2.49L-2.02 -2.96L-1.57 -3.35L-1.07 -3.64L-0.55 -3.81L-0.00 -3.87L0.55 -3.81L1.07 -3.64L1.57 -3.35L2.02 -2.96L2.41 -2.49L2.72 -1.93L2.95 -1.32L3.09 -0.67Z" fill="none" stroke="#b4b4b4" stroke-width="0.45"/><path transform="translate(0 -0.00)" d="M1.77 0.00L1.75 0.38L1.67 0.75L1.54 1.09L1.36 1.41L1.14 1.68L0.89 1.89L0.61 2.06L0.31 2.15L0.00 2.19L-0.31 2.15L-0.61 2.06L-0.89 1.89L-1.14 1.68L-1.36 1.41L-1.54 1.09L-1.67 0.75L-1.75 0.38L-1.77 0.00L-1.75 -0.38L-1.67 -0.75L-1.54 -1.09L-1.36 -1.41L-1.14 -1.68L-0.89 -1.89L-0.61 -2.06L-0.31 -2.15L-0.00 -2.19L0.31 -2.15L0.61 -2.06L0.89 -1.89L1.14 -1.68L1.36 -1.41L1.54 -1.09L1.67 -0.75L1.75 -0.38Z" fill="none" stroke="#b4b4b4" stroke-width="0.45"/><ellipse cy="-0.00" rx="1.55" ry="1.72" fill="#fafafa"/></g>
<path d="M50.7 247.1h-3.0M50.7 240.8h-1.9M50.7 237.1h-1.9M50.7 234.5h-1.9M50.7 232.4h-1.9M50.7 230.8h-1.9M50.7 229.4h-1.9M50.7 228.1h-1.9M50.7 227.1h-1.9M50.7 270.9h-3.0M50.7 263.7h-1.9M50.7 259.5h-1.9M50.7 256.6h-1.9M50.7 254.3h-1.9M50.7 252.4h-1.9M50.7 250.8h-1.9M50.7 249.4h-1.9M50.7 248.2h-1.9M50.7 226.1h-3.0M50.7 275.9h-1.9M50.7 281.0h-1.9M50.7 286.0h-3.0M50.7 291.0h-1.9M50.7 296.1h-1.9" stroke="#000" stroke-width="1.0"/>
<path d="M84.9 305.3v3.0M91.8 305.3v1.9M95.9 305.3v1.9M98.7 305.3v1.9M101.0 305.3v1.9M102.8 305.3v1.9M104.3 305.3v1.9M105.7 305.3v1.9M106.8 305.3v1.9M107.9 305.3v3.0M114.2 305.3v1.9M117.8 305.3v1.9M120.4 305.3v1.9M122.4 305.3v1.9M124.1 305.3v1.9M125.5 305.3v1.9M126.7 305.3v1.9M127.7 305.3v1.9M128.7 305.3v3.0M54.3 305.3v1.9M59.4 305.3v1.9M64.5 305.3v1.9M69.6 305.3v3.0M74.7 305.3v1.9M79.8 305.3v1.9" stroke="#000" stroke-width="1.0"/>
<line x1="93.40" y1="219.00" x2="93.40" y2="305.30" stroke="#444" stroke-width="0.95"/>
<line x1="50.70" y1="269.40" x2="137.00" y2="269.40" stroke="#444" stroke-width="0.95"/>
<rect x="50.7" y="219.0" width="86.3" height="86.3" fill="none" stroke="#000" stroke-width="1.25"/>
<text x="119.5" y="234.9" font-size="8.8" fill="#1a1a1a" text-anchor="middle" stroke="#1a1a1a" stroke-width="0.12">2.38</text>
<path d="M156.5 247.1h-3.0M156.5 240.8h-1.9M156.5 237.1h-1.9M156.5 234.5h-1.9M156.5 232.4h-1.9M156.5 230.8h-1.9M156.5 229.4h-1.9M156.5 228.1h-1.9M156.5 227.1h-1.9M156.5 270.9h-3.0M156.5 263.7h-1.9M156.5 259.5h-1.9M156.5 256.6h-1.9M156.5 254.3h-1.9M156.5 252.4h-1.9M156.5 250.8h-1.9M156.5 249.4h-1.9M156.5 248.2h-1.9M156.5 226.1h-3.0M156.5 275.9h-1.9M156.5 281.0h-1.9M156.5 286.0h-3.0M156.5 291.0h-1.9M156.5 296.1h-1.9" stroke="#000" stroke-width="1.0"/>
<path d="M190.7 305.5v3.0M197.6 305.5v1.9M201.7 305.5v1.9M204.5 305.5v1.9M206.8 305.5v1.9M208.6 305.5v1.9M210.1 305.5v1.9M211.5 305.5v1.9M212.6 305.5v1.9M213.7 305.5v3.0M220.0 305.5v1.9M223.6 305.5v1.9M226.2 305.5v1.9M228.2 305.5v1.9M229.9 305.5v1.9M231.3 305.5v1.9M232.5 305.5v1.9M233.5 305.5v1.9M234.5 305.5v3.0M160.1 305.5v1.9M165.2 305.5v1.9M170.3 305.5v1.9M175.4 305.5v3.0M180.5 305.5v1.9M185.6 305.5v1.9" stroke="#000" stroke-width="1.0"/>
<line x1="198.80" y1="219.30" x2="198.80" y2="305.50" stroke="#444" stroke-width="0.95"/>
<line x1="156.50" y1="269.40" x2="243.00" y2="269.40" stroke="#444" stroke-width="0.95"/>
<rect x="156.5" y="219.3" width="86.5" height="86.2" fill="none" stroke="#000" stroke-width="1.25"/>
<text x="225.2" y="234.9" font-size="8.8" fill="#1a1a1a" text-anchor="middle" stroke="#1a1a1a" stroke-width="0.12">5.73</text>
<text x="29.9" y="229.7" font-size="8.8" fill="#1a1a1a" textLength="9.1" lengthAdjust="spacingAndGlyphs" stroke="#1a1a1a" stroke-width="0.12">10</text>
<text x="39.4" y="226.4" font-size="6.8" fill="#1a1a1a" textLength="3.5" lengthAdjust="spacingAndGlyphs" stroke="#1a1a1a" stroke-width="0.12">5</text>
<text x="29.9" y="250.9" font-size="8.8" fill="#1a1a1a" textLength="9.1" lengthAdjust="spacingAndGlyphs" stroke="#1a1a1a" stroke-width="0.12">10</text>
<text x="39.4" y="247.6" font-size="6.8" fill="#1a1a1a" textLength="3.5" lengthAdjust="spacingAndGlyphs" stroke="#1a1a1a" stroke-width="0.12">4</text>
<text x="29.9" y="274.6" font-size="8.8" fill="#1a1a1a" textLength="9.1" lengthAdjust="spacingAndGlyphs" stroke="#1a1a1a" stroke-width="0.12">10</text>
<text x="39.4" y="271.3" font-size="6.8" fill="#1a1a1a" textLength="3.5" lengthAdjust="spacingAndGlyphs" stroke="#1a1a1a" stroke-width="0.12">3</text>
<text x="38.5" y="288.7" font-size="8.8" fill="#1a1a1a" textLength="4.3" lengthAdjust="spacingAndGlyphs" stroke="#1a1a1a" stroke-width="0.12">0</text>
<text x="67.5" y="321.2" font-size="8.8" fill="#1a1a1a" textLength="4.2" lengthAdjust="spacingAndGlyphs" stroke="#1a1a1a" stroke-width="0.12">0</text>
<text x="78.5" y="321.2" font-size="8.8" fill="#1a1a1a" textLength="9.2" lengthAdjust="spacingAndGlyphs" stroke="#1a1a1a" stroke-width="0.12">10</text>
<text x="88.1" y="317.8" font-size="6.8" fill="#1a1a1a" textLength="3.8" lengthAdjust="spacingAndGlyphs" stroke="#1a1a1a" stroke-width="0.12">3</text>
<text x="101.5" y="321.2" font-size="8.8" fill="#1a1a1a" textLength="9.2" lengthAdjust="spacingAndGlyphs" stroke="#1a1a1a" stroke-width="0.12">10</text>
<text x="111.1" y="317.8" font-size="6.8" fill="#1a1a1a" textLength="3.8" lengthAdjust="spacingAndGlyphs" stroke="#1a1a1a" stroke-width="0.12">4</text>
<text x="122.3" y="321.2" font-size="8.8" fill="#1a1a1a" textLength="9.2" lengthAdjust="spacingAndGlyphs" stroke="#1a1a1a" stroke-width="0.12">10</text>
<text x="131.9" y="317.8" font-size="6.8" fill="#1a1a1a" textLength="3.8" lengthAdjust="spacingAndGlyphs" stroke="#1a1a1a" stroke-width="0.12">5</text>
<line x1="19.50" y1="223.00" x2="19.50" y2="265.50" stroke="#111" stroke-width="1.2"/>
<path d="M19.5 220.0l-2.9 6.2l2.9 -1.3l2.9 1.3z" fill="#000"/>
<text x="23.0" y="287.1" font-size="10.2" fill="#222" text-anchor="middle" textLength="37.4" lengthAdjust="spacingAndGlyphs" transform="rotate(-90 23.0 287.1)" stroke="#222" stroke-width="0.12">TNF-α-PE</text>
<text x="51.0" y="336.5" font-size="10.2" fill="#111" textLength="38.4" lengthAdjust="spacingAndGlyphs" stroke="#111" stroke-width="0.12">IFN-γ-FITC</text>
<line x1="93.50" y1="333.00" x2="240.00" y2="333.00" stroke="#111" stroke-width="1.2"/>
<path d="M243.0 333.0l-6.2 -2.9l1.3 2.9l-1.3 2.9z" fill="#000"/>
<text x="402.6" y="195.7" font-size="9.0" fill="#111" textLength="26.9" lengthAdjust="spacingAndGlyphs" stroke="#111" stroke-width="0.12">BMNK</text>
<line x1="320.30" y1="201.50" x2="512.00" y2="201.50" stroke="#222" stroke-width="1.2"/>
<text x="346.8" y="212.8" font-size="8.8" fill="#e0333f" textLength="32.6" lengthAdjust="spacingAndGlyphs" stroke="#e0333f" stroke-width="0.12">Relapse</text>
<text x="444.6" y="212.9" font-size="9.0" fill="#50589c" textLength="48.3" lengthAdjust="spacingAndGlyphs" stroke="#50589c" stroke-width="0.12">No Relapse</text>
<path d="M350.3 249.9h0.6M352.4 249.6h0.6M344.1 263.4h0.6M347.6 259.5h0.6M346.9 257.2h0.6M346.0 271.7h0.6M350.3 256.0h0.6M349.6 263.5h0.6M346.2 258.4h0.6M348.7 252.6h0.6M345.3 255.4h0.6M346.9 253.8h0.6M341.2 257.6h0.6M350.3 257.6h0.6M354.0 263.7h0.6M346.8 251.8h0.6M349.7 254.1h0.6M342.4 257.9h0.6M347.0 255.2h0.6M350.1 258.5h0.6M355.1 251.3h0.6M347.7 259.4h0.6M346.5 253.0h0.6M354.1 245.8h0.6M349.2 243.4h0.6M349.2 242.1h0.6M343.9 265.8h0.6M353.4 258.0h0.6M338.5 264.8h0.6M348.8 248.4h0.6M346.8 246.8h0.6M347.7 256.3h0.6M348.4 263.1h0.6M345.7 239.9h0.6M343.9 247.3h0.6M346.7 253.6h0.6M347.8 267.6h0.6M348.1 248.7h0.6M346.9 250.2h0.6M347.2 261.5h0.6M344.0 262.4h0.6M354.2 268.7h0.6M353.7 257.7h0.6M343.3 272.5h0.6M347.8 258.8h0.6M346.8 249.7h0.6M350.2 246.2h0.6M343.2 261.3h0.6M346.7 250.5h0.6M349.7 268.0h0.6M347.0 255.9h0.6M350.0 264.2h0.6M351.6 262.2h0.6M345.7 261.1h0.6M348.0 243.9h0.6M352.3 261.4h0.6M352.8 256.5h0.6M350.5 256.4h0.6M348.6 264.0h0.6M348.2 261.7h0.6M347.9 266.4h0.6M350.3 244.3h0.6M353.8 260.4h0.6M346.2 252.2h0.6M354.9 257.7h0.6M349.8 261.6h0.6M345.9 270.5h0.6M355.3 251.0h0.6M352.0 244.5h0.6M346.8 257.5h0.6M348.2 261.4h0.6M349.4 259.9h0.6M347.5 259.3h0.6M346.1 272.1h0.6M348.2 266.5h0.6M348.4 255.9h0.6M347.4 247.1h0.6M355.2 260.2h0.6M348.5 253.4h0.6M352.5 254.5h0.6M371.3 278.4h0.6M383.2 280.9h0.6M373.1 278.2h0.6M381.7 280.8h0.6M372.0 282.6h0.6M379.2 277.1h0.6M380.9 283.1h0.6M372.6 276.2h0.6M380.5 279.0h0.6M372.8 279.2h0.6M372.4 282.4h0.6M367.5 281.5h0.6M380.9 283.0h0.6M378.3 280.8h0.6M372.9 279.7h0.6M368.8 284.8h0.6M373.3 277.1h0.6M379.0 284.3h0.6M375.7 279.1h0.6M367.4 281.9h0.6M372.6 278.1h0.6M377.6 276.3h0.6M378.4 273.0h0.6M370.4 275.9h0.6M372.6 282.3h0.6M366.3 283.9h0.6M370.0 278.6h0.6M379.9 277.9h0.6M382.7 279.4h0.6M373.5 277.3h0.6M380.8 279.8h0.6M371.2 277.3h0.6M370.3 279.7h0.6M369.8 282.3h0.6M373.8 278.2h0.6M376.8 284.1h0.6M361.8 281.0h0.6M380.4 280.4h0.6M378.9 275.6h0.6M369.6 282.9h0.6M373.5 280.2h0.6M377.8 281.1h0.6M376.7 278.6h0.6M372.3 283.7h0.6M371.2 275.9h0.6M372.0 282.6h0.6M384.6 280.4h0.6M370.4 281.7h0.6M375.9 283.4h0.6M377.1 282.2h0.6M377.1 281.2h0.6M368.7 279.5h0.6M383.5 283.8h0.6M379.8 281.1h0.6M373.4 281.0h0.6M372.2 283.1h0.6M372.3 277.8h0.6M364.6 284.4h0.6M369.7 277.6h0.6M376.5 285.1h0.6M351.4 276.5h0.6M350.6 272.8h0.6M344.2 279.2h0.6M346.3 284.9h0.6M350.4 293.3h0.6M352.7 276.9h0.6M348.2 272.6h0.6M341.4 276.4h0.6M354.1 273.8h0.6M334.0 271.4h0.6M336.8 277.6h0.6M343.8 270.2h0.6M340.0 275.9h0.6M349.3 283.7h0.6M356.5 277.1h0.6M351.1 279.6h0.6M337.7 274.2h0.6M363.3 277.8h0.6M359.1 285.3h0.6M359.2 277.6h0.6M353.5 276.7h0.6M337.6 270.2h0.6M349.7 266.8h0.6M349.1 272.4h0.6M349.0 268.6h0.6M352.9 277.3h0.6M334.4 268.1h0.6M346.8 266.7h0.6M348.8 282.7h0.6M341.2 289.6h0.6M357.5 281.4h0.6M349.8 282.6h0.6M344.3 288.9h0.6M342.1 260.0h0.6M346.5 282.4h0.6M352.7 270.7h0.6M357.1 272.8h0.6M351.2 284.5h0.6M347.7 287.6h0.6M342.5 294.5h0.6M350.1 275.8h0.6M366.5 279.0h0.6M333.8 289.7h0.6M358.3 274.7h0.6M338.7 287.5h0.6M346.8 271.8h0.6M342.6 279.5h0.6M353.9 290.9h0.6M341.5 290.6h0.6M334.6 284.4h0.6M345.2 282.3h0.6M342.9 273.6h0.6M348.5 287.6h0.6M329.2 279.4h0.6M343.2 270.9h0.6M335.9 282.9h0.6M350.6 283.9h0.6M330.9 267.5h0.6M341.6 275.7h0.6M360.0 276.1h0.6" stroke="#888" stroke-width="0.6" fill="none" stroke-opacity="0.7"/>
<g transform="translate(345.9 279.4) rotate(0)"><path d="M7.20 0.00L7.28 1.49L7.11 2.94L6.70 4.30L6.05 5.53L5.16 6.59L4.07 7.45L2.81 8.08L1.43 8.47L0.00 8.60L-1.43 8.47L-2.81 8.08L-4.07 7.45L-5.16 6.59L-6.05 5.53L-6.70 4.30L-7.11 2.94L-7.28 1.49L-7.20 0.00L-6.91 -1.49L-6.42 -2.94L-5.77 -4.30L-4.98 -5.53L-4.10 -6.59L-3.13 -7.45L-2.12 -8.08L-1.07 -8.47L-0.00 -8.60L1.07 -8.47L2.12 -8.08L3.13 -7.45L4.10 -6.59L4.98 -5.53L5.77 -4.30L6.42 -2.94L6.91 -1.49Z" fill="#e6e6e6" stroke="#444" stroke-width="0.9"/><path transform="translate(0 0.15)" d="M5.84 0.00L5.90 1.21L5.77 2.39L5.44 3.49L4.91 4.48L4.19 5.34L3.30 6.04L2.28 6.56L1.16 6.87L0.00 6.98L-1.16 6.87L-2.28 6.56L-3.30 6.04L-4.19 5.34L-4.91 4.48L-5.44 3.49L-5.77 2.39L-5.90 1.21L-5.84 0.00L-5.60 -1.21L-5.21 -2.39L-4.68 -3.49L-4.04 -4.48L-3.32 -5.34L-2.54 -6.04L-1.72 -6.56L-0.86 -6.87L-0.00 -6.98L0.86 -6.87L1.72 -6.56L2.54 -6.04L3.32 -5.34L4.04 -4.48L4.68 -3.49L5.21 -2.39L5.60 -1.21Z" fill="none" stroke="#909090" stroke-width="0.45"/><path transform="translate(0 0.29)" d="M4.48 0.00L4.53 0.93L4.43 1.83L4.17 2.68L3.77 3.44L3.21 4.10L2.53 4.64L1.75 5.03L0.89 5.27L0.00 5.35L-0.89 5.27L-1.75 5.03L-2.53 4.64L-3.21 4.10L-3.77 3.44L-4.17 2.68L-4.43 1.83L-4.53 0.93L-4.48 0.00L-4.30 -0.93L-4.00 -1.83L-3.59 -2.68L-3.10 -3.44L-2.55 -4.10L-1.95 -4.64L-1.32 -5.03L-0.66 -5.27L-0.00 -5.35L0.66 -5.27L1.32 -5.03L1.95 -4.64L2.55 -4.10L3.10 -3.44L3.59 -2.68L4.00 -1.83L4.30 -0.93Z" fill="none" stroke="#909090" stroke-width="0.45"/><path transform="translate(0 0.44)" d="M3.12 0.00L3.16 0.65L3.09 1.28L2.91 1.87L2.62 2.40L2.24 2.86L1.77 3.23L1.22 3.51L0.62 3.68L0.00 3.73L-0.62 3.68L-1.22 3.51L-1.77 3.23L-2.24 2.86L-2.62 2.40L-2.91 1.87L-3.09 1.28L-3.16 0.65L-3.12 0.00L-3.00 -0.65L-2.79 -1.28L-2.50 -1.87L-2.16 -2.40L-1.78 -2.86L-1.36 -3.23L-0.92 -3.51L-0.46 -3.68L-0.00 -3.73L0.46 -3.68L0.92 -3.51L1.36 -3.23L1.78 -2.86L2.16 -2.40L2.50 -1.87L2.79 -1.28L3.00 -0.65Z" fill="none" stroke="#909090" stroke-width="0.45"/><path transform="translate(0 0.58)" d="M1.77 0.00L1.78 0.37L1.74 0.72L1.64 1.05L1.48 1.36L1.27 1.62L1.00 1.83L0.69 1.98L0.35 2.08L0.00 2.11L-0.35 2.08L-0.69 1.98L-1.00 1.83L-1.27 1.62L-1.48 1.36L-1.64 1.05L-1.74 0.72L-1.78 0.37L-1.77 0.00L-1.69 -0.37L-1.57 -0.72L-1.41 -1.05L-1.22 -1.36L-1.00 -1.62L-0.77 -1.83L-0.52 -1.98L-0.26 -2.08L-0.00 -2.11L0.26 -2.08L0.52 -1.98L0.77 -1.83L1.00 -1.62L1.22 -1.36L1.41 -1.05L1.57 -0.72L1.69 -0.37Z" fill="none" stroke="#909090" stroke-width="0.45"/><ellipse cy="0.64" rx="1.30" ry="1.39" fill="#fafafa"/></g>
<path d="M456.0 267.7h0.6M464.9 264.1h0.6M457.2 273.0h0.6M452.9 251.8h0.6M450.9 260.2h0.6M462.9 263.8h0.6M462.2 262.6h0.6M455.5 258.7h0.6M448.1 264.9h0.6M457.4 265.3h0.6M452.2 259.6h0.6M457.4 265.5h0.6M466.8 257.1h0.6M461.0 267.0h0.6M453.7 262.8h0.6M454.9 270.7h0.6M470.0 263.8h0.6M453.8 267.4h0.6M458.1 261.0h0.6M459.6 267.0h0.6M453.0 266.8h0.6M442.2 254.7h0.6M453.5 262.9h0.6M446.8 270.4h0.6M453.1 262.9h0.6M455.0 266.3h0.6M451.9 266.2h0.6M450.4 253.6h0.6M458.2 262.9h0.6M460.4 251.0h0.6M455.9 258.4h0.6M454.2 259.8h0.6M453.1 258.2h0.6M461.2 252.2h0.6M445.6 264.0h0.6M466.9 257.7h0.6M450.0 255.4h0.6M449.3 269.1h0.6M459.2 267.1h0.6M457.3 263.3h0.6M451.9 256.5h0.6M458.9 276.1h0.6M453.1 269.2h0.6M451.2 262.2h0.6M465.1 261.6h0.6M458.9 258.8h0.6M466.2 255.0h0.6M458.5 260.7h0.6M456.4 264.1h0.6M462.9 267.0h0.6M461.4 264.1h0.6M449.1 269.7h0.6M464.2 264.8h0.6M459.9 260.7h0.6M446.9 267.6h0.6M451.0 272.9h0.6M459.3 261.9h0.6M451.7 262.6h0.6M449.4 259.9h0.6M464.5 260.3h0.6M465.9 261.5h0.6M457.7 256.7h0.6M453.5 259.5h0.6M447.2 273.0h0.6M458.7 261.5h0.6M448.9 262.2h0.6M449.1 256.5h0.6M454.2 274.3h0.6M445.1 265.2h0.6M452.1 245.5h0.6M447.0 261.2h0.6M455.6 257.7h0.6M465.6 265.1h0.6M451.6 252.6h0.6M456.2 258.2h0.6M461.2 256.0h0.6M462.2 259.4h0.6M456.4 260.5h0.6M458.9 268.6h0.6M452.1 256.9h0.6M466.2 267.5h0.6M466.3 267.5h0.6M456.0 271.3h0.6M451.3 259.6h0.6M452.9 265.9h0.6M450.3 261.0h0.6M450.3 260.7h0.6M461.7 268.4h0.6M453.9 276.6h0.6M451.1 264.6h0.6M452.4 249.3h0.6M448.3 269.1h0.6M445.6 278.7h0.6M454.5 263.6h0.6M462.5 262.2h0.6M451.5 258.5h0.6M449.7 265.2h0.6M452.5 264.9h0.6M446.5 259.5h0.6M467.2 264.1h0.6M454.6 268.8h0.6M456.8 270.8h0.6M448.4 266.4h0.6M449.0 265.9h0.6M469.5 270.8h0.6M450.2 264.4h0.6M457.9 257.9h0.6M456.6 255.9h0.6M460.8 267.2h0.6M454.2 266.0h0.6M469.1 261.1h0.6M444.3 263.9h0.6M452.5 257.5h0.6M460.4 267.8h0.6M458.7 271.4h0.6M451.5 259.6h0.6M457.6 246.5h0.6M439.2 264.0h0.6M453.9 262.3h0.6M449.6 263.3h0.6M461.3 258.4h0.6M458.5 261.1h0.6M454.2 262.7h0.6M464.0 265.0h0.6M459.2 262.9h0.6M442.6 267.4h0.6M455.0 262.6h0.6M452.2 253.2h0.6M463.9 272.5h0.6M464.3 251.5h0.6M458.4 255.2h0.6M454.1 259.1h0.6M451.5 257.6h0.6M452.3 266.5h0.6M464.6 267.3h0.6M455.1 261.2h0.6M453.7 261.9h0.6M451.5 261.0h0.6M460.1 260.7h0.6M450.4 261.3h0.6M455.6 261.6h0.6M453.6 266.1h0.6M454.9 256.2h0.6M458.5 257.9h0.6M459.6 266.7h0.6M458.0 263.8h0.6M447.2 260.9h0.6M455.9 265.7h0.6M448.5 261.1h0.6M446.1 263.0h0.6M455.6 262.7h0.6M464.8 266.2h0.6M454.0 258.7h0.6M452.5 266.5h0.6M460.5 259.1h0.6M454.4 259.5h0.6M459.1 263.1h0.6M450.9 256.9h0.6M462.7 254.0h0.6M444.5 244.4h0.6M467.0 258.9h0.6M460.1 265.2h0.6M460.0 268.5h0.6M452.4 261.9h0.6M460.9 265.2h0.6M450.7 257.7h0.6M446.6 263.5h0.6M452.0 253.1h0.6M451.8 263.9h0.6M456.2 260.7h0.6M456.1 265.8h0.6M448.1 257.3h0.6M460.8 266.2h0.6M446.9 257.9h0.6M463.6 266.3h0.6M454.3 267.9h0.6M463.2 270.1h0.6M446.9 254.6h0.6M452.1 261.7h0.6M453.0 263.4h0.6M463.8 268.3h0.6M461.0 262.0h0.6M464.9 264.6h0.6M456.5 261.9h0.6M444.3 274.4h0.6M455.0 267.2h0.6M468.5 260.9h0.6M448.2 267.9h0.6M456.5 256.6h0.6M460.8 262.1h0.6M449.5 247.5h0.6M449.2 264.2h0.6M449.0 267.6h0.6M468.1 263.8h0.6M456.4 261.6h0.6M460.2 262.2h0.6M461.3 270.2h0.6M460.2 256.5h0.6M459.1 260.5h0.6M457.0 267.6h0.6M451.2 263.2h0.6M463.8 257.2h0.6M454.0 266.2h0.6M453.7 267.9h0.6M449.1 253.4h0.6M457.3 261.2h0.6M457.0 267.5h0.6M461.3 260.0h0.6M452.8 250.9h0.6M449.3 263.4h0.6M456.4 253.5h0.6M459.8 261.8h0.6M461.6 260.0h0.6M460.8 255.7h0.6M444.1 257.4h0.6M459.3 264.4h0.6M443.9 262.9h0.6M459.1 271.6h0.6M459.7 264.9h0.6M445.7 264.1h0.6M464.6 266.1h0.6M477.2 261.6h0.6M472.1 267.1h0.6M484.7 263.7h0.6M482.5 272.8h0.6M480.0 280.7h0.6M477.7 263.2h0.6M465.1 275.2h0.6M485.5 266.8h0.6M482.6 267.2h0.6M487.0 267.9h0.6M481.9 267.5h0.6M473.1 253.3h0.6M484.4 259.7h0.6M483.3 272.3h0.6M495.0 263.1h0.6M481.3 274.3h0.6M474.8 264.1h0.6M483.7 281.7h0.6M488.7 274.4h0.6M472.5 272.4h0.6M489.2 259.6h0.6M480.2 266.7h0.6M485.2 256.5h0.6M485.7 268.0h0.6M478.0 254.0h0.6M463.7 264.4h0.6M485.3 270.8h0.6M486.1 256.8h0.6M481.7 277.0h0.6M467.9 272.3h0.6M474.4 271.7h0.6M480.9 257.2h0.6M471.8 276.5h0.6M479.3 276.2h0.6M482.8 273.9h0.6M477.0 269.5h0.6M477.2 274.0h0.6M475.6 275.4h0.6M492.6 260.0h0.6M478.8 271.6h0.6M494.2 275.6h0.6M480.8 256.6h0.6M486.8 264.1h0.6M481.7 270.7h0.6M469.0 275.1h0.6M487.4 271.8h0.6M484.8 270.4h0.6M469.1 264.7h0.6M486.6 265.8h0.6M480.3 270.5h0.6M480.8 269.7h0.6M484.0 268.0h0.6M471.4 266.2h0.6M487.7 263.5h0.6M483.8 270.0h0.6M473.1 249.3h0.6M480.0 262.9h0.6M475.2 274.2h0.6M474.0 270.3h0.6M481.0 269.3h0.6M495.9 255.0h0.6M487.7 267.1h0.6M477.9 263.6h0.6M480.4 268.3h0.6M472.9 278.8h0.6M474.2 267.1h0.6M470.1 269.0h0.6M482.9 275.2h0.6M487.9 264.7h0.6M492.8 267.3h0.6M492.4 279.3h0.6M476.9 260.9h0.6M484.4 277.5h0.6M483.3 275.2h0.6M484.8 273.9h0.6M490.6 266.1h0.6M468.9 267.2h0.6M473.9 260.1h0.6M478.8 272.7h0.6M465.5 258.0h0.6M486.4 262.2h0.6M477.0 276.9h0.6M489.0 270.4h0.6M484.4 250.1h0.6M484.5 270.5h0.6M469.1 269.2h0.6M483.7 267.2h0.6M486.4 273.8h0.6M480.5 266.4h0.6M470.8 275.5h0.6M475.6 270.1h0.6M492.2 273.1h0.6M470.1 267.4h0.6M474.5 257.2h0.6M473.8 271.9h0.6M482.8 266.6h0.6M481.5 260.3h0.6M474.1 266.9h0.6M486.4 265.9h0.6M478.8 270.2h0.6M491.7 259.7h0.6M484.3 269.2h0.6M479.5 269.6h0.6M464.5 268.2h0.6M478.2 259.9h0.6M486.8 267.2h0.6M477.4 273.0h0.6M472.8 263.3h0.6M486.6 273.8h0.6M469.0 277.8h0.6M434.8 270.5h0.6M437.3 281.8h0.6M446.8 276.3h0.6M439.2 276.1h0.6M445.5 289.4h0.6M455.3 290.7h0.6M457.2 286.4h0.6M460.7 284.2h0.6M464.3 289.0h0.6M467.0 282.5h0.6M441.5 298.8h0.6M446.3 284.7h0.6M445.4 276.1h0.6M453.4 273.1h0.6M447.5 291.0h0.6M450.3 286.8h0.6M455.4 283.7h0.6M450.1 285.3h0.6M439.6 285.1h0.6M438.5 275.7h0.6M443.3 271.6h0.6M429.7 283.7h0.6M454.1 285.7h0.6M470.9 282.2h0.6M456.5 275.7h0.6M456.1 273.0h0.6M468.5 274.2h0.6M445.0 286.3h0.6M427.4 290.5h0.6M439.7 282.4h0.6M458.7 282.1h0.6M458.3 277.5h0.6M454.9 265.6h0.6M464.0 276.3h0.6M440.6 281.1h0.6M465.8 276.0h0.6M448.9 278.5h0.6M439.9 271.8h0.6M454.9 286.0h0.6M441.7 282.6h0.6M453.5 283.7h0.6M447.4 281.3h0.6M451.8 273.5h0.6M447.6 286.6h0.6M443.5 290.3h0.6M446.7 273.2h0.6M446.2 271.5h0.6M455.1 269.8h0.6M449.2 279.3h0.6M446.1 284.0h0.6M451.9 277.1h0.6M457.1 277.8h0.6M457.9 290.5h0.6M452.8 287.5h0.6M435.9 285.0h0.6M434.3 279.8h0.6M455.9 262.1h0.6M441.4 275.6h0.6M439.8 281.2h0.6M455.3 272.8h0.6M442.9 267.9h0.6M442.1 266.2h0.6M434.2 284.3h0.6M457.7 275.3h0.6M452.5 275.5h0.6M459.6 293.3h0.6M442.7 277.6h0.6M464.4 292.1h0.6M448.9 285.5h0.6M433.3 278.9h0.6M446.2 279.9h0.6M452.0 270.0h0.6M438.7 296.1h0.6M431.9 281.4h0.6M456.2 284.5h0.6M449.6 269.6h0.6M444.4 270.0h0.6M468.4 283.5h0.6M456.2 282.4h0.6M445.2 289.3h0.6M457.7 285.5h0.6M454.8 286.2h0.6M446.3 284.1h0.6M449.8 279.2h0.6M455.4 296.1h0.6M429.0 291.2h0.6M444.7 289.5h0.6M439.0 279.7h0.6M459.1 280.5h0.6M452.5 272.5h0.6M437.7 292.8h0.6M450.6 280.4h0.6M435.4 273.7h0.6M438.8 280.7h0.6M447.9 276.7h0.6M442.4 281.8h0.6M460.6 271.1h0.6M435.0 289.0h0.6M434.9 278.1h0.6M450.2 293.9h0.6M428.9 260.5h0.6M448.2 288.6h0.6M450.4 275.3h0.6M450.9 266.5h0.6M457.1 291.5h0.6M447.0 286.8h0.6M438.6 291.4h0.6M442.6 275.4h0.6M441.5 268.5h0.6M455.6 295.2h0.6M434.9 279.6h0.6M453.4 277.0h0.6M433.6 283.4h0.6M458.9 281.7h0.6M438.5 278.9h0.6M430.0 280.6h0.6M461.0 288.9h0.6M448.2 284.1h0.6M443.9 281.9h0.6M470.1 283.4h0.6M470.9 283.5h0.6M482.9 283.0h0.6M463.2 284.2h0.6M473.6 281.8h0.6M481.6 281.0h0.6M485.2 284.4h0.6M469.2 281.3h0.6M474.8 280.8h0.6M485.3 277.5h0.6M477.5 282.1h0.6M465.2 284.5h0.6M471.2 284.1h0.6M471.7 282.3h0.6M481.2 285.3h0.6M485.8 282.9h0.6M490.6 282.2h0.6M462.6 278.4h0.6M461.8 280.9h0.6M458.5 283.8h0.6M476.3 282.9h0.6M478.3 282.7h0.6M473.5 282.2h0.6M476.4 280.2h0.6M488.6 286.8h0.6M476.3 288.6h0.6M466.5 285.2h0.6M460.1 284.5h0.6M468.7 285.5h0.6M477.1 285.3h0.6M482.0 284.3h0.6M473.3 286.9h0.6M479.5 284.2h0.6M490.1 282.4h0.6M493.2 285.7h0.6M476.8 279.4h0.6M488.0 282.2h0.6M477.0 283.3h0.6M485.4 284.6h0.6M458.1 281.4h0.6M479.5 283.4h0.6M483.8 284.4h0.6M492.0 281.2h0.6M488.9 283.9h0.6M479.0 284.7h0.6M472.7 284.8h0.6M474.0 284.8h0.6M468.6 285.9h0.6M461.1 281.4h0.6M475.6 283.6h0.6M468.2 282.0h0.6M478.6 285.6h0.6M488.8 281.8h0.6M475.4 282.2h0.6M461.1 281.9h0.6M487.2 279.7h0.6M504.1 285.4h0.6M493.1 283.5h0.6M453.4 284.1h0.6M491.7 281.6h0.6M488.5 284.9h0.6M483.8 284.8h0.6M481.8 284.6h0.6M487.8 284.0h0.6M482.3 284.1h0.6M477.4 280.9h0.6M458.4 280.5h0.6M463.9 279.4h0.6M482.8 282.2h0.6M488.5 290.7h0.6M483.7 281.9h0.6M479.8 282.5h0.6M478.9 288.1h0.6M491.8 286.2h0.6M478.9 287.4h0.6M484.2 285.2h0.6M464.6 281.5h0.6M477.7 282.5h0.6M471.0 278.1h0.6M468.7 282.7h0.6M479.1 280.4h0.6M474.8 287.5h0.6M477.6 278.2h0.6M474.3 283.0h0.6M488.5 283.5h0.6M489.6 283.8h0.6M487.6 286.3h0.6M491.2 283.5h0.6M482.4 292.7h0.6M464.1 283.5h0.6M480.8 281.3h0.6M484.2 282.6h0.6M483.9 283.5h0.6M466.9 285.6h0.6M495.8 285.3h0.6M478.9 278.8h0.6M479.3 282.9h0.6M468.3 278.3h0.6M480.5 285.4h0.6M483.1 288.6h0.6M457.5 283.9h0.6M475.8 286.5h0.6M475.8 280.6h0.6M475.5 284.1h0.6M468.9 281.1h0.6M478.7 285.2h0.6M473.8 284.2h0.6M471.2 282.2h0.6M478.0 285.4h0.6M491.7 282.7h0.6M480.5 287.9h0.6M484.3 282.1h0.6M480.1 279.5h0.6M455.6 281.1h0.6M469.1 279.7h0.6M486.2 281.9h0.6M477.0 283.2h0.6M474.1 280.1h0.6M495.1 278.1h0.6M475.8 284.7h0.6M474.1 282.8h0.6M479.2 283.6h0.6M472.8 285.7h0.6M481.1 286.7h0.6M477.0 278.1h0.6M460.0 281.7h0.6M480.6 279.0h0.6M470.6 286.1h0.6M479.4 281.3h0.6M475.1 283.3h0.6M472.0 282.2h0.6M469.9 283.6h0.6M491.6 286.6h0.6M464.0 288.8h0.6M475.0 279.5h0.6M461.6 283.4h0.6M478.4 281.4h0.6M468.3 282.5h0.6M478.7 284.7h0.6M481.6 277.1h0.6M470.4 283.7h0.6M479.8 285.0h0.6M461.6 286.9h0.6M464.5 282.5h0.6M471.6 281.8h0.6M468.6 285.0h0.6M483.8 283.9h0.6M463.8 281.5h0.6M475.6 284.0h0.6M470.8 282.4h0.6M501.7 283.2h0.6M473.3 276.9h0.6M468.8 287.1h0.6M484.4 280.1h0.6M483.8 283.4h0.6M468.4 285.0h0.6M470.2 282.3h0.6M476.4 283.5h0.6M471.9 283.8h0.6M476.2 283.5h0.6" stroke="#333" stroke-width="0.6" fill="none" stroke-opacity="0.75"/>
<g transform="translate(476.0 283.0) rotate(0)"><path d="M15.00 0.00L14.77 0.49L14.10 0.96L12.99 1.40L11.49 1.80L9.64 2.14L7.50 2.42L5.13 2.63L2.60 2.76L0.00 2.80L-2.60 2.76L-5.13 2.63L-7.50 2.42L-9.64 2.14L-11.49 1.80L-12.99 1.40L-14.10 0.96L-14.77 0.49L-15.00 0.00L-14.77 -0.49L-14.10 -0.96L-12.99 -1.40L-11.49 -1.80L-9.64 -2.14L-7.50 -2.42L-5.13 -2.63L-2.60 -2.76L-0.00 -2.80L2.60 -2.76L5.13 -2.63L7.50 -2.42L9.64 -2.14L11.49 -1.80L12.99 -1.40L14.10 -0.96L14.77 -0.49Z" fill="#f0f0f0" stroke="#222" stroke-width="1.0"/><path transform="translate(0 -0.00)" d="M10.45 0.00L10.30 0.34L9.82 0.67L9.05 0.98L8.01 1.25L6.72 1.49L5.23 1.69L3.58 1.83L1.82 1.92L0.00 1.95L-1.82 1.92L-3.58 1.83L-5.23 1.69L-6.72 1.49L-8.01 1.25L-9.05 0.98L-9.82 0.67L-10.30 0.34L-10.45 0.00L-10.30 -0.34L-9.82 -0.67L-9.05 -0.98L-8.01 -1.25L-6.72 -1.49L-5.23 -1.69L-3.58 -1.83L-1.82 -1.92L-0.00 -1.95L1.82 -1.92L3.58 -1.83L5.23 -1.69L6.72 -1.49L8.01 -1.25L9.05 -0.98L9.82 -0.67L10.30 -0.34Z" fill="none" stroke="#444" stroke-width="0.45"/><path transform="translate(0 -0.00)" d="M5.91 0.00L5.82 0.19L5.55 0.38L5.12 0.55L4.53 0.71L3.80 0.84L2.95 0.96L2.02 1.04L1.03 1.09L0.00 1.10L-1.03 1.09L-2.02 1.04L-2.95 0.96L-3.80 0.84L-4.53 0.71L-5.12 0.55L-5.55 0.38L-5.82 0.19L-5.91 0.00L-5.82 -0.19L-5.55 -0.38L-5.12 -0.55L-4.53 -0.71L-3.80 -0.84L-2.95 -0.96L-2.02 -1.04L-1.03 -1.09L-0.00 -1.10L1.03 -1.09L2.02 -1.04L2.95 -0.96L3.80 -0.84L4.53 -0.71L5.12 -0.55L5.55 -0.38L5.82 -0.19Z" fill="none" stroke="#444" stroke-width="0.45"/></g>
<g transform="translate(452.3 282.3) rotate(0)"><path d="M9.40 0.00L9.26 1.28L8.83 2.53L8.14 3.70L7.20 4.76L6.04 5.67L4.70 6.41L3.21 6.95L1.63 7.29L0.00 7.40L-1.63 7.29L-3.21 6.95L-4.70 6.41L-6.04 5.67L-7.20 4.76L-8.14 3.70L-8.83 2.53L-9.26 1.28L-9.40 0.00L-9.26 -1.28L-8.83 -2.53L-8.14 -3.70L-7.20 -4.76L-6.04 -5.67L-4.70 -6.41L-3.21 -6.95L-1.63 -7.29L-0.00 -7.40L1.63 -7.29L3.21 -6.95L4.70 -6.41L6.04 -5.67L7.20 -4.76L8.14 -3.70L8.83 -2.53L9.26 -1.28Z" fill="#e6e6e6" stroke="#222" stroke-width="1.0"/><path transform="translate(0 -0.00)" d="M7.91 0.00L7.79 1.08L7.43 2.13L6.85 3.11L6.06 4.00L5.08 4.77L3.95 5.39L2.70 5.85L1.37 6.13L0.00 6.23L-1.37 6.13L-2.70 5.85L-3.95 5.39L-5.08 4.77L-6.06 4.00L-6.85 3.11L-7.43 2.13L-7.79 1.08L-7.91 0.00L-7.79 -1.08L-7.43 -2.13L-6.85 -3.11L-6.06 -4.00L-5.08 -4.77L-3.95 -5.39L-2.70 -5.85L-1.37 -6.13L-0.00 -6.23L1.37 -6.13L2.70 -5.85L3.95 -5.39L5.08 -4.77L6.06 -4.00L6.85 -3.11L7.43 -2.13L7.79 -1.08Z" fill="none" stroke="#808080" stroke-width="0.5"/><path transform="translate(0 -0.00)" d="M6.42 0.00L6.32 0.88L6.03 1.73L5.56 2.53L4.91 3.25L4.12 3.87L3.21 4.37L2.19 4.75L1.11 4.97L0.00 5.05L-1.11 4.97L-2.19 4.75L-3.21 4.37L-4.12 3.87L-4.91 3.25L-5.56 2.53L-6.03 1.73L-6.32 0.88L-6.42 0.00L-6.32 -0.88L-6.03 -1.73L-5.56 -2.53L-4.91 -3.25L-4.12 -3.87L-3.21 -4.37L-2.19 -4.75L-1.11 -4.97L-0.00 -5.05L1.11 -4.97L2.19 -4.75L3.21 -4.37L4.12 -3.87L4.91 -3.25L5.56 -2.53L6.03 -1.73L6.32 -0.88Z" fill="none" stroke="#808080" stroke-width="0.5"/><path transform="translate(0 -0.00)" d="M4.92 0.00L4.85 0.67L4.63 1.33L4.26 1.94L3.77 2.49L3.16 2.97L2.46 3.36L1.68 3.64L0.86 3.82L0.00 3.88L-0.86 3.82L-1.68 3.64L-2.46 3.36L-3.16 2.97L-3.77 2.49L-4.26 1.94L-4.63 1.33L-4.85 0.67L-4.92 0.00L-4.85 -0.67L-4.63 -1.33L-4.26 -1.94L-3.77 -2.49L-3.16 -2.97L-2.46 -3.36L-1.68 -3.64L-0.86 -3.82L-0.00 -3.88L0.86 -3.82L1.68 -3.64L2.46 -3.36L3.16 -2.97L3.77 -2.49L4.26 -1.94L4.63 -1.33L4.85 -0.67Z" fill="none" stroke="#808080" stroke-width="0.5"/><path transform="translate(0 -0.00)" d="M3.43 0.00L3.38 0.47L3.22 0.92L2.97 1.35L2.63 1.74L2.21 2.07L1.72 2.34L1.17 2.54L0.60 2.66L0.00 2.70L-0.60 2.66L-1.17 2.54L-1.72 2.34L-2.21 2.07L-2.63 1.74L-2.97 1.35L-3.22 0.92L-3.38 0.47L-3.43 0.00L-3.38 -0.47L-3.22 -0.92L-2.97 -1.35L-2.63 -1.74L-2.21 -2.07L-1.72 -2.34L-1.17 -2.54L-0.60 -2.66L-0.00 -2.70L0.60 -2.66L1.17 -2.54L1.72 -2.34L2.21 -2.07L2.63 -1.74L2.97 -1.35L3.22 -0.92L3.38 -0.47Z" fill="none" stroke="#808080" stroke-width="0.5"/><path transform="translate(0 -0.00)" d="M1.94 0.00L1.91 0.27L1.82 0.52L1.68 0.76L1.49 0.98L1.25 1.17L0.97 1.32L0.66 1.43L0.34 1.50L0.00 1.53L-0.34 1.50L-0.66 1.43L-0.97 1.32L-1.25 1.17L-1.49 0.98L-1.68 0.76L-1.82 0.52L-1.91 0.27L-1.94 0.00L-1.91 -0.27L-1.82 -0.52L-1.68 -0.76L-1.49 -0.98L-1.25 -1.17L-0.97 -1.32L-0.66 -1.43L-0.34 -1.50L-0.00 -1.53L0.34 -1.50L0.66 -1.43L0.97 -1.32L1.25 -1.17L1.49 -0.98L1.68 -0.76L1.82 -0.52L1.91 -0.27Z" fill="none" stroke="#808080" stroke-width="0.5"/><ellipse cy="-0.00" rx="1.69" ry="1.20" fill="#fafafa"/></g>
<path d="M319.6 247.1h-3.0M319.6 240.8h-1.9M319.6 237.1h-1.9M319.6 234.5h-1.9M319.6 232.4h-1.9M319.6 230.8h-1.9M319.6 229.4h-1.9M319.6 228.1h-1.9M319.6 227.1h-1.9M319.6 270.9h-3.0M319.6 263.7h-1.9M319.6 259.5h-1.9M319.6 256.6h-1.9M319.6 254.3h-1.9M319.6 252.4h-1.9M319.6 250.8h-1.9M319.6 249.4h-1.9M319.6 248.2h-1.9M319.6 226.1h-3.0M319.6 275.9h-1.9M319.6 281.0h-1.9M319.6 286.0h-3.0M319.6 291.0h-1.9M319.6 296.1h-1.9" stroke="#000" stroke-width="1.0"/>
<path d="M353.1 304.7v3.0M360.4 304.7v1.9M364.6 304.7v1.9M367.7 304.7v1.9M370.0 304.7v1.9M371.9 304.7v1.9M373.6 304.7v1.9M375.0 304.7v1.9M376.2 304.7v1.9M377.3 304.7v3.0M383.5 304.7v1.9M387.2 304.7v1.9M389.8 304.7v1.9M391.8 304.7v1.9M393.4 304.7v1.9M394.8 304.7v1.9M396.0 304.7v1.9M397.1 304.7v1.9M398.0 304.7v3.0M324.9 304.7v1.9M329.6 304.7v1.9M334.3 304.7v1.9M339.0 304.7v3.0M343.7 304.7v1.9M348.4 304.7v1.9" stroke="#000" stroke-width="1.0"/>
<line x1="361.80" y1="218.80" x2="361.80" y2="304.70" stroke="#444" stroke-width="0.95"/>
<line x1="319.60" y1="267.20" x2="406.70" y2="267.20" stroke="#444" stroke-width="0.95"/>
<rect x="319.6" y="218.8" width="87.1" height="85.9" fill="none" stroke="#000" stroke-width="1.25"/>
<text x="388.6" y="234.7" font-size="8.8" fill="#1a1a1a" text-anchor="middle" stroke="#1a1a1a" stroke-width="0.12">2.35</text>
<path d="M425.4 247.1h-3.0M425.4 240.8h-1.9M425.4 237.1h-1.9M425.4 234.5h-1.9M425.4 232.4h-1.9M425.4 230.8h-1.9M425.4 229.4h-1.9M425.4 228.1h-1.9M425.4 227.1h-1.9M425.4 270.9h-3.0M425.4 263.7h-1.9M425.4 259.5h-1.9M425.4 256.6h-1.9M425.4 254.3h-1.9M425.4 252.4h-1.9M425.4 250.8h-1.9M425.4 249.4h-1.9M425.4 248.2h-1.9M425.4 226.1h-3.0M425.4 275.9h-1.9M425.4 281.0h-1.9M425.4 286.0h-3.0M425.4 291.0h-1.9M425.4 296.1h-1.9" stroke="#000" stroke-width="1.0"/>
<path d="M458.9 304.7v3.0M466.2 304.7v1.9M470.4 304.7v1.9M473.5 304.7v1.9M475.8 304.7v1.9M477.7 304.7v1.9M479.4 304.7v1.9M480.8 304.7v1.9M482.0 304.7v1.9M483.1 304.7v3.0M489.3 304.7v1.9M493.0 304.7v1.9M495.6 304.7v1.9M497.6 304.7v1.9M499.2 304.7v1.9M500.6 304.7v1.9M501.8 304.7v1.9M502.9 304.7v1.9M503.8 304.7v3.0M430.7 304.7v1.9M435.4 304.7v1.9M440.1 304.7v1.9M444.8 304.7v3.0M449.5 304.7v1.9M454.2 304.7v1.9" stroke="#000" stroke-width="1.0"/>
<line x1="467.60" y1="218.80" x2="467.60" y2="304.70" stroke="#444" stroke-width="0.95"/>
<line x1="425.40" y1="267.20" x2="513.00" y2="267.20" stroke="#444" stroke-width="0.95"/>
<rect x="425.4" y="218.8" width="87.6" height="85.9" fill="none" stroke="#000" stroke-width="1.25"/>
<text x="494.3" y="234.7" font-size="8.8" fill="#1a1a1a" text-anchor="middle" stroke="#1a1a1a" stroke-width="0.12">4.66</text>
<text x="299.4" y="229.7" font-size="8.8" fill="#1a1a1a" textLength="9.2" lengthAdjust="spacingAndGlyphs" stroke="#1a1a1a" stroke-width="0.12">10</text>
<text x="309.0" y="226.4" font-size="6.8" fill="#1a1a1a" textLength="3.3" lengthAdjust="spacingAndGlyphs" stroke="#1a1a1a" stroke-width="0.12">5</text>
<text x="299.4" y="250.9" font-size="8.8" fill="#1a1a1a" textLength="9.2" lengthAdjust="spacingAndGlyphs" stroke="#1a1a1a" stroke-width="0.12">10</text>
<text x="309.0" y="247.6" font-size="6.8" fill="#1a1a1a" textLength="3.3" lengthAdjust="spacingAndGlyphs" stroke="#1a1a1a" stroke-width="0.12">4</text>
<text x="299.4" y="274.6" font-size="8.8" fill="#1a1a1a" textLength="9.2" lengthAdjust="spacingAndGlyphs" stroke="#1a1a1a" stroke-width="0.12">10</text>
<text x="309.0" y="271.3" font-size="6.8" fill="#1a1a1a" textLength="3.3" lengthAdjust="spacingAndGlyphs" stroke="#1a1a1a" stroke-width="0.12">3</text>
<text x="307.9" y="288.7" font-size="8.8" fill="#1a1a1a" textLength="4.3" lengthAdjust="spacingAndGlyphs" stroke="#1a1a1a" stroke-width="0.12">0</text>
<text x="336.9" y="320.4" font-size="8.8" fill="#1a1a1a" textLength="4.2" lengthAdjust="spacingAndGlyphs" stroke="#1a1a1a" stroke-width="0.12">0</text>
<text x="346.6" y="320.4" font-size="8.8" fill="#1a1a1a" textLength="9.4" lengthAdjust="spacingAndGlyphs" stroke="#1a1a1a" stroke-width="0.12">10</text>
<text x="356.4" y="317.0" font-size="6.8" fill="#1a1a1a" textLength="3.8" lengthAdjust="spacingAndGlyphs" stroke="#1a1a1a" stroke-width="0.12">3</text>
<text x="370.8" y="320.4" font-size="8.8" fill="#1a1a1a" textLength="9.4" lengthAdjust="spacingAndGlyphs" stroke="#1a1a1a" stroke-width="0.12">10</text>
<text x="380.6" y="317.0" font-size="6.8" fill="#1a1a1a" textLength="3.8" lengthAdjust="spacingAndGlyphs" stroke="#1a1a1a" stroke-width="0.12">4</text>
<text x="391.5" y="320.4" font-size="8.8" fill="#1a1a1a" textLength="9.4" lengthAdjust="spacingAndGlyphs" stroke="#1a1a1a" stroke-width="0.12">10</text>
<text x="401.3" y="317.0" font-size="6.8" fill="#1a1a1a" textLength="3.8" lengthAdjust="spacingAndGlyphs" stroke="#1a1a1a" stroke-width="0.12">5</text>
<line x1="288.80" y1="223.20" x2="288.80" y2="251.40" stroke="#111" stroke-width="1.2"/>
<path d="M288.8 220.2l-2.9 6.2l2.9 -1.3l2.9 1.3z" fill="#000"/>
<text x="292.0" y="281.2" font-size="10.2" fill="#222" text-anchor="middle" textLength="49.3" lengthAdjust="spacingAndGlyphs" transform="rotate(-90 292.0 281.2)" stroke="#222" stroke-width="0.12">CD107a-APC</text>
<text x="320.0" y="337.0" font-size="10.2" fill="#111" textLength="38.5" lengthAdjust="spacingAndGlyphs" stroke="#111" stroke-width="0.12">IFN-γ-FITC</text>
<line x1="362.50" y1="333.40" x2="508.50" y2="333.40" stroke="#111" stroke-width="1.2"/>
<path d="M511.5 333.4l-6.2 -2.9l1.3 2.9l-1.3 2.9z" fill="#000"/>
<text x="133.6" y="383.2" font-size="9.0" fill="#111" textLength="26.8" lengthAdjust="spacingAndGlyphs" stroke="#111" stroke-width="0.12">BMNK</text>
<line x1="51.00" y1="389.10" x2="243.00" y2="389.10" stroke="#222" stroke-width="1.2"/>
<text x="77.7" y="399.9" font-size="8.8" fill="#e0333f" textLength="32.3" lengthAdjust="spacingAndGlyphs" stroke="#e0333f" stroke-width="0.12">Relapse</text>
<text x="175.5" y="399.9" font-size="9.0" fill="#50589c" textLength="47.7" lengthAdjust="spacingAndGlyphs" stroke="#50589c" stroke-width="0.12">No Relapse</text>
<path d="M105.6 430.4h0.6M90.2 439.0h0.6M112.9 445.1h0.6M104.1 428.8h0.6M92.2 421.2h0.6M94.1 434.4h0.6M88.7 438.3h0.6M88.4 450.0h0.6M101.9 413.3h0.6M97.4 443.6h0.6M105.5 451.9h0.6M99.1 437.9h0.6M100.1 448.4h0.6M96.1 437.6h0.6M103.4 434.8h0.6M92.7 460.8h0.6M106.5 426.2h0.6M119.3 428.5h0.6M94.6 434.5h0.6M106.8 462.9h0.6M114.1 448.5h0.6M102.7 450.2h0.6M95.3 429.4h0.6M106.8 443.2h0.6M104.2 424.6h0.6M104.3 418.2h0.6M110.2 440.3h0.6M96.6 433.0h0.6M126.4 487.8h0.6M96.1 460.9h0.6M76.9 457.3h0.6M102.3 444.0h0.6M93.8 420.1h0.6M104.2 433.3h0.6M106.6 456.2h0.6M101.2 448.3h0.6M103.7 443.7h0.6M97.7 443.8h0.6M106.0 441.3h0.6M98.2 417.9h0.6M92.9 463.9h0.6M111.0 444.6h0.6M104.7 437.8h0.6M108.1 454.7h0.6M100.0 444.8h0.6M110.5 416.1h0.6M94.0 431.4h0.6M92.1 433.4h0.6M94.8 434.1h0.6M106.3 422.2h0.6M103.0 461.1h0.6M103.8 421.5h0.6M96.9 457.9h0.6M99.9 430.6h0.6M109.0 429.2h0.6M92.5 449.5h0.6M102.3 430.2h0.6M106.2 456.9h0.6M111.6 441.7h0.6M106.2 447.7h0.6M89.3 465.5h0.6M96.4 431.6h0.6M95.0 425.4h0.6M111.7 440.2h0.6M97.2 412.3h0.6M103.6 439.4h0.6M93.2 438.6h0.6M86.3 450.0h0.6M91.6 447.7h0.6M103.0 407.8h0.6M92.5 430.2h0.6M109.0 449.2h0.6M107.6 465.6h0.6M99.7 432.4h0.6M85.9 424.4h0.6M107.1 427.3h0.6M94.6 454.6h0.6M80.8 461.3h0.6M113.4 412.8h0.6M106.3 440.0h0.6M110.0 435.0h0.6M101.1 461.6h0.6M97.0 446.5h0.6M107.7 438.4h0.6M109.8 448.1h0.6M109.4 414.2h0.6M93.2 444.6h0.6M112.3 462.0h0.6M102.3 428.8h0.6M92.7 410.5h0.6M74.2 456.2h0.6M76.7 417.1h0.6M76.6 446.2h0.6M72.8 472.9h0.6M79.6 466.1h0.6M77.7 426.7h0.6M83.4 466.3h0.6M73.8 419.8h0.6M81.8 434.4h0.6M70.4 443.6h0.6M80.3 430.9h0.6M77.3 464.1h0.6M81.4 415.5h0.6M81.3 479.0h0.6M82.4 443.6h0.6M79.3 415.2h0.6M73.8 435.3h0.6M89.1 445.2h0.6M71.5 477.4h0.6M84.2 413.7h0.6M76.0 413.0h0.6M87.8 425.1h0.6M71.1 485.6h0.6M80.2 451.9h0.6M82.1 426.3h0.6M82.2 439.9h0.6M80.1 449.6h0.6M85.1 420.7h0.6M69.1 457.7h0.6M90.7 455.6h0.6M76.2 458.0h0.6M70.2 446.9h0.6M67.5 447.5h0.6M81.3 477.6h0.6M74.2 463.0h0.6M84.8 425.2h0.6M75.6 409.8h0.6M72.1 453.6h0.6M65.5 439.5h0.6M81.3 472.6h0.6M62.8 452.6h0.6M71.3 456.5h0.6M77.0 458.6h0.6M75.4 457.8h0.6M71.5 426.6h0.6M76.2 411.8h0.6M84.2 440.4h0.6M71.5 428.7h0.6M71.6 447.6h0.6M75.0 461.7h0.6M70.5 443.8h0.6M68.5 436.3h0.6M84.9 442.9h0.6M82.2 444.0h0.6M70.9 428.3h0.6M70.7 451.7h0.6M86.7 461.4h0.6M71.5 447.4h0.6M71.9 490.2h0.6M73.0 467.6h0.6M69.4 459.9h0.6M70.1 436.3h0.6M78.1 447.8h0.6M76.8 444.0h0.6M72.2 443.1h0.6M76.7 427.3h0.6M80.4 448.5h0.6M72.8 470.1h0.6M73.8 408.7h0.6M84.4 438.0h0.6M85.5 453.5h0.6M72.0 466.6h0.6M79.7 462.9h0.6M77.3 475.1h0.6M82.4 438.8h0.6M68.5 444.3h0.6M77.5 426.2h0.6M76.0 474.0h0.6M74.4 466.8h0.6M71.7 426.5h0.6" stroke="#888" stroke-width="0.6" fill="none" stroke-opacity="0.7"/>
<g transform="translate(76.3 429.0) rotate(0)"><path d="M6.80 0.00L6.29 2.29L5.62 4.51L4.86 6.60L4.04 8.48L3.20 10.11L2.37 11.43L1.56 12.40L0.77 13.00L0.00 13.20L-0.77 13.00L-1.56 12.40L-2.37 11.43L-3.20 10.11L-4.04 8.48L-4.86 6.60L-5.62 4.51L-6.29 2.29L-6.80 0.00L-7.10 -2.29L-7.15 -4.51L-6.92 -6.60L-6.38 -8.48L-5.54 -10.11L-4.43 -11.43L-3.09 -12.40L-1.59 -13.00L-0.00 -13.20L1.59 -13.00L3.09 -12.40L4.43 -11.43L5.54 -10.11L6.38 -8.48L6.92 -6.60L7.15 -4.51L7.10 -2.29Z" fill="#d6d6d6" stroke="#909090" stroke-width="0.6"/><path transform="translate(0 -0.38)" d="M5.87 0.00L5.43 1.98L4.85 3.90L4.19 5.70L3.48 7.32L2.76 8.73L2.04 9.87L1.35 10.70L0.67 11.22L0.00 11.39L-0.67 11.22L-1.35 10.70L-2.04 9.87L-2.76 8.73L-3.48 7.32L-4.19 5.70L-4.85 3.90L-5.43 1.98L-5.87 0.00L-6.13 -1.98L-6.17 -3.90L-5.97 -5.70L-5.51 -7.32L-4.78 -8.73L-3.82 -9.87L-2.67 -10.70L-1.37 -11.22L-0.00 -11.39L1.37 -11.22L2.67 -10.70L3.82 -9.87L4.78 -8.73L5.51 -7.32L5.97 -5.70L6.17 -3.90L6.13 -1.98Z" fill="none" stroke="#a0a0a0" stroke-width="0.45"/><path transform="translate(0 -0.76)" d="M4.94 0.00L4.57 1.66L4.08 3.28L3.53 4.79L2.93 6.16L2.32 7.34L1.72 8.30L1.13 9.01L0.56 9.44L0.00 9.58L-0.56 9.44L-1.13 9.01L-1.72 8.30L-2.32 7.34L-2.93 6.16L-3.53 4.79L-4.08 3.28L-4.57 1.66L-4.94 0.00L-5.16 -1.66L-5.19 -3.28L-5.02 -4.79L-4.63 -6.16L-4.02 -7.34L-3.22 -8.30L-2.24 -9.01L-1.15 -9.44L-0.00 -9.58L1.15 -9.44L2.24 -9.01L3.22 -8.30L4.02 -7.34L4.63 -6.16L5.02 -4.79L5.19 -3.28L5.16 -1.66Z" fill="none" stroke="#a0a0a0" stroke-width="0.45"/><path transform="translate(0 -1.14)" d="M4.01 0.00L3.70 1.35L3.31 2.66L2.86 3.89L2.38 5.00L1.88 5.96L1.40 6.73L0.92 7.31L0.46 7.66L0.00 7.78L-0.46 7.66L-0.92 7.31L-1.40 6.73L-1.88 5.96L-2.38 5.00L-2.86 3.89L-3.31 2.66L-3.70 1.35L-4.01 0.00L-4.18 -1.35L-4.21 -2.66L-4.08 -3.89L-3.76 -5.00L-3.26 -5.96L-2.61 -6.73L-1.82 -7.31L-0.94 -7.66L-0.00 -7.78L0.94 -7.66L1.82 -7.31L2.61 -6.73L3.26 -5.96L3.76 -5.00L4.08 -3.89L4.21 -2.66L4.18 -1.35Z" fill="none" stroke="#a0a0a0" stroke-width="0.45"/><path transform="translate(0 -1.52)" d="M3.07 0.00L2.84 1.04L2.54 2.04L2.20 2.98L1.83 3.84L1.45 4.57L1.07 5.17L0.71 5.61L0.35 5.88L0.00 5.97L-0.35 5.88L-0.71 5.61L-1.07 5.17L-1.45 4.57L-1.83 3.84L-2.20 2.98L-2.54 2.04L-2.84 1.04L-3.07 0.00L-3.21 -1.04L-3.23 -2.04L-3.13 -2.98L-2.88 -3.84L-2.51 -4.57L-2.00 -5.17L-1.40 -5.61L-0.72 -5.88L-0.00 -5.97L0.72 -5.88L1.40 -5.61L2.00 -5.17L2.51 -4.57L2.88 -3.84L3.13 -2.98L3.23 -2.04L3.21 -1.04Z" fill="none" stroke="#a0a0a0" stroke-width="0.45"/><path transform="translate(0 -1.90)" d="M2.14 0.00L1.98 0.72L1.77 1.42L1.53 2.08L1.27 2.67L1.01 3.19L0.75 3.60L0.49 3.91L0.24 4.10L0.00 4.16L-0.24 4.10L-0.49 3.91L-0.75 3.60L-1.01 3.19L-1.27 2.67L-1.53 2.08L-1.77 1.42L-1.98 0.72L-2.14 0.00L-2.24 -0.72L-2.25 -1.42L-2.18 -2.08L-2.01 -2.67L-1.75 -3.19L-1.40 -3.60L-0.97 -3.91L-0.50 -4.10L-0.00 -4.16L0.50 -4.10L0.97 -3.91L1.40 -3.60L1.75 -3.19L2.01 -2.67L2.18 -2.08L2.25 -1.42L2.24 -0.72Z" fill="none" stroke="#a0a0a0" stroke-width="0.45"/><path transform="translate(0 -2.28)" d="M1.21 0.00L1.12 0.41L1.00 0.80L0.87 1.18L0.72 1.51L0.57 1.80L0.42 2.04L0.28 2.21L0.14 2.31L0.00 2.35L-0.14 2.31L-0.28 2.21L-0.42 2.04L-0.57 1.80L-0.72 1.51L-0.87 1.18L-1.00 0.80L-1.12 0.41L-1.21 0.00L-1.27 -0.41L-1.27 -0.80L-1.23 -1.18L-1.14 -1.51L-0.99 -1.80L-0.79 -2.04L-0.55 -2.21L-0.28 -2.31L-0.00 -2.35L0.28 -2.31L0.55 -2.21L0.79 -2.04L0.99 -1.80L1.14 -1.51L1.23 -1.18L1.27 -0.80L1.27 -0.41Z" fill="none" stroke="#a0a0a0" stroke-width="0.45"/><ellipse cy="-2.31" rx="1.22" ry="2.14" fill="#fafafa"/></g>
<g transform="translate(78.0 459.0) rotate(12)"><path d="M8.20 0.00L8.50 2.34L8.50 4.62L8.17 6.75L7.49 8.68L6.48 10.34L5.17 11.69L3.60 12.69L1.84 13.29L0.00 13.50L-1.84 13.29L-3.60 12.69L-5.17 11.69L-6.48 10.34L-7.49 8.68L-8.17 6.75L-8.50 4.62L-8.50 2.34L-8.20 0.00L-7.65 -2.34L-6.91 -4.62L-6.04 -6.75L-5.07 -8.68L-4.06 -10.34L-3.03 -11.69L-2.01 -12.69L-1.00 -13.29L-0.00 -13.50L1.00 -13.29L2.01 -12.69L3.03 -11.69L4.06 -10.34L5.07 -8.68L6.04 -6.75L6.91 -4.62L7.65 -2.34Z" fill="#d4d4d4" stroke="#909090" stroke-width="0.6"/><path transform="translate(0 0.33)" d="M7.08 0.00L7.33 2.02L7.33 3.98L7.05 5.83L6.47 7.49L5.59 8.92L4.46 10.09L3.10 10.95L1.59 11.47L0.00 11.65L-1.59 11.47L-3.10 10.95L-4.46 10.09L-5.59 8.92L-6.47 7.49L-7.05 5.83L-7.33 3.98L-7.33 2.02L-7.08 0.00L-6.61 -2.02L-5.97 -3.98L-5.21 -5.83L-4.38 -7.49L-3.50 -8.92L-2.62 -10.09L-1.74 -10.95L-0.87 -11.47L-0.00 -11.65L0.87 -11.47L1.74 -10.95L2.62 -10.09L3.50 -8.92L4.38 -7.49L5.21 -5.83L5.97 -3.98L6.61 -2.02Z" fill="none" stroke="#a0a0a0" stroke-width="0.45"/><path transform="translate(0 0.67)" d="M5.95 0.00L6.17 1.70L6.17 3.35L5.93 4.90L5.44 6.30L4.71 7.51L3.75 8.49L2.61 9.21L1.34 9.65L0.00 9.80L-1.34 9.65L-2.61 9.21L-3.75 8.49L-4.71 7.51L-5.44 6.30L-5.93 4.90L-6.17 3.35L-6.17 1.70L-5.95 0.00L-5.56 -1.70L-5.02 -3.35L-4.38 -4.90L-3.68 -6.30L-2.95 -7.51L-2.20 -8.49L-1.46 -9.21L-0.73 -9.65L-0.00 -9.80L0.73 -9.65L1.46 -9.21L2.20 -8.49L2.95 -7.51L3.68 -6.30L4.38 -4.90L5.02 -3.35L5.56 -1.70Z" fill="none" stroke="#a0a0a0" stroke-width="0.45"/><path transform="translate(0 1.00)" d="M4.83 0.00L5.00 1.38L5.00 2.72L4.81 3.98L4.41 5.11L3.82 6.09L3.04 6.89L2.12 7.47L1.09 7.83L0.00 7.95L-1.09 7.83L-2.12 7.47L-3.04 6.89L-3.82 6.09L-4.41 5.11L-4.81 3.98L-5.00 2.72L-5.00 1.38L-4.83 0.00L-4.51 -1.38L-4.07 -2.72L-3.56 -3.98L-2.99 -5.11L-2.39 -6.09L-1.79 -6.89L-1.19 -7.47L-0.59 -7.83L-0.00 -7.95L0.59 -7.83L1.19 -7.47L1.79 -6.89L2.39 -6.09L2.99 -5.11L3.56 -3.98L4.07 -2.72L4.51 -1.38Z" fill="none" stroke="#a0a0a0" stroke-width="0.45"/><path transform="translate(0 1.33)" d="M3.71 0.00L3.84 1.06L3.84 2.09L3.69 3.05L3.39 3.92L2.93 4.67L2.33 5.29L1.63 5.73L0.83 6.01L0.00 6.10L-0.83 6.01L-1.63 5.73L-2.33 5.29L-2.93 4.67L-3.39 3.92L-3.69 3.05L-3.84 2.09L-3.84 1.06L-3.71 0.00L-3.46 -1.06L-3.13 -2.09L-2.73 -3.05L-2.29 -3.92L-1.84 -4.67L-1.37 -5.29L-0.91 -5.73L-0.45 -6.01L-0.00 -6.10L0.45 -6.01L0.91 -5.73L1.37 -5.29L1.84 -4.67L2.29 -3.92L2.73 -3.05L3.13 -2.09L3.46 -1.06Z" fill="none" stroke="#a0a0a0" stroke-width="0.45"/><path transform="translate(0 1.66)" d="M2.58 0.00L2.68 0.74L2.68 1.45L2.57 2.13L2.36 2.73L2.04 3.26L1.63 3.68L1.13 4.00L0.58 4.19L0.00 4.25L-0.58 4.19L-1.13 4.00L-1.63 3.68L-2.04 3.26L-2.36 2.73L-2.57 2.13L-2.68 1.45L-2.68 0.74L-2.58 0.00L-2.41 -0.74L-2.18 -1.45L-1.90 -2.13L-1.60 -2.73L-1.28 -3.26L-0.96 -3.68L-0.63 -4.00L-0.32 -4.19L-0.00 -4.25L0.32 -4.19L0.63 -4.00L0.96 -3.68L1.28 -3.26L1.60 -2.73L1.90 -2.13L2.18 -1.45L2.41 -0.74Z" fill="none" stroke="#a0a0a0" stroke-width="0.45"/><path transform="translate(0 2.00)" d="M1.46 0.00L1.51 0.42L1.51 0.82L1.45 1.20L1.33 1.55L1.15 1.84L0.92 2.08L0.64 2.26L0.33 2.37L0.00 2.40L-0.33 2.37L-0.64 2.26L-0.92 2.08L-1.15 1.84L-1.33 1.55L-1.45 1.20L-1.51 0.82L-1.51 0.42L-1.46 0.00L-1.36 -0.42L-1.23 -0.82L-1.07 -1.20L-0.90 -1.55L-0.72 -1.84L-0.54 -2.08L-0.36 -2.26L-0.18 -2.37L-0.00 -2.40L0.18 -2.37L0.36 -2.26L0.54 -2.08L0.72 -1.84L0.90 -1.55L1.07 -1.20L1.23 -0.82L1.36 -0.42Z" fill="none" stroke="#a0a0a0" stroke-width="0.45"/><ellipse cy="2.02" rx="1.48" ry="2.19" fill="#fafafa"/></g>
<path d="M216.4 430.8h0.6M211.6 440.0h0.6M221.0 422.6h0.6M214.0 433.8h0.6M211.1 445.9h0.6M208.5 427.5h0.6M213.5 416.5h0.6M212.6 425.2h0.6M212.3 426.4h0.6M213.5 430.2h0.6M205.3 436.2h0.6M215.1 419.7h0.6M201.5 430.0h0.6M207.6 442.3h0.6M220.7 435.7h0.6M217.4 429.6h0.6M201.0 434.4h0.6M198.3 444.6h0.6M211.8 441.0h0.6M205.8 419.6h0.6M208.8 435.8h0.6M208.7 428.1h0.6M210.6 430.6h0.6M219.4 422.0h0.6M195.3 431.3h0.6M211.9 420.2h0.6M209.8 435.5h0.6M212.3 434.4h0.6M205.1 420.9h0.6M216.5 429.4h0.6M200.9 444.0h0.6M215.0 410.4h0.6M227.4 433.2h0.6M199.3 439.4h0.6M212.3 441.6h0.6M210.2 419.2h0.6M209.0 428.8h0.6M212.0 430.6h0.6M213.8 422.7h0.6M206.4 428.1h0.6M212.9 418.9h0.6M210.1 450.4h0.6M198.0 440.0h0.6M210.7 439.7h0.6M210.4 434.1h0.6M212.5 435.6h0.6M202.0 431.0h0.6M222.3 443.0h0.6M204.4 424.8h0.6M208.9 440.2h0.6M216.2 427.5h0.6M194.2 431.7h0.6M198.9 441.3h0.6M220.0 437.2h0.6M214.1 436.4h0.6M222.4 440.4h0.6M219.7 423.2h0.6M206.6 432.0h0.6M195.1 429.8h0.6M209.9 431.5h0.6M227.0 430.5h0.6M208.7 431.1h0.6M207.8 421.1h0.6M217.6 432.2h0.6M212.5 432.3h0.6M204.8 419.7h0.6M208.1 436.2h0.6M209.2 437.7h0.6M204.8 429.8h0.6M211.1 431.3h0.6M211.2 443.1h0.6M207.2 433.1h0.6M205.7 436.2h0.6M211.6 426.4h0.6M203.3 422.8h0.6M208.2 433.2h0.6M206.7 431.2h0.6M211.0 450.2h0.6M218.0 449.9h0.6M211.0 433.7h0.6M223.1 435.0h0.6M214.4 428.1h0.6M206.4 438.0h0.6M206.0 426.9h0.6M200.0 434.3h0.6M209.4 436.2h0.6M204.2 422.5h0.6M217.5 432.2h0.6M215.3 423.2h0.6M201.3 412.5h0.6M212.0 439.7h0.6M218.9 445.7h0.6M197.8 423.6h0.6M206.5 425.9h0.6M208.6 425.8h0.6M200.2 431.7h0.6M210.9 426.1h0.6M210.2 422.0h0.6M207.8 429.4h0.6M207.0 431.4h0.6M201.5 421.7h0.6M204.4 437.7h0.6M203.6 424.8h0.6M223.3 430.0h0.6M207.4 425.2h0.6M219.9 436.1h0.6M211.8 444.3h0.6M202.0 419.0h0.6M217.5 435.4h0.6M206.6 438.2h0.6M209.4 447.1h0.6M201.5 434.8h0.6M216.6 438.9h0.6M207.6 428.9h0.6M207.1 437.3h0.6M207.3 430.9h0.6M216.9 431.2h0.6M211.7 431.0h0.6M210.1 414.8h0.6M203.7 434.9h0.6M205.7 427.2h0.6M210.4 449.7h0.6M204.9 424.6h0.6M197.9 435.6h0.6M209.6 425.5h0.6M207.2 439.6h0.6M216.9 434.9h0.6M217.8 439.8h0.6M206.9 438.2h0.6M211.1 438.0h0.6M211.9 448.5h0.6M201.6 434.8h0.6M202.7 450.0h0.6M206.5 429.2h0.6M209.9 431.7h0.6M221.5 431.6h0.6M211.7 440.3h0.6M220.2 424.6h0.6M212.0 421.7h0.6M213.3 443.0h0.6M206.5 429.8h0.6M218.0 435.4h0.6M215.4 428.5h0.6M207.9 429.1h0.6M220.6 420.4h0.6M206.5 444.1h0.6M209.5 423.5h0.6M211.6 430.3h0.6M209.2 435.9h0.6M215.3 420.4h0.6M211.3 443.6h0.6M201.0 431.3h0.6M202.2 437.2h0.6M204.3 429.4h0.6M207.2 435.5h0.6M201.2 421.1h0.6M211.3 442.6h0.6M206.6 435.2h0.6M211.8 432.8h0.6M209.9 427.7h0.6M208.3 441.4h0.6M213.0 442.0h0.6M205.1 432.9h0.6M205.7 421.7h0.6M216.0 429.8h0.6M211.6 421.0h0.6M208.3 431.1h0.6M207.4 439.9h0.6M213.1 433.0h0.6M211.5 428.5h0.6M205.2 429.8h0.6M203.1 430.7h0.6M209.2 440.8h0.6M207.1 450.9h0.6M206.5 433.0h0.6M209.8 427.2h0.6M209.6 418.2h0.6M217.5 427.5h0.6M209.8 417.8h0.6M213.8 422.0h0.6M219.1 423.8h0.6M205.0 437.2h0.6M218.6 416.5h0.6M198.6 444.6h0.6M212.9 420.1h0.6M207.0 437.5h0.6M207.4 443.8h0.6M205.2 433.3h0.6M217.7 443.6h0.6M211.6 436.6h0.6M207.7 431.5h0.6M206.1 435.0h0.6M215.6 424.1h0.6M202.1 432.4h0.6M223.4 433.8h0.6M210.8 431.7h0.6M198.7 426.4h0.6M220.1 415.5h0.6M222.0 422.6h0.6M223.6 452.6h0.6M220.0 430.9h0.6M213.9 427.7h0.6M206.9 433.6h0.6M188.8 436.4h0.6M207.8 423.5h0.6M208.1 437.1h0.6M204.8 434.8h0.6M200.9 432.7h0.6M202.2 438.0h0.6M203.0 436.8h0.6M196.6 433.4h0.6M217.3 425.5h0.6M210.3 425.2h0.6M213.2 437.9h0.6M217.7 442.4h0.6M218.7 426.2h0.6M210.7 436.2h0.6M211.2 421.6h0.6M223.5 452.1h0.6M210.3 411.5h0.6M222.2 430.5h0.6M225.1 423.7h0.6M213.5 438.2h0.6M200.3 429.4h0.6M213.2 437.2h0.6M212.5 411.3h0.6M193.9 434.9h0.6M220.6 419.8h0.6M212.6 439.3h0.6M203.4 419.5h0.6M211.7 428.5h0.6M209.3 430.4h0.6M209.1 434.4h0.6M206.4 431.7h0.6M206.1 425.1h0.6M212.3 425.4h0.6M213.5 431.8h0.6M217.2 436.6h0.6M196.5 431.8h0.6M214.4 432.8h0.6M210.2 440.5h0.6M214.5 421.3h0.6M210.6 439.9h0.6M211.0 421.9h0.6M215.2 436.7h0.6M217.6 433.3h0.6M210.7 438.7h0.6M202.5 445.6h0.6M212.6 433.7h0.6M215.0 438.2h0.6M195.1 439.3h0.6M209.2 425.7h0.6M216.0 439.4h0.6M212.5 427.0h0.6M210.6 424.4h0.6M226.8 426.7h0.6M215.8 444.9h0.6M204.2 427.7h0.6M194.9 430.0h0.6M201.0 433.2h0.6M209.4 460.1h0.6M211.2 456.2h0.6M211.7 459.4h0.6M206.1 457.5h0.6M207.1 449.7h0.6M210.7 445.2h0.6M214.5 459.7h0.6M212.0 469.1h0.6M217.3 456.5h0.6M213.3 469.4h0.6M209.9 463.0h0.6M213.7 451.7h0.6M212.8 456.9h0.6M209.2 463.4h0.6M215.3 452.8h0.6M209.2 458.4h0.6M204.5 462.9h0.6M209.5 454.4h0.6M217.2 459.3h0.6M203.1 459.2h0.6M209.7 462.3h0.6M226.0 464.3h0.6M220.6 458.6h0.6M214.1 463.9h0.6M210.2 461.9h0.6M207.9 465.5h0.6M204.8 473.5h0.6M186.0 449.0h0.6M210.1 462.9h0.6M211.9 447.1h0.6M213.8 453.0h0.6M212.3 456.6h0.6M209.1 447.9h0.6M202.1 455.6h0.6M203.8 461.9h0.6M201.5 461.7h0.6M214.6 454.1h0.6M204.5 457.2h0.6M216.2 471.0h0.6M225.4 460.7h0.6M215.1 461.5h0.6M210.8 451.5h0.6M208.5 468.8h0.6M220.2 455.2h0.6M200.1 474.9h0.6M211.1 463.6h0.6M209.7 445.7h0.6M213.0 452.3h0.6M209.0 455.0h0.6M209.1 479.0h0.6M221.0 444.5h0.6M200.6 456.0h0.6M206.4 466.1h0.6M221.4 454.2h0.6M214.7 458.3h0.6M197.6 469.3h0.6M222.6 453.4h0.6M215.1 455.9h0.6M210.3 456.3h0.6M210.0 460.3h0.6M206.8 462.2h0.6M202.2 466.4h0.6M204.5 445.2h0.6M216.5 457.2h0.6M207.3 467.2h0.6M210.7 475.4h0.6M213.8 448.6h0.6M207.5 454.6h0.6M209.0 473.3h0.6M229.1 473.6h0.6M213.9 464.3h0.6M212.0 442.4h0.6M220.2 475.7h0.6M207.4 459.7h0.6M206.1 458.3h0.6M205.1 451.0h0.6M219.0 444.5h0.6M217.8 450.9h0.6M209.2 444.0h0.6M215.3 452.0h0.6M227.6 452.6h0.6M212.6 465.2h0.6M204.4 453.4h0.6M203.7 464.4h0.6M212.9 468.0h0.6M201.3 452.6h0.6M210.1 456.4h0.6M213.0 468.9h0.6M211.8 453.6h0.6M210.6 454.2h0.6M206.5 474.7h0.6M215.4 474.5h0.6M209.5 459.4h0.6M202.4 461.9h0.6M215.8 465.5h0.6M203.1 460.8h0.6M217.1 456.2h0.6M215.6 456.0h0.6M210.9 455.4h0.6M201.0 453.3h0.6M212.1 457.7h0.6M210.8 455.4h0.6M216.8 458.6h0.6M213.5 456.2h0.6M219.7 459.2h0.6M213.8 477.5h0.6M213.8 447.6h0.6M206.4 462.5h0.6M202.1 448.3h0.6M210.1 447.4h0.6M218.2 463.4h0.6M208.8 469.6h0.6M206.4 450.6h0.6M217.0 460.1h0.6M209.4 468.2h0.6M210.0 465.1h0.6M212.4 469.2h0.6M214.6 456.2h0.6M221.0 457.1h0.6M222.6 449.9h0.6M211.3 442.2h0.6M214.4 470.6h0.6M208.3 463.7h0.6M209.4 471.4h0.6M213.2 462.8h0.6M218.3 447.9h0.6M215.6 461.0h0.6M219.6 460.2h0.6M215.0 459.5h0.6M204.3 456.0h0.6M209.7 449.4h0.6M210.6 456.2h0.6M223.2 458.0h0.6M211.8 460.7h0.6M215.6 447.2h0.6M199.2 472.5h0.6M205.3 452.9h0.6M218.8 462.3h0.6M205.6 465.9h0.6M203.4 472.9h0.6M208.8 462.6h0.6M210.9 475.2h0.6M204.5 459.2h0.6M225.3 443.8h0.6M207.7 462.2h0.6M209.5 463.5h0.6M218.7 451.0h0.6M206.6 470.4h0.6M224.0 438.8h0.6M214.6 467.9h0.6M206.4 453.1h0.6M203.4 458.4h0.6M203.3 465.6h0.6M206.4 464.1h0.6M200.5 467.0h0.6M215.5 467.5h0.6M212.8 478.2h0.6M217.5 460.4h0.6M221.7 457.2h0.6M212.0 473.0h0.6M207.9 460.0h0.6M212.7 461.5h0.6M209.4 468.0h0.6M225.4 456.9h0.6M201.1 456.3h0.6M201.7 449.9h0.6M204.0 468.4h0.6M212.0 465.6h0.6M210.3 468.1h0.6M208.3 470.3h0.6M216.9 461.7h0.6M201.2 451.3h0.6M212.7 451.7h0.6M209.9 458.7h0.6M220.2 454.6h0.6M211.9 456.3h0.6M205.9 463.5h0.6M217.5 448.7h0.6M221.0 477.7h0.6M212.0 464.1h0.6M204.0 456.8h0.6M213.1 459.3h0.6M220.2 453.0h0.6M209.3 464.2h0.6M210.5 458.1h0.6M210.2 463.2h0.6M198.1 480.6h0.6M216.0 451.7h0.6M204.9 451.1h0.6M213.9 445.3h0.6M227.4 455.7h0.6M201.6 476.3h0.6M211.0 463.9h0.6M209.7 458.0h0.6M224.8 444.4h0.6M212.7 454.2h0.6M208.7 459.5h0.6M198.7 464.9h0.6M212.4 464.4h0.6M207.0 465.9h0.6M207.9 466.1h0.6M220.1 464.9h0.6M201.4 460.6h0.6M204.1 475.4h0.6M212.4 449.9h0.6M200.8 470.5h0.6M204.3 463.3h0.6M208.8 458.9h0.6M208.1 460.1h0.6M221.8 453.1h0.6M214.5 463.8h0.6M206.5 451.4h0.6M205.1 464.6h0.6M212.1 468.1h0.6M213.5 460.9h0.6M211.1 461.8h0.6M211.3 465.3h0.6M205.3 468.5h0.6M221.9 459.3h0.6M214.8 450.7h0.6M211.7 448.7h0.6M217.7 460.4h0.6M218.3 468.9h0.6M206.1 466.4h0.6M221.4 477.5h0.6M210.3 464.3h0.6M206.8 465.0h0.6M215.0 471.5h0.6M210.0 460.5h0.6M214.4 458.7h0.6M224.9 442.6h0.6M199.6 456.1h0.6M215.7 460.2h0.6M213.9 448.1h0.6M215.0 464.3h0.6M222.0 466.5h0.6M206.9 454.2h0.6M203.5 456.2h0.6M210.4 469.9h0.6M222.1 460.6h0.6M215.0 458.7h0.6M202.4 464.2h0.6M206.2 447.4h0.6M205.4 471.7h0.6M203.3 470.7h0.6M201.9 459.5h0.6M214.4 456.9h0.6M204.5 460.1h0.6M222.3 465.2h0.6M212.4 464.5h0.6M219.0 470.5h0.6M209.2 453.2h0.6M204.4 460.5h0.6M209.0 460.1h0.6M206.9 479.6h0.6M206.4 471.2h0.6M205.3 453.9h0.6M203.2 451.5h0.6M200.1 453.6h0.6M209.4 465.5h0.6M176.1 453.9h0.6M198.5 446.0h0.6M171.0 454.6h0.6M209.1 466.4h0.6M196.2 468.0h0.6M201.0 430.0h0.6M207.1 463.3h0.6M203.2 445.6h0.6M196.7 457.9h0.6M175.8 451.4h0.6M182.7 437.0h0.6M202.8 467.9h0.6M199.9 429.8h0.6M236.8 451.8h0.6M163.7 444.4h0.6M190.2 435.5h0.6M214.3 483.7h0.6M201.4 422.5h0.6M211.8 447.7h0.6M194.6 449.7h0.6M184.5 449.5h0.6M204.9 467.1h0.6M227.2 435.1h0.6M205.2 432.2h0.6M201.7 466.4h0.6M208.8 440.9h0.6M224.4 461.8h0.6M216.7 447.6h0.6M218.2 443.6h0.6M211.9 446.9h0.6M200.0 418.9h0.6M213.4 456.3h0.6M191.7 447.3h0.6M208.3 457.4h0.6M172.0 472.3h0.6M186.2 479.6h0.6M215.6 448.6h0.6M202.9 451.1h0.6M194.6 472.8h0.6M191.0 436.8h0.6M196.9 418.2h0.6M214.2 425.3h0.6M220.7 462.8h0.6M227.5 435.7h0.6M196.0 438.2h0.6M210.9 430.4h0.6M200.7 449.8h0.6M227.2 431.4h0.6M213.3 456.2h0.6M212.1 426.6h0.6M213.3 449.2h0.6M219.8 484.3h0.6M190.6 438.9h0.6M221.0 416.7h0.6M165.8 451.0h0.6M204.6 472.9h0.6M210.1 445.5h0.6M192.3 413.6h0.6M207.3 435.3h0.6M194.9 451.9h0.6M172.2 444.6h0.6M191.6 481.5h0.6M198.5 466.2h0.6M186.5 418.0h0.6M212.3 440.0h0.6M181.7 465.2h0.6M207.1 415.5h0.6M196.9 481.7h0.6M201.7 422.0h0.6M188.6 470.9h0.6M220.8 458.4h0.6M179.4 461.0h0.6M188.8 437.1h0.6M193.2 465.4h0.6M207.2 456.5h0.6M194.0 437.0h0.6M215.0 435.2h0.6M196.2 456.1h0.6M197.7 463.8h0.6M207.9 457.7h0.6M232.1 436.4h0.6M229.1 423.1h0.6M190.8 431.8h0.6M209.9 468.8h0.6M232.2 436.6h0.6M214.9 442.8h0.6M195.2 411.1h0.6M212.2 429.3h0.6M209.2 434.0h0.6M206.8 428.9h0.6M205.7 478.9h0.6M205.3 421.3h0.6M189.3 448.6h0.6M211.4 423.7h0.6M187.5 416.8h0.6M224.6 451.4h0.6M204.7 438.2h0.6M226.8 456.6h0.6M198.7 468.2h0.6M208.3 441.0h0.6M195.1 446.2h0.6M219.4 420.3h0.6M177.1 458.4h0.6M214.8 472.5h0.6M208.1 418.8h0.6M211.5 449.2h0.6M186.1 417.0h0.6M178.7 447.3h0.6M182.2 452.5h0.6M198.0 457.8h0.6M212.2 429.4h0.6M194.9 459.6h0.6M191.2 464.6h0.6M208.4 462.5h0.6M191.8 460.4h0.6M197.2 450.1h0.6M208.9 435.9h0.6M190.5 457.4h0.6M185.1 407.4h0.6M180.2 440.6h0.6" stroke="#222" stroke-width="0.6" fill="none" stroke-opacity="0.8"/>
<g transform="translate(211.5 459.8) rotate(0)"><path d="M5.50 0.00L5.42 0.83L5.17 1.64L4.76 2.40L4.21 3.09L3.54 3.68L2.75 4.16L1.88 4.51L0.96 4.73L0.00 4.80L-0.96 4.73L-1.88 4.51L-2.75 4.16L-3.54 3.68L-4.21 3.09L-4.76 2.40L-5.17 1.64L-5.42 0.83L-5.50 0.00L-5.42 -0.83L-5.17 -1.64L-4.76 -2.40L-4.21 -3.09L-3.54 -3.68L-2.75 -4.16L-1.88 -4.51L-0.96 -4.73L-0.00 -4.80L0.96 -4.73L1.88 -4.51L2.75 -4.16L3.54 -3.68L4.21 -3.09L4.76 -2.40L5.17 -1.64L5.42 -0.83Z" fill="#f4f4f4" stroke="#444" stroke-width="0.6"/><path transform="translate(0 -0.00)" d="M3.83 0.00L3.78 0.58L3.60 1.14L3.32 1.67L2.94 2.15L2.46 2.56L1.92 2.90L1.31 3.14L0.67 3.29L0.00 3.35L-0.67 3.29L-1.31 3.14L-1.92 2.90L-2.46 2.56L-2.94 2.15L-3.32 1.67L-3.60 1.14L-3.78 0.58L-3.83 0.00L-3.78 -0.58L-3.60 -1.14L-3.32 -1.67L-2.94 -2.15L-2.46 -2.56L-1.92 -2.90L-1.31 -3.14L-0.67 -3.29L-0.00 -3.35L0.67 -3.29L1.31 -3.14L1.92 -2.90L2.46 -2.56L2.94 -2.15L3.32 -1.67L3.60 -1.14L3.78 -0.58Z" fill="none" stroke="#555" stroke-width="0.45"/><path transform="translate(0 -0.00)" d="M2.17 0.00L2.13 0.33L2.04 0.65L1.88 0.95L1.66 1.22L1.39 1.45L1.08 1.64L0.74 1.78L0.38 1.86L0.00 1.89L-0.38 1.86L-0.74 1.78L-1.08 1.64L-1.39 1.45L-1.66 1.22L-1.88 0.95L-2.04 0.65L-2.13 0.33L-2.17 0.00L-2.13 -0.33L-2.04 -0.65L-1.88 -0.95L-1.66 -1.22L-1.39 -1.45L-1.08 -1.64L-0.74 -1.78L-0.38 -1.86L-0.00 -1.89L0.38 -1.86L0.74 -1.78L1.08 -1.64L1.39 -1.45L1.66 -1.22L1.88 -0.95L2.04 -0.65L2.13 -0.33Z" fill="none" stroke="#555" stroke-width="0.45"/><ellipse cy="-0.00" rx="2.75" ry="2.16" fill="#fafafa"/></g>
<g transform="translate(183.8 427.5) rotate(0)"><path d="M8.80 0.00L8.06 2.43L7.14 4.79L6.10 7.00L5.01 9.00L3.92 10.72L2.88 12.12L1.88 13.16L0.93 13.79L0.00 14.00L-0.93 13.79L-1.88 13.16L-2.88 12.12L-3.92 10.72L-5.01 9.00L-6.10 7.00L-7.14 4.79L-8.06 2.43L-8.80 0.00L-9.27 -2.43L-9.40 -4.79L-9.15 -7.00L-8.47 -9.00L-7.39 -10.72L-5.92 -12.12L-4.14 -13.16L-2.13 -13.79L-0.00 -14.00L2.13 -13.79L4.14 -13.16L5.92 -12.12L7.39 -10.72L8.47 -9.00L9.15 -7.00L9.40 -4.79L9.27 -2.43Z" fill="#d4d4d4" stroke="#909090" stroke-width="0.6"/><path transform="translate(0 -0.46)" d="M7.59 0.00L6.96 2.10L6.16 4.13L5.26 6.04L4.32 7.77L3.39 9.26L2.48 10.46L1.62 11.35L0.80 11.90L0.00 12.08L-0.80 11.90L-1.62 11.35L-2.48 10.46L-3.39 9.26L-4.32 7.77L-5.26 6.04L-6.16 4.13L-6.96 2.10L-7.59 0.00L-8.00 -2.10L-8.11 -4.13L-7.89 -6.04L-7.31 -7.77L-6.38 -9.26L-5.11 -10.46L-3.57 -11.35L-1.84 -11.90L-0.00 -12.08L1.84 -11.90L3.57 -11.35L5.11 -10.46L6.38 -9.26L7.31 -7.77L7.89 -6.04L8.11 -4.13L8.00 -2.10Z" fill="none" stroke="#a0a0a0" stroke-width="0.45"/><path transform="translate(0 -0.92)" d="M6.39 0.00L5.85 1.77L5.18 3.48L4.43 5.08L3.64 6.53L2.85 7.79L2.09 8.80L1.36 9.55L0.67 10.01L0.00 10.16L-0.67 10.01L-1.36 9.55L-2.09 8.80L-2.85 7.79L-3.64 6.53L-4.43 5.08L-5.18 3.48L-5.85 1.77L-6.39 0.00L-6.73 -1.77L-6.83 -3.48L-6.64 -5.08L-6.15 -6.53L-5.37 -7.79L-4.30 -8.80L-3.01 -9.55L-1.55 -10.01L-0.00 -10.16L1.55 -10.01L3.01 -9.55L4.30 -8.80L5.37 -7.79L6.15 -6.53L6.64 -5.08L6.83 -3.48L6.73 -1.77Z" fill="none" stroke="#a0a0a0" stroke-width="0.45"/><path transform="translate(0 -1.38)" d="M5.18 0.00L4.75 1.43L4.20 2.82L3.59 4.12L2.95 5.30L2.31 6.32L1.69 7.14L1.11 7.75L0.55 8.12L0.00 8.25L-0.55 8.12L-1.11 7.75L-1.69 7.14L-2.31 6.32L-2.95 5.30L-3.59 4.12L-4.20 2.82L-4.75 1.43L-5.18 0.00L-5.46 -1.43L-5.54 -2.82L-5.39 -4.12L-4.99 -5.30L-4.35 -6.32L-3.49 -7.14L-2.44 -7.75L-1.25 -8.12L-0.00 -8.25L1.25 -8.12L2.44 -7.75L3.49 -7.14L4.35 -6.32L4.99 -5.30L5.39 -4.12L5.54 -2.82L5.46 -1.43Z" fill="none" stroke="#a0a0a0" stroke-width="0.45"/><path transform="translate(0 -1.84)" d="M3.98 0.00L3.65 1.10L3.23 2.16L2.76 3.16L2.26 4.07L1.77 4.85L1.30 5.48L0.85 5.95L0.42 6.23L0.00 6.33L-0.42 6.23L-0.85 5.95L-1.30 5.48L-1.77 4.85L-2.26 4.07L-2.76 3.16L-3.23 2.16L-3.65 1.10L-3.98 0.00L-4.19 -1.10L-4.25 -2.16L-4.13 -3.16L-3.83 -4.07L-3.34 -4.85L-2.68 -5.48L-1.87 -5.95L-0.96 -6.23L-0.00 -6.33L0.96 -6.23L1.87 -5.95L2.68 -5.48L3.34 -4.85L3.83 -4.07L4.13 -3.16L4.25 -2.16L4.19 -1.10Z" fill="none" stroke="#a0a0a0" stroke-width="0.45"/><path transform="translate(0 -2.30)" d="M2.77 0.00L2.54 0.77L2.25 1.51L1.92 2.21L1.58 2.84L1.24 3.38L0.91 3.82L0.59 4.14L0.29 4.34L0.00 4.41L-0.29 4.34L-0.59 4.14L-0.91 3.82L-1.24 3.38L-1.58 2.84L-1.92 2.21L-2.25 1.51L-2.54 0.77L-2.77 0.00L-2.92 -0.77L-2.96 -1.51L-2.88 -2.21L-2.67 -2.84L-2.33 -3.38L-1.87 -3.82L-1.30 -4.14L-0.67 -4.34L-0.00 -4.41L0.67 -4.34L1.30 -4.14L1.87 -3.82L2.33 -3.38L2.67 -2.84L2.88 -2.21L2.96 -1.51L2.92 -0.77Z" fill="none" stroke="#a0a0a0" stroke-width="0.45"/><path transform="translate(0 -2.76)" d="M1.57 0.00L1.44 0.43L1.27 0.85L1.09 1.25L0.89 1.60L0.70 1.91L0.51 2.16L0.33 2.34L0.16 2.46L0.00 2.49L-0.16 2.46L-0.33 2.34L-0.51 2.16L-0.70 1.91L-0.89 1.60L-1.09 1.25L-1.27 0.85L-1.44 0.43L-1.57 0.00L-1.65 -0.43L-1.67 -0.85L-1.63 -1.25L-1.51 -1.60L-1.32 -1.91L-1.05 -2.16L-0.74 -2.34L-0.38 -2.46L-0.00 -2.49L0.38 -2.46L0.74 -2.34L1.05 -2.16L1.32 -1.91L1.51 -1.60L1.63 -1.25L1.67 -0.85L1.65 -0.43Z" fill="none" stroke="#a0a0a0" stroke-width="0.45"/><ellipse cy="-2.80" rx="1.58" ry="2.27" fill="#fafafa"/></g>
<g transform="translate(183.2 459.6) rotate(4)"><path d="M8.50 0.00L8.88 2.43L8.94 4.79L8.65 7.00L7.98 9.00L6.93 10.72L5.54 12.12L3.86 13.16L1.98 13.79L0.00 14.00L-1.98 13.79L-3.86 13.16L-5.54 12.12L-6.93 10.72L-7.98 9.00L-8.65 7.00L-8.94 4.79L-8.88 2.43L-8.50 0.00L-7.86 -2.43L-7.03 -4.79L-6.07 -7.00L-5.05 -9.00L-4.00 -10.72L-2.96 -12.12L-1.95 -13.16L-0.97 -13.79L-0.00 -14.00L0.97 -13.79L1.95 -13.16L2.96 -12.12L4.00 -10.72L5.05 -9.00L6.07 -7.00L7.03 -4.79L7.86 -2.43Z" fill="#d4d4d4" stroke="#909090" stroke-width="0.6"/><path transform="translate(0 0.40)" d="M7.34 0.00L7.66 2.10L7.72 4.13L7.46 6.04L6.88 7.77L5.98 9.26L4.78 10.46L3.33 11.35L1.71 11.90L0.00 12.08L-1.71 11.90L-3.33 11.35L-4.78 10.46L-5.98 9.26L-6.88 7.77L-7.46 6.04L-7.72 4.13L-7.66 2.10L-7.34 0.00L-6.79 -2.10L-6.07 -4.13L-5.24 -6.04L-4.36 -7.77L-3.45 -9.26L-2.56 -10.46L-1.68 -11.35L-0.83 -11.90L-0.00 -12.08L0.83 -11.90L1.68 -11.35L2.56 -10.46L3.45 -9.26L4.36 -7.77L5.24 -6.04L6.07 -4.13L6.79 -2.10Z" fill="none" stroke="#a0a0a0" stroke-width="0.45"/><path transform="translate(0 0.81)" d="M6.17 0.00L6.45 1.77L6.49 3.48L6.28 5.08L5.79 6.53L5.03 7.79L4.02 8.80L2.80 9.55L1.44 10.01L0.00 10.16L-1.44 10.01L-2.80 9.55L-4.02 8.80L-5.03 7.79L-5.79 6.53L-6.28 5.08L-6.49 3.48L-6.45 1.77L-6.17 0.00L-5.71 -1.77L-5.10 -3.48L-4.41 -5.08L-3.66 -6.53L-2.90 -7.79L-2.15 -8.80L-1.42 -9.55L-0.70 -10.01L-0.00 -10.16L0.70 -10.01L1.42 -9.55L2.15 -8.80L2.90 -7.79L3.66 -6.53L4.41 -5.08L5.10 -3.48L5.71 -1.77Z" fill="none" stroke="#a0a0a0" stroke-width="0.45"/><path transform="translate(0 1.21)" d="M5.01 0.00L5.23 1.43L5.27 2.82L5.09 4.12L4.70 5.30L4.08 6.32L3.26 7.14L2.28 7.75L1.17 8.12L0.00 8.25L-1.17 8.12L-2.28 7.75L-3.26 7.14L-4.08 6.32L-4.70 5.30L-5.09 4.12L-5.27 2.82L-5.23 1.43L-5.01 0.00L-4.63 -1.43L-4.14 -2.82L-3.58 -4.12L-2.97 -5.30L-2.36 -6.32L-1.74 -7.14L-1.15 -7.75L-0.57 -8.12L-0.00 -8.25L0.57 -8.12L1.15 -7.75L1.74 -7.14L2.36 -6.32L2.97 -5.30L3.58 -4.12L4.14 -2.82L4.63 -1.43Z" fill="none" stroke="#a0a0a0" stroke-width="0.45"/><path transform="translate(0 1.61)" d="M3.84 0.00L4.01 1.10L4.04 2.16L3.91 3.16L3.61 4.07L3.13 4.85L2.50 5.48L1.75 5.95L0.90 6.23L0.00 6.33L-0.90 6.23L-1.75 5.95L-2.50 5.48L-3.13 4.85L-3.61 4.07L-3.91 3.16L-4.04 2.16L-4.01 1.10L-3.84 0.00L-3.55 -1.10L-3.18 -2.16L-2.75 -3.16L-2.28 -4.07L-1.81 -4.85L-1.34 -5.48L-0.88 -5.95L-0.44 -6.23L-0.00 -6.33L0.44 -6.23L0.88 -5.95L1.34 -5.48L1.81 -4.85L2.28 -4.07L2.75 -3.16L3.18 -2.16L3.55 -1.10Z" fill="none" stroke="#a0a0a0" stroke-width="0.45"/><path transform="translate(0 2.01)" d="M2.68 0.00L2.80 0.77L2.82 1.51L2.73 2.21L2.51 2.84L2.18 3.38L1.74 3.82L1.22 4.14L0.63 4.34L0.00 4.41L-0.63 4.34L-1.22 4.14L-1.74 3.82L-2.18 3.38L-2.51 2.84L-2.73 2.21L-2.82 1.51L-2.80 0.77L-2.68 0.00L-2.48 -0.77L-2.22 -1.51L-1.91 -2.21L-1.59 -2.84L-1.26 -3.38L-0.93 -3.82L-0.61 -4.14L-0.30 -4.34L-0.00 -4.41L0.30 -4.34L0.61 -4.14L0.93 -3.82L1.26 -3.38L1.59 -2.84L1.91 -2.21L2.22 -1.51L2.48 -0.77Z" fill="none" stroke="#a0a0a0" stroke-width="0.45"/><path transform="translate(0 2.42)" d="M1.51 0.00L1.58 0.43L1.59 0.85L1.54 1.25L1.42 1.60L1.23 1.91L0.99 2.16L0.69 2.34L0.35 2.46L0.00 2.49L-0.35 2.46L-0.69 2.34L-0.99 2.16L-1.23 1.91L-1.42 1.60L-1.54 1.25L-1.59 0.85L-1.58 0.43L-1.51 0.00L-1.40 -0.43L-1.25 -0.85L-1.08 -1.25L-0.90 -1.60L-0.71 -1.91L-0.53 -2.16L-0.35 -2.34L-0.17 -2.46L-0.00 -2.49L0.17 -2.46L0.35 -2.34L0.53 -2.16L0.71 -1.91L0.90 -1.60L1.08 -1.25L1.25 -0.85L1.40 -0.43Z" fill="none" stroke="#a0a0a0" stroke-width="0.45"/><ellipse cy="2.45" rx="1.53" ry="2.27" fill="#fafafa"/></g>
<path d="M50.7 436.1h-3.0M50.7 429.6h-1.9M50.7 425.8h-1.9M50.7 423.1h-1.9M50.7 421.0h-1.9M50.7 419.3h-1.9M50.7 417.8h-1.9M50.7 416.6h-1.9M50.7 415.5h-1.9M50.7 460.2h-3.0M50.7 452.9h-1.9M50.7 448.7h-1.9M50.7 445.7h-1.9M50.7 443.4h-1.9M50.7 441.4h-1.9M50.7 439.8h-1.9M50.7 438.4h-1.9M50.7 437.2h-1.9M50.7 414.5h-3.0M50.7 465.4h-1.9M50.7 470.5h-1.9M50.7 475.7h-3.0M50.7 480.9h-1.9M50.7 486.0h-1.9" stroke="#000" stroke-width="1.0"/>
<path d="M84.6 492.6v3.0M91.7 492.6v1.9M95.9 492.6v1.9M98.8 492.6v1.9M101.1 492.6v1.9M103.0 492.6v1.9M104.5 492.6v1.9M105.9 492.6v1.9M107.1 492.6v1.9M108.2 492.6v3.0M114.5 492.6v1.9M118.2 492.6v1.9M120.8 492.6v1.9M122.9 492.6v1.9M124.5 492.6v1.9M125.9 492.6v1.9M127.2 492.6v1.9M128.2 492.6v1.9M129.2 492.6v3.0M54.6 492.6v1.9M59.6 492.6v1.9M64.6 492.6v1.9M69.6 492.6v3.0M74.6 492.6v1.9M79.6 492.6v1.9" stroke="#000" stroke-width="1.0"/>
<line x1="87.30" y1="406.40" x2="87.30" y2="492.60" stroke="#444" stroke-width="0.95"/>
<line x1="50.70" y1="444.60" x2="137.70" y2="444.60" stroke="#444" stroke-width="0.95"/>
<rect x="50.7" y="406.4" width="87.0" height="86.2" fill="none" stroke="#000" stroke-width="1.25"/>
<text x="119.4" y="422.0" font-size="8.8" fill="#1a1a1a" text-anchor="middle" stroke="#1a1a1a" stroke-width="0.12">2.07</text>
<path d="M156.5 436.1h-3.0M156.5 429.6h-1.9M156.5 425.8h-1.9M156.5 423.1h-1.9M156.5 421.0h-1.9M156.5 419.3h-1.9M156.5 417.8h-1.9M156.5 416.6h-1.9M156.5 415.5h-1.9M156.5 460.2h-3.0M156.5 452.9h-1.9M156.5 448.7h-1.9M156.5 445.7h-1.9M156.5 443.4h-1.9M156.5 441.4h-1.9M156.5 439.8h-1.9M156.5 438.4h-1.9M156.5 437.2h-1.9M156.5 414.5h-3.0M156.5 465.4h-1.9M156.5 470.5h-1.9M156.5 475.7h-3.0M156.5 480.9h-1.9M156.5 486.0h-1.9" stroke="#000" stroke-width="1.0"/>
<path d="M190.4 492.4v3.0M197.5 492.4v1.9M201.7 492.4v1.9M204.6 492.4v1.9M206.9 492.4v1.9M208.8 492.4v1.9M210.3 492.4v1.9M211.7 492.4v1.9M212.9 492.4v1.9M214.0 492.4v3.0M220.3 492.4v1.9M224.0 492.4v1.9M226.6 492.4v1.9M228.7 492.4v1.9M230.3 492.4v1.9M231.7 492.4v1.9M233.0 492.4v1.9M234.0 492.4v1.9M235.0 492.4v3.0M160.4 492.4v1.9M165.4 492.4v1.9M170.4 492.4v1.9M175.4 492.4v3.0M180.4 492.4v1.9M185.4 492.4v1.9" stroke="#000" stroke-width="1.0"/>
<line x1="193.70" y1="406.40" x2="193.70" y2="492.40" stroke="#444" stroke-width="0.95"/>
<line x1="156.50" y1="444.60" x2="243.00" y2="444.60" stroke="#444" stroke-width="0.95"/>
<rect x="156.5" y="406.4" width="86.5" height="86.0" fill="none" stroke="#000" stroke-width="1.25"/>
<text x="225.0" y="422.0" font-size="8.8" fill="#1a1a1a" text-anchor="middle" stroke="#1a1a1a" stroke-width="0.12">5.84</text>
<text x="30.2" y="417.1" font-size="8.8" fill="#1a1a1a" textLength="9.2" lengthAdjust="spacingAndGlyphs" stroke="#1a1a1a" stroke-width="0.12">10</text>
<text x="39.8" y="413.8" font-size="6.8" fill="#1a1a1a" textLength="3.1" lengthAdjust="spacingAndGlyphs" stroke="#1a1a1a" stroke-width="0.12">5</text>
<text x="30.2" y="439.3" font-size="8.8" fill="#1a1a1a" textLength="9.2" lengthAdjust="spacingAndGlyphs" stroke="#1a1a1a" stroke-width="0.12">10</text>
<text x="39.8" y="436.0" font-size="6.8" fill="#1a1a1a" textLength="3.1" lengthAdjust="spacingAndGlyphs" stroke="#1a1a1a" stroke-width="0.12">4</text>
<text x="30.2" y="463.8" font-size="8.8" fill="#1a1a1a" textLength="9.2" lengthAdjust="spacingAndGlyphs" stroke="#1a1a1a" stroke-width="0.12">10</text>
<text x="39.8" y="460.5" font-size="6.8" fill="#1a1a1a" textLength="3.1" lengthAdjust="spacingAndGlyphs" stroke="#1a1a1a" stroke-width="0.12">3</text>
<text x="38.5" y="477.5" font-size="8.8" fill="#1a1a1a" textLength="4.3" lengthAdjust="spacingAndGlyphs" stroke="#1a1a1a" stroke-width="0.12">0</text>
<text x="67.5" y="507.6" font-size="8.8" fill="#1a1a1a" textLength="4.2" lengthAdjust="spacingAndGlyphs" stroke="#1a1a1a" stroke-width="0.12">0</text>
<text x="78.2" y="507.6" font-size="8.8" fill="#1a1a1a" textLength="9.3" lengthAdjust="spacingAndGlyphs" stroke="#1a1a1a" stroke-width="0.12">10</text>
<text x="87.9" y="504.2" font-size="6.8" fill="#1a1a1a" textLength="3.8" lengthAdjust="spacingAndGlyphs" stroke="#1a1a1a" stroke-width="0.12">3</text>
<text x="101.8" y="507.6" font-size="8.8" fill="#1a1a1a" textLength="9.3" lengthAdjust="spacingAndGlyphs" stroke="#1a1a1a" stroke-width="0.12">10</text>
<text x="111.5" y="504.2" font-size="6.8" fill="#1a1a1a" textLength="3.8" lengthAdjust="spacingAndGlyphs" stroke="#1a1a1a" stroke-width="0.12">4</text>
<text x="122.8" y="507.6" font-size="8.8" fill="#1a1a1a" textLength="9.3" lengthAdjust="spacingAndGlyphs" stroke="#1a1a1a" stroke-width="0.12">10</text>
<text x="132.5" y="504.2" font-size="6.8" fill="#1a1a1a" textLength="3.8" lengthAdjust="spacingAndGlyphs" stroke="#1a1a1a" stroke-width="0.12">5</text>
<text x="22.4" y="450.0" font-size="10.2" fill="#222" text-anchor="middle" textLength="75.3" lengthAdjust="spacingAndGlyphs" transform="rotate(-90 22.4 450.0)" stroke="#222" stroke-width="0.12">Granzyme B-BV421</text>
<text x="51.0" y="524.2" font-size="10.2" fill="#111" textLength="38.7" lengthAdjust="spacingAndGlyphs" stroke="#111" stroke-width="0.12">IFN-γ-FITC</text>
<line x1="93.70" y1="520.50" x2="239.50" y2="520.50" stroke="#111" stroke-width="1.2"/>
<path d="M242.5 520.5l-6.2 -2.9l1.3 2.9l-1.3 2.9z" fill="#000"/>
<text x="402.6" y="383.2" font-size="9.0" fill="#111" textLength="26.9" lengthAdjust="spacingAndGlyphs" stroke="#111" stroke-width="0.12">BMNK</text>
<line x1="320.00" y1="389.00" x2="511.00" y2="389.00" stroke="#222" stroke-width="1.2"/>
<text x="346.8" y="399.9" font-size="8.8" fill="#e0333f" textLength="32.6" lengthAdjust="spacingAndGlyphs" stroke="#e0333f" stroke-width="0.12">Relapse</text>
<text x="444.6" y="399.9" font-size="9.0" fill="#50589c" textLength="48.3" lengthAdjust="spacingAndGlyphs" stroke="#50589c" stroke-width="0.12">No Relapse</text>
<path d="M371.7 462.4h0.6M351.0 461.3h0.6M353.0 466.9h0.6M369.0 452.9h0.6M360.5 457.4h0.6M359.4 467.5h0.6M368.1 453.4h0.6M369.6 446.8h0.6M366.6 455.3h0.6M359.4 457.5h0.6M367.3 446.1h0.6M368.7 482.1h0.6M372.9 453.2h0.6M368.6 471.5h0.6M354.5 471.5h0.6M361.6 473.4h0.6M356.9 466.5h0.6M359.5 468.2h0.6M373.8 460.8h0.6M356.9 466.5h0.6M368.7 449.2h0.6M370.5 456.6h0.6M363.9 450.0h0.6M367.1 465.0h0.6M356.9 464.6h0.6M347.3 458.9h0.6M367.7 450.2h0.6M366.6 447.3h0.6M383.3 461.2h0.6M375.7 450.4h0.6M343.1 457.3h0.6M378.1 456.7h0.6M376.3 461.3h0.6M368.3 466.6h0.6M359.3 454.6h0.6M375.7 461.7h0.6M359.8 449.2h0.6M379.5 431.6h0.6M373.9 456.8h0.6M352.5 461.3h0.6M369.7 476.6h0.6M367.9 437.5h0.6M356.1 464.2h0.6M360.4 457.5h0.6M364.3 469.7h0.6M368.2 456.7h0.6M358.9 466.2h0.6M358.4 461.4h0.6M369.1 464.1h0.6M372.6 460.3h0.6M384.0 464.4h0.6M357.8 450.6h0.6M358.4 468.8h0.6M354.6 470.8h0.6M369.1 453.2h0.6M355.6 457.2h0.6M372.3 457.4h0.6M371.9 459.4h0.6M378.0 454.0h0.6M363.8 448.8h0.6M362.0 449.9h0.6M350.7 456.2h0.6M371.5 439.7h0.6M353.0 446.6h0.6M368.6 462.6h0.6M368.1 456.5h0.6M357.8 459.5h0.6M356.8 456.1h0.6M368.9 455.9h0.6M376.4 440.2h0.6M350.0 466.1h0.6M359.7 454.2h0.6M359.8 457.5h0.6M363.6 460.9h0.6M373.8 473.1h0.6M345.0 457.1h0.6M356.7 459.7h0.6M355.6 458.5h0.6M367.7 457.7h0.6M367.3 463.3h0.6M355.1 457.6h0.6M374.9 465.6h0.6M374.3 451.2h0.6M358.8 466.0h0.6M365.1 460.4h0.6M361.7 465.4h0.6M366.7 449.9h0.6M368.5 455.1h0.6M362.6 462.6h0.6M366.4 453.3h0.6M341.5 436.8h0.6M346.4 423.1h0.6M344.1 487.6h0.6M344.0 446.1h0.6M341.2 439.0h0.6M348.2 447.9h0.6M339.1 445.6h0.6M342.4 464.9h0.6M346.5 473.9h0.6M348.7 423.6h0.6M351.5 436.1h0.6M346.5 446.7h0.6M340.9 466.4h0.6M347.7 426.1h0.6M340.6 453.4h0.6M352.7 452.4h0.6M348.5 437.3h0.6M352.2 454.9h0.6M343.3 433.8h0.6M336.9 466.1h0.6M361.1 442.8h0.6M349.1 458.9h0.6M346.0 484.1h0.6M342.3 429.7h0.6M354.6 461.7h0.6M350.6 443.1h0.6M346.8 447.7h0.6M349.0 434.0h0.6M351.9 476.9h0.6M344.5 427.6h0.6M347.6 490.0h0.6M342.5 469.6h0.6M343.8 431.2h0.6M352.1 441.9h0.6M346.8 457.9h0.6M352.3 449.4h0.6M354.3 432.7h0.6M344.6 457.5h0.6M350.1 413.4h0.6M345.6 457.6h0.6M346.3 477.8h0.6M339.6 448.8h0.6M343.0 416.1h0.6M345.9 444.0h0.6M345.1 433.6h0.6M351.0 426.1h0.6M344.1 419.6h0.6M352.5 418.4h0.6M355.1 428.4h0.6M346.8 474.8h0.6M342.0 469.1h0.6M340.9 436.7h0.6M349.6 451.3h0.6M348.6 450.9h0.6M354.4 415.8h0.6M343.8 461.1h0.6M340.1 432.6h0.6M358.5 469.6h0.6M349.4 446.7h0.6M346.2 429.2h0.6" stroke="#888" stroke-width="0.6" fill="none" stroke-opacity="0.7"/>
<g transform="translate(344.6 427.5) rotate(0)"><path d="M6.60 0.00L6.10 2.17L5.46 4.28L4.72 6.25L3.92 8.03L3.10 9.58L2.30 10.83L1.51 11.75L0.75 12.31L0.00 12.50L-0.75 12.31L-1.51 11.75L-2.30 10.83L-3.10 9.58L-3.92 8.03L-4.72 6.25L-5.46 4.28L-6.10 2.17L-6.60 0.00L-6.89 -2.17L-6.94 -4.28L-6.72 -6.25L-6.19 -8.03L-5.38 -9.58L-4.30 -10.83L-3.00 -11.75L-1.54 -12.31L-0.00 -12.50L1.54 -12.31L3.00 -11.75L4.30 -10.83L5.38 -9.58L6.19 -8.03L6.72 -6.25L6.94 -4.28L6.89 -2.17Z" fill="#d6d6d6" stroke="#909090" stroke-width="0.6"/><path transform="translate(0 -0.36)" d="M5.70 0.00L5.27 1.87L4.71 3.69L4.07 5.39L3.38 6.93L2.68 8.26L1.98 9.34L1.31 10.14L0.65 10.62L0.00 10.79L-0.65 10.62L-1.31 10.14L-1.98 9.34L-2.68 8.26L-3.38 6.93L-4.07 5.39L-4.71 3.69L-5.27 1.87L-5.70 0.00L-5.95 -1.87L-5.99 -3.69L-5.80 -5.39L-5.34 -6.93L-4.64 -8.26L-3.71 -9.34L-2.59 -10.14L-1.33 -10.62L-0.00 -10.79L1.33 -10.62L2.59 -10.14L3.71 -9.34L4.64 -8.26L5.34 -6.93L5.80 -5.39L5.99 -3.69L5.95 -1.87Z" fill="none" stroke="#a0a0a0" stroke-width="0.45"/><path transform="translate(0 -0.72)" d="M4.79 0.00L4.43 1.58L3.96 3.10L3.42 4.54L2.84 5.83L2.25 6.95L1.67 7.86L1.10 8.53L0.55 8.94L0.00 9.08L-0.55 8.94L-1.10 8.53L-1.67 7.86L-2.25 6.95L-2.84 5.83L-3.42 4.54L-3.96 3.10L-4.43 1.58L-4.79 0.00L-5.01 -1.58L-5.04 -3.10L-4.88 -4.54L-4.50 -5.83L-3.91 -6.95L-3.12 -7.86L-2.18 -8.53L-1.12 -8.94L-0.00 -9.08L1.12 -8.94L2.18 -8.53L3.12 -7.86L3.91 -6.95L4.50 -5.83L4.88 -4.54L5.04 -3.10L5.01 -1.58Z" fill="none" stroke="#a0a0a0" stroke-width="0.45"/><path transform="translate(0 -1.08)" d="M3.89 0.00L3.60 1.28L3.22 2.52L2.78 3.68L2.31 4.73L1.83 5.64L1.35 6.38L0.89 6.92L0.44 7.25L0.00 7.36L-0.44 7.25L-0.89 6.92L-1.35 6.38L-1.83 5.64L-2.31 4.73L-2.78 3.68L-3.22 2.52L-3.60 1.28L-3.89 0.00L-4.06 -1.28L-4.09 -2.52L-3.96 -3.68L-3.65 -4.73L-3.17 -5.64L-2.53 -6.38L-1.77 -6.92L-0.91 -7.25L-0.00 -7.36L0.91 -7.25L1.77 -6.92L2.53 -6.38L3.17 -5.64L3.65 -4.73L3.96 -3.68L4.09 -2.52L4.06 -1.28Z" fill="none" stroke="#a0a0a0" stroke-width="0.45"/><path transform="translate(0 -1.44)" d="M2.98 0.00L2.76 0.98L2.47 1.93L2.13 2.83L1.77 3.63L1.40 4.33L1.04 4.89L0.68 5.31L0.34 5.56L0.00 5.65L-0.34 5.56L-0.68 5.31L-1.04 4.89L-1.40 4.33L-1.77 3.63L-2.13 2.83L-2.47 1.93L-2.76 0.98L-2.98 0.00L-3.12 -0.98L-3.14 -1.93L-3.04 -2.83L-2.80 -3.63L-2.43 -4.33L-1.94 -4.89L-1.36 -5.31L-0.70 -5.56L-0.00 -5.65L0.70 -5.56L1.36 -5.31L1.94 -4.89L2.43 -4.33L2.80 -3.63L3.04 -2.83L3.14 -1.93L3.12 -0.98Z" fill="none" stroke="#a0a0a0" stroke-width="0.45"/><path transform="translate(0 -1.80)" d="M2.08 0.00L1.92 0.68L1.72 1.35L1.49 1.97L1.23 2.53L0.98 3.02L0.72 3.41L0.48 3.70L0.24 3.88L0.00 3.94L-0.24 3.88L-0.48 3.70L-0.72 3.41L-0.98 3.02L-1.23 2.53L-1.49 1.97L-1.72 1.35L-1.92 0.68L-2.08 0.00L-2.17 -0.68L-2.19 -1.35L-2.12 -1.97L-1.95 -2.53L-1.70 -3.02L-1.35 -3.41L-0.95 -3.70L-0.49 -3.88L-0.00 -3.94L0.49 -3.88L0.95 -3.70L1.35 -3.41L1.70 -3.02L1.95 -2.53L2.12 -1.97L2.19 -1.35L2.17 -0.68Z" fill="none" stroke="#a0a0a0" stroke-width="0.45"/><path transform="translate(0 -2.16)" d="M1.18 0.00L1.09 0.39L0.97 0.76L0.84 1.11L0.70 1.43L0.55 1.71L0.41 1.93L0.27 2.09L0.13 2.19L0.00 2.23L-0.13 2.19L-0.27 2.09L-0.41 1.93L-0.55 1.71L-0.70 1.43L-0.84 1.11L-0.97 0.76L-1.09 0.39L-1.18 0.00L-1.23 -0.39L-1.24 -0.76L-1.20 -1.11L-1.10 -1.43L-0.96 -1.71L-0.77 -1.93L-0.53 -2.09L-0.27 -2.19L-0.00 -2.23L0.27 -2.19L0.53 -2.09L0.77 -1.93L0.96 -1.71L1.10 -1.43L1.20 -1.11L1.24 -0.76L1.23 -0.39Z" fill="none" stroke="#a0a0a0" stroke-width="0.45"/><ellipse cy="-2.19" rx="1.19" ry="2.02" fill="#fafafa"/></g>
<g transform="translate(343.7 459.8) rotate(0)"><path d="M7.40 0.00L7.67 2.22L7.67 4.38L7.37 6.40L6.76 8.23L5.85 9.81L4.66 11.09L3.24 12.03L1.66 12.61L0.00 12.80L-1.66 12.61L-3.24 12.03L-4.66 11.09L-5.85 9.81L-6.76 8.23L-7.37 6.40L-7.67 4.38L-7.67 2.22L-7.40 0.00L-6.91 -2.22L-6.24 -4.38L-5.45 -6.40L-4.58 -8.23L-3.66 -9.81L-2.74 -11.09L-1.82 -12.03L-0.91 -12.61L-0.00 -12.80L0.91 -12.61L1.82 -12.03L2.74 -11.09L3.66 -9.81L4.58 -8.23L5.45 -6.40L6.24 -4.38L6.91 -2.22Z" fill="#d6d6d6" stroke="#909090" stroke-width="0.6"/><path transform="translate(0 0.32)" d="M6.39 0.00L6.62 1.92L6.62 3.78L6.36 5.52L5.84 7.10L5.05 8.46L4.02 9.57L2.80 10.38L1.44 10.88L0.00 11.05L-1.44 10.88L-2.80 10.38L-4.02 9.57L-5.05 8.46L-5.84 7.10L-6.36 5.52L-6.62 3.78L-6.62 1.92L-6.39 0.00L-5.96 -1.92L-5.39 -3.78L-4.70 -5.52L-3.95 -7.10L-3.16 -8.46L-2.36 -9.57L-1.57 -10.38L-0.78 -10.88L-0.00 -11.05L0.78 -10.88L1.57 -10.38L2.36 -9.57L3.16 -8.46L3.95 -7.10L4.70 -5.52L5.39 -3.78L5.96 -1.92Z" fill="none" stroke="#a0a0a0" stroke-width="0.45"/><path transform="translate(0 0.63)" d="M5.37 0.00L5.57 1.61L5.57 3.18L5.35 4.65L4.91 5.97L4.25 7.12L3.38 8.05L2.36 8.73L1.21 9.15L0.00 9.29L-1.21 9.15L-2.36 8.73L-3.38 8.05L-4.25 7.12L-4.91 5.97L-5.35 4.65L-5.57 3.18L-5.57 1.61L-5.37 0.00L-5.02 -1.61L-4.53 -3.18L-3.95 -4.65L-3.32 -5.97L-2.66 -7.12L-1.99 -8.05L-1.32 -8.73L-0.66 -9.15L-0.00 -9.29L0.66 -9.15L1.32 -8.73L1.99 -8.05L2.66 -7.12L3.32 -5.97L3.95 -4.65L4.53 -3.18L5.02 -1.61Z" fill="none" stroke="#a0a0a0" stroke-width="0.45"/><path transform="translate(0 0.95)" d="M4.36 0.00L4.52 1.31L4.52 2.58L4.34 3.77L3.98 4.85L3.45 5.78L2.75 6.53L1.91 7.09L0.98 7.43L0.00 7.54L-0.98 7.43L-1.91 7.09L-2.75 6.53L-3.45 5.78L-3.98 4.85L-4.34 3.77L-4.52 2.58L-4.52 1.31L-4.36 0.00L-4.07 -1.31L-3.68 -2.58L-3.21 -3.77L-2.70 -4.85L-2.16 -5.78L-1.61 -6.53L-1.07 -7.09L-0.53 -7.43L-0.00 -7.54L0.53 -7.43L1.07 -7.09L1.61 -6.53L2.16 -5.78L2.70 -4.85L3.21 -3.77L3.68 -2.58L4.07 -1.31Z" fill="none" stroke="#a0a0a0" stroke-width="0.45"/><path transform="translate(0 1.26)" d="M3.35 0.00L3.47 1.00L3.47 1.98L3.33 2.89L3.06 3.72L2.64 4.43L2.11 5.01L1.47 5.44L0.75 5.70L0.00 5.79L-0.75 5.70L-1.47 5.44L-2.11 5.01L-2.64 4.43L-3.06 3.72L-3.33 2.89L-3.47 1.98L-3.47 1.00L-3.35 0.00L-3.12 -1.00L-2.82 -1.98L-2.46 -2.89L-2.07 -3.72L-1.66 -4.43L-1.24 -5.01L-0.82 -5.44L-0.41 -5.70L-0.00 -5.79L0.41 -5.70L0.82 -5.44L1.24 -5.01L1.66 -4.43L2.07 -3.72L2.46 -2.89L2.82 -1.98L3.12 -1.00Z" fill="none" stroke="#a0a0a0" stroke-width="0.45"/><path transform="translate(0 1.58)" d="M2.33 0.00L2.42 0.70L2.42 1.38L2.32 2.02L2.13 2.59L1.84 3.09L1.47 3.49L1.02 3.79L0.52 3.97L0.00 4.03L-0.52 3.97L-1.02 3.79L-1.47 3.49L-1.84 3.09L-2.13 2.59L-2.32 2.02L-2.42 1.38L-2.42 0.70L-2.33 0.00L-2.18 -0.70L-1.97 -1.38L-1.72 -2.02L-1.44 -2.59L-1.15 -3.09L-0.86 -3.49L-0.57 -3.79L-0.29 -3.97L-0.00 -4.03L0.29 -3.97L0.57 -3.79L0.86 -3.49L1.15 -3.09L1.44 -2.59L1.72 -2.02L1.97 -1.38L2.18 -0.70Z" fill="none" stroke="#a0a0a0" stroke-width="0.45"/><path transform="translate(0 1.89)" d="M1.32 0.00L1.37 0.40L1.37 0.78L1.31 1.14L1.20 1.47L1.04 1.75L0.83 1.97L0.58 2.14L0.30 2.24L0.00 2.28L-0.30 2.24L-0.58 2.14L-0.83 1.97L-1.04 1.75L-1.20 1.47L-1.31 1.14L-1.37 0.78L-1.37 0.40L-1.32 0.00L-1.23 -0.40L-1.11 -0.78L-0.97 -1.14L-0.81 -1.47L-0.65 -1.75L-0.49 -1.97L-0.32 -2.14L-0.16 -2.24L-0.00 -2.28L0.16 -2.24L0.32 -2.14L0.49 -1.97L0.65 -1.75L0.81 -1.47L0.97 -1.14L1.11 -0.78L1.23 -0.40Z" fill="none" stroke="#a0a0a0" stroke-width="0.45"/><ellipse cy="1.92" rx="1.33" ry="2.07" fill="#fafafa"/></g>
<path d="M460.1 434.3h0.6M457.8 450.1h0.6M467.4 434.9h0.6M465.8 429.4h0.6M467.1 443.6h0.6M464.6 450.9h0.6M472.4 451.2h0.6M461.3 450.4h0.6M467.2 455.8h0.6M471.0 436.6h0.6M458.3 457.1h0.6M458.6 454.6h0.6M480.4 465.9h0.6M456.7 436.6h0.6M467.2 444.2h0.6M469.0 451.7h0.6M466.9 456.1h0.6M456.2 464.4h0.6M457.0 435.7h0.6M451.3 448.3h0.6M467.3 442.9h0.6M458.2 417.4h0.6M468.2 431.9h0.6M462.9 451.7h0.6M464.6 454.1h0.6M474.4 458.3h0.6M459.3 447.7h0.6M463.7 436.1h0.6M468.7 442.8h0.6M466.4 457.4h0.6M476.9 439.7h0.6M469.1 478.7h0.6M474.1 452.6h0.6M460.8 450.6h0.6M461.5 442.4h0.6M455.2 444.2h0.6M453.6 462.3h0.6M468.0 442.5h0.6M465.2 450.0h0.6M463.6 452.4h0.6M464.0 454.7h0.6M460.4 449.3h0.6M474.6 436.9h0.6M460.4 461.7h0.6M466.8 450.5h0.6M466.1 442.6h0.6M462.0 455.6h0.6M466.0 457.5h0.6M467.6 480.0h0.6M465.5 468.3h0.6M465.9 480.3h0.6M470.6 437.7h0.6M474.1 440.4h0.6M470.8 437.7h0.6M467.1 450.6h0.6M473.2 418.0h0.6M454.1 462.4h0.6M469.3 441.2h0.6M465.6 423.7h0.6M462.9 439.1h0.6M470.1 452.0h0.6M464.1 464.9h0.6M461.3 459.3h0.6M463.7 455.0h0.6M463.4 468.4h0.6M462.6 477.1h0.6M469.6 436.8h0.6M462.5 467.5h0.6M473.5 431.4h0.6M466.0 457.4h0.6M478.7 458.1h0.6M463.9 461.8h0.6M465.5 436.4h0.6M464.8 445.5h0.6M463.8 449.8h0.6M467.1 437.6h0.6M468.9 426.4h0.6M468.9 455.6h0.6M467.5 427.5h0.6M462.2 451.6h0.6M467.7 459.3h0.6M456.3 449.0h0.6M471.3 432.3h0.6M458.1 442.1h0.6M463.5 445.0h0.6M472.2 452.7h0.6M454.1 459.9h0.6M465.6 460.9h0.6M464.9 468.4h0.6M465.9 441.9h0.6M458.2 461.9h0.6M464.3 424.1h0.6M469.9 467.2h0.6M453.1 456.9h0.6M468.8 473.2h0.6M472.1 438.3h0.6M467.7 459.3h0.6M456.6 469.3h0.6M467.9 460.8h0.6M460.0 460.6h0.6M464.8 444.5h0.6M465.3 453.8h0.6M456.3 448.9h0.6M467.2 426.1h0.6M474.8 485.3h0.6M468.9 448.9h0.6M459.1 433.3h0.6M458.0 461.5h0.6M460.0 451.6h0.6M462.5 461.7h0.6M472.4 461.9h0.6M468.9 464.1h0.6M474.9 436.7h0.6M466.6 439.8h0.6M465.3 445.9h0.6M465.7 459.1h0.6M457.6 412.3h0.6M466.6 464.0h0.6M462.8 469.9h0.6M478.0 450.0h0.6M463.8 456.3h0.6M469.5 427.9h0.6M467.9 420.1h0.6M458.9 452.2h0.6M466.9 432.2h0.6M465.3 467.3h0.6M455.6 457.0h0.6M472.4 430.1h0.6M471.9 455.4h0.6M463.3 449.4h0.6M464.8 449.6h0.6M463.9 438.7h0.6M470.3 473.2h0.6M463.9 469.2h0.6M460.6 431.0h0.6M468.7 452.5h0.6M467.7 435.5h0.6M462.8 463.5h0.6M474.2 452.8h0.6M467.3 411.9h0.6M461.3 467.6h0.6M476.0 437.5h0.6M450.5 456.3h0.6M457.5 443.2h0.6M461.6 443.9h0.6M459.5 458.4h0.6M466.8 430.5h0.6M455.9 478.7h0.6M468.3 452.1h0.6M455.3 479.8h0.6M459.1 450.9h0.6M466.9 438.9h0.6M465.7 442.7h0.6M453.2 429.6h0.6M461.4 441.7h0.6M467.5 472.6h0.6M463.6 480.1h0.6M462.5 450.8h0.6M463.7 425.3h0.6M464.6 446.2h0.6M460.2 459.8h0.6M467.3 444.8h0.6M459.9 453.5h0.6M460.4 437.1h0.6M462.1 462.6h0.6M463.3 446.9h0.6M463.1 457.7h0.6M464.0 461.0h0.6M464.1 461.2h0.6M463.2 438.6h0.6M467.3 446.3h0.6M462.3 469.7h0.6M462.1 438.2h0.6M463.0 469.7h0.6M457.3 465.8h0.6M467.9 443.6h0.6M463.0 438.9h0.6M453.3 436.1h0.6M456.9 426.5h0.6M462.4 457.7h0.6M459.5 444.6h0.6M460.5 446.4h0.6M467.1 466.5h0.6M468.3 454.6h0.6M472.7 459.5h0.6M467.6 457.4h0.6M469.5 434.7h0.6M459.8 450.6h0.6M454.7 445.5h0.6M462.9 453.9h0.6M468.8 467.9h0.6M451.3 452.4h0.6M466.7 469.8h0.6M461.2 455.3h0.6M463.9 436.0h0.6M466.2 463.0h0.6M462.8 450.7h0.6M471.0 446.7h0.6M463.0 453.5h0.6M467.3 455.1h0.6M471.8 455.7h0.6M457.9 426.3h0.6M464.2 473.2h0.6M465.0 443.2h0.6M466.3 456.9h0.6M471.8 431.2h0.6M469.1 452.0h0.6M469.4 464.7h0.6M452.0 462.5h0.6M467.6 438.2h0.6M464.0 464.4h0.6M456.1 461.9h0.6M469.3 474.3h0.6M459.9 440.6h0.6M470.4 445.4h0.6M467.0 412.3h0.6M478.4 422.9h0.6M455.3 456.5h0.6M467.5 437.8h0.6M452.1 457.2h0.6M466.0 436.3h0.6M465.4 441.1h0.6M458.9 459.3h0.6M464.7 449.9h0.6M457.6 439.3h0.6M463.1 440.8h0.6M466.6 449.8h0.6M463.4 446.9h0.6M467.0 463.8h0.6M458.5 463.0h0.6M469.8 460.6h0.6M461.5 452.3h0.6M476.7 430.4h0.6M469.5 445.6h0.6M474.2 451.3h0.6M469.5 440.5h0.6M461.8 472.3h0.6M457.4 441.9h0.6M463.2 431.5h0.6M468.2 431.8h0.6M464.9 445.9h0.6M452.1 451.5h0.6M455.8 449.7h0.6M451.3 441.7h0.6M469.3 453.3h0.6M471.1 472.5h0.6M468.9 446.6h0.6M464.0 458.3h0.6M457.6 434.5h0.6M464.6 474.2h0.6M458.3 452.9h0.6M460.6 459.6h0.6M466.7 448.8h0.6M469.9 445.7h0.6M455.1 479.3h0.6M464.0 453.7h0.6M469.1 437.7h0.6M462.0 438.5h0.6M468.0 455.0h0.6M465.8 430.7h0.6M460.0 428.6h0.6M456.9 438.7h0.6M466.3 456.4h0.6M454.4 458.3h0.6M466.7 472.0h0.6M469.5 427.8h0.6M467.4 452.6h0.6M466.5 438.8h0.6M472.9 450.7h0.6M461.3 423.4h0.6M463.2 429.6h0.6M456.2 472.6h0.6M464.3 463.3h0.6M471.0 459.8h0.6M462.2 432.4h0.6M463.7 451.0h0.6M463.8 444.9h0.6M465.5 428.6h0.6M470.7 432.3h0.6M465.3 436.6h0.6M472.4 441.2h0.6M459.4 443.9h0.6M469.7 431.5h0.6M457.2 441.6h0.6M470.0 481.7h0.6M463.7 462.6h0.6M463.9 422.5h0.6M462.2 458.1h0.6M458.3 445.0h0.6M460.9 454.8h0.6M478.9 450.4h0.6M457.2 473.2h0.6M463.0 443.2h0.6M467.5 460.2h0.6M465.9 454.2h0.6M465.7 431.8h0.6M469.2 461.8h0.6M460.2 423.9h0.6M461.2 451.8h0.6M472.8 452.4h0.6M445.9 440.2h0.6M465.0 452.7h0.6M455.9 444.0h0.6M465.5 459.2h0.6M469.4 473.0h0.6M460.7 442.9h0.6M462.1 456.3h0.6M476.2 451.8h0.6M465.6 435.9h0.6M457.3 474.9h0.6M464.2 469.7h0.6M469.4 442.0h0.6M466.1 436.0h0.6M468.3 447.0h0.6M469.2 467.2h0.6M461.3 460.8h0.6M467.2 441.5h0.6M466.3 467.2h0.6M465.6 463.3h0.6M466.7 467.5h0.6M453.6 439.3h0.6M450.6 481.7h0.6M448.9 489.0h0.6M467.0 435.5h0.6M448.8 455.8h0.6M461.6 486.7h0.6M466.4 430.7h0.6M461.3 435.2h0.6M462.9 457.4h0.6M465.8 444.8h0.6M461.0 417.8h0.6M447.1 458.4h0.6M455.4 466.9h0.6M472.5 432.6h0.6M445.5 422.6h0.6M449.8 473.3h0.6M457.6 439.9h0.6M459.9 442.9h0.6M456.7 446.3h0.6M444.2 465.3h0.6M455.4 433.0h0.6M456.1 430.1h0.6M454.4 438.2h0.6M457.3 425.6h0.6M453.8 437.2h0.6M447.1 445.0h0.6M460.1 463.3h0.6M457.1 444.0h0.6M462.1 440.2h0.6M445.4 429.9h0.6M463.5 440.5h0.6M458.3 421.4h0.6M467.6 486.9h0.6M454.8 431.3h0.6M456.7 441.0h0.6M450.8 411.4h0.6M470.3 417.1h0.6M451.7 455.0h0.6M452.3 452.1h0.6M462.0 431.9h0.6M458.8 443.5h0.6M444.5 453.0h0.6M446.4 470.2h0.6M454.8 450.4h0.6M462.6 427.3h0.6M448.6 479.3h0.6M460.4 456.3h0.6M439.2 446.9h0.6M447.4 432.4h0.6M442.0 408.6h0.6M451.4 455.0h0.6M450.8 442.2h0.6M455.4 477.2h0.6M450.2 449.3h0.6M476.4 445.6h0.6M461.3 418.9h0.6M446.5 435.9h0.6M479.0 431.8h0.6M465.9 434.7h0.6M456.1 470.5h0.6M448.6 436.9h0.6M446.1 429.4h0.6M462.9 433.7h0.6M446.6 460.2h0.6M456.9 445.1h0.6M471.2 453.0h0.6M464.0 417.6h0.6M454.3 475.3h0.6M460.8 467.2h0.6M443.1 439.7h0.6M468.2 479.8h0.6M465.8 464.4h0.6M455.6 464.5h0.6M464.7 423.7h0.6M463.4 464.4h0.6M450.7 482.7h0.6M465.1 466.6h0.6M451.2 452.5h0.6M454.7 484.4h0.6M474.6 426.3h0.6M471.1 456.2h0.6M449.4 429.3h0.6M467.3 453.4h0.6M449.6 441.6h0.6M451.8 443.0h0.6M469.5 430.2h0.6M459.0 467.8h0.6M471.6 431.7h0.6M452.5 436.8h0.6M444.9 445.9h0.6M448.6 440.8h0.6M456.2 463.4h0.6M457.7 458.1h0.6M459.2 443.7h0.6M462.8 449.5h0.6M444.0 433.8h0.6M467.0 408.9h0.6M469.3 448.6h0.6M457.1 474.6h0.6M456.8 435.0h0.6M437.1 431.7h0.6M445.4 462.0h0.6M455.8 424.2h0.6M464.6 466.3h0.6M473.2 452.0h0.6M444.9 448.2h0.6M461.2 466.3h0.6M444.2 456.8h0.6M460.5 455.0h0.6M441.7 435.3h0.6M454.0 440.6h0.6M462.5 436.9h0.6M458.9 427.2h0.6M454.7 471.2h0.6M450.7 445.0h0.6M443.2 418.0h0.6M459.8 472.5h0.6M449.6 441.4h0.6M457.7 435.6h0.6M455.6 436.6h0.6M459.9 433.9h0.6M451.1 414.3h0.6M448.7 411.5h0.6M453.9 468.5h0.6M444.4 426.0h0.6M448.7 456.2h0.6M452.5 438.1h0.6M447.2 439.4h0.6M452.1 427.1h0.6M466.6 456.8h0.6M453.7 452.6h0.6M473.8 459.6h0.6M450.6 444.8h0.6M464.4 456.0h0.6M452.7 447.7h0.6M445.8 438.1h0.6M451.6 439.9h0.6M466.2 446.2h0.6M464.5 445.3h0.6M442.7 473.2h0.6M450.6 442.7h0.6M464.1 477.3h0.6M456.3 474.4h0.6M451.0 460.1h0.6M447.6 467.7h0.6M450.4 460.3h0.6M445.2 478.2h0.6M468.4 439.4h0.6M455.5 423.5h0.6M453.4 412.4h0.6" stroke="#222" stroke-width="0.6" fill="none" stroke-opacity="0.8"/>
<g transform="translate(449.3 427.5) rotate(0)"><path d="M6.60 0.00L6.10 2.26L5.46 4.45L4.72 6.50L3.92 8.36L3.10 9.96L2.30 11.26L1.51 12.22L0.75 12.80L0.00 13.00L-0.75 12.80L-1.51 12.22L-2.30 11.26L-3.10 9.96L-3.92 8.36L-4.72 6.50L-5.46 4.45L-6.10 2.26L-6.60 0.00L-6.89 -2.26L-6.94 -4.45L-6.72 -6.50L-6.19 -8.36L-5.38 -9.96L-4.30 -11.26L-3.00 -12.22L-1.54 -12.80L-0.00 -13.00L1.54 -12.80L3.00 -12.22L4.30 -11.26L5.38 -9.96L6.19 -8.36L6.72 -6.50L6.94 -4.45L6.89 -2.26Z" fill="#d4d4d4" stroke="#555" stroke-width="0.6"/><path transform="translate(0 -0.37)" d="M5.70 0.00L5.27 1.95L4.71 3.84L4.07 5.61L3.38 7.21L2.68 8.59L1.98 9.72L1.31 10.54L0.65 11.05L0.00 11.22L-0.65 11.05L-1.31 10.54L-1.98 9.72L-2.68 8.59L-3.38 7.21L-4.07 5.61L-4.71 3.84L-5.27 1.95L-5.70 0.00L-5.95 -1.95L-5.99 -3.84L-5.80 -5.61L-5.34 -7.21L-4.64 -8.59L-3.71 -9.72L-2.59 -10.54L-1.33 -11.05L-0.00 -11.22L1.33 -11.05L2.59 -10.54L3.71 -9.72L4.64 -8.59L5.34 -7.21L5.80 -5.61L5.99 -3.84L5.95 -1.95Z" fill="none" stroke="#989898" stroke-width="0.45"/><path transform="translate(0 -0.75)" d="M4.79 0.00L4.43 1.64L3.96 3.23L3.42 4.72L2.84 6.07L2.25 7.23L1.67 8.17L1.10 8.87L0.55 9.29L0.00 9.44L-0.55 9.29L-1.10 8.87L-1.67 8.17L-2.25 7.23L-2.84 6.07L-3.42 4.72L-3.96 3.23L-4.43 1.64L-4.79 0.00L-5.01 -1.64L-5.04 -3.23L-4.88 -4.72L-4.50 -6.07L-3.91 -7.23L-3.12 -8.17L-2.18 -8.87L-1.12 -9.29L-0.00 -9.44L1.12 -9.29L2.18 -8.87L3.12 -8.17L3.91 -7.23L4.50 -6.07L4.88 -4.72L5.04 -3.23L5.01 -1.64Z" fill="none" stroke="#989898" stroke-width="0.45"/><path transform="translate(0 -1.12)" d="M3.89 0.00L3.60 1.33L3.22 2.62L2.78 3.83L2.31 4.92L1.83 5.87L1.35 6.63L0.89 7.20L0.44 7.54L0.00 7.66L-0.44 7.54L-0.89 7.20L-1.35 6.63L-1.83 5.87L-2.31 4.92L-2.78 3.83L-3.22 2.62L-3.60 1.33L-3.89 0.00L-4.06 -1.33L-4.09 -2.62L-3.96 -3.83L-3.65 -4.92L-3.17 -5.87L-2.53 -6.63L-1.77 -7.20L-0.91 -7.54L-0.00 -7.66L0.91 -7.54L1.77 -7.20L2.53 -6.63L3.17 -5.87L3.65 -4.92L3.96 -3.83L4.09 -2.62L4.06 -1.33Z" fill="none" stroke="#989898" stroke-width="0.45"/><path transform="translate(0 -1.50)" d="M2.98 0.00L2.76 1.02L2.47 2.01L2.13 2.94L1.77 3.78L1.40 4.50L1.04 5.09L0.68 5.52L0.34 5.79L0.00 5.88L-0.34 5.79L-0.68 5.52L-1.04 5.09L-1.40 4.50L-1.77 3.78L-2.13 2.94L-2.47 2.01L-2.76 1.02L-2.98 0.00L-3.12 -1.02L-3.14 -2.01L-3.04 -2.94L-2.80 -3.78L-2.43 -4.50L-1.94 -5.09L-1.36 -5.52L-0.70 -5.79L-0.00 -5.88L0.70 -5.79L1.36 -5.52L1.94 -5.09L2.43 -4.50L2.80 -3.78L3.04 -2.94L3.14 -2.01L3.12 -1.02Z" fill="none" stroke="#989898" stroke-width="0.45"/><path transform="translate(0 -1.87)" d="M2.08 0.00L1.92 0.71L1.72 1.40L1.49 2.05L1.23 2.63L0.98 3.14L0.72 3.55L0.48 3.85L0.24 4.03L0.00 4.10L-0.24 4.03L-0.48 3.85L-0.72 3.55L-0.98 3.14L-1.23 2.63L-1.49 2.05L-1.72 1.40L-1.92 0.71L-2.08 0.00L-2.17 -0.71L-2.19 -1.40L-2.12 -2.05L-1.95 -2.63L-1.70 -3.14L-1.35 -3.55L-0.95 -3.85L-0.49 -4.03L-0.00 -4.10L0.49 -4.03L0.95 -3.85L1.35 -3.55L1.70 -3.14L1.95 -2.63L2.12 -2.05L2.19 -1.40L2.17 -0.71Z" fill="none" stroke="#989898" stroke-width="0.45"/><path transform="translate(0 -2.24)" d="M1.18 0.00L1.09 0.40L0.97 0.79L0.84 1.16L0.70 1.49L0.55 1.77L0.41 2.00L0.27 2.18L0.13 2.28L0.00 2.32L-0.13 2.28L-0.27 2.18L-0.41 2.00L-0.55 1.77L-0.70 1.49L-0.84 1.16L-0.97 0.79L-1.09 0.40L-1.18 0.00L-1.23 -0.40L-1.24 -0.79L-1.20 -1.16L-1.10 -1.49L-0.96 -1.77L-0.77 -2.00L-0.53 -2.18L-0.27 -2.28L-0.00 -2.32L0.27 -2.28L0.53 -2.18L0.77 -2.00L0.96 -1.77L1.10 -1.49L1.20 -1.16L1.24 -0.79L1.23 -0.40Z" fill="none" stroke="#989898" stroke-width="0.45"/><ellipse cy="-2.27" rx="1.19" ry="2.11" fill="#fafafa"/></g>
<g transform="translate(449.3 459.0) rotate(0)"><path d="M7.40 0.00L7.67 2.26L7.67 4.45L7.37 6.50L6.76 8.36L5.85 9.96L4.66 11.26L3.24 12.22L1.66 12.80L0.00 13.00L-1.66 12.80L-3.24 12.22L-4.66 11.26L-5.85 9.96L-6.76 8.36L-7.37 6.50L-7.67 4.45L-7.67 2.26L-7.40 0.00L-6.91 -2.26L-6.24 -4.45L-5.45 -6.50L-4.58 -8.36L-3.66 -9.96L-2.74 -11.26L-1.82 -12.22L-0.91 -12.80L-0.00 -13.00L0.91 -12.80L1.82 -12.22L2.74 -11.26L3.66 -9.96L4.58 -8.36L5.45 -6.50L6.24 -4.45L6.91 -2.26Z" fill="#d4d4d4" stroke="#555" stroke-width="0.6"/><path transform="translate(0 0.32)" d="M6.39 0.00L6.62 1.95L6.62 3.84L6.36 5.61L5.84 7.21L5.05 8.59L4.02 9.72L2.80 10.54L1.44 11.05L0.00 11.22L-1.44 11.05L-2.80 10.54L-4.02 9.72L-5.05 8.59L-5.84 7.21L-6.36 5.61L-6.62 3.84L-6.62 1.95L-6.39 0.00L-5.96 -1.95L-5.39 -3.84L-4.70 -5.61L-3.95 -7.21L-3.16 -8.59L-2.36 -9.72L-1.57 -10.54L-0.78 -11.05L-0.00 -11.22L0.78 -11.05L1.57 -10.54L2.36 -9.72L3.16 -8.59L3.95 -7.21L4.70 -5.61L5.39 -3.84L5.96 -1.95Z" fill="none" stroke="#989898" stroke-width="0.45"/><path transform="translate(0 0.64)" d="M5.37 0.00L5.57 1.64L5.57 3.23L5.35 4.72L4.91 6.07L4.25 7.23L3.38 8.17L2.36 8.87L1.21 9.29L0.00 9.44L-1.21 9.29L-2.36 8.87L-3.38 8.17L-4.25 7.23L-4.91 6.07L-5.35 4.72L-5.57 3.23L-5.57 1.64L-5.37 0.00L-5.02 -1.64L-4.53 -3.23L-3.95 -4.72L-3.32 -6.07L-2.66 -7.23L-1.99 -8.17L-1.32 -8.87L-0.66 -9.29L-0.00 -9.44L0.66 -9.29L1.32 -8.87L1.99 -8.17L2.66 -7.23L3.32 -6.07L3.95 -4.72L4.53 -3.23L5.02 -1.64Z" fill="none" stroke="#989898" stroke-width="0.45"/><path transform="translate(0 0.96)" d="M4.36 0.00L4.52 1.33L4.52 2.62L4.34 3.83L3.98 4.92L3.45 5.87L2.75 6.63L1.91 7.20L0.98 7.54L0.00 7.66L-0.98 7.54L-1.91 7.20L-2.75 6.63L-3.45 5.87L-3.98 4.92L-4.34 3.83L-4.52 2.62L-4.52 1.33L-4.36 0.00L-4.07 -1.33L-3.68 -2.62L-3.21 -3.83L-2.70 -4.92L-2.16 -5.87L-1.61 -6.63L-1.07 -7.20L-0.53 -7.54L-0.00 -7.66L0.53 -7.54L1.07 -7.20L1.61 -6.63L2.16 -5.87L2.70 -4.92L3.21 -3.83L3.68 -2.62L4.07 -1.33Z" fill="none" stroke="#989898" stroke-width="0.45"/><path transform="translate(0 1.28)" d="M3.35 0.00L3.47 1.02L3.47 2.01L3.33 2.94L3.06 3.78L2.64 4.50L2.11 5.09L1.47 5.52L0.75 5.79L0.00 5.88L-0.75 5.79L-1.47 5.52L-2.11 5.09L-2.64 4.50L-3.06 3.78L-3.33 2.94L-3.47 2.01L-3.47 1.02L-3.35 0.00L-3.12 -1.02L-2.82 -2.01L-2.46 -2.94L-2.07 -3.78L-1.66 -4.50L-1.24 -5.09L-0.82 -5.52L-0.41 -5.79L-0.00 -5.88L0.41 -5.79L0.82 -5.52L1.24 -5.09L1.66 -4.50L2.07 -3.78L2.46 -2.94L2.82 -2.01L3.12 -1.02Z" fill="none" stroke="#989898" stroke-width="0.45"/><path transform="translate(0 1.60)" d="M2.33 0.00L2.42 0.71L2.42 1.40L2.32 2.05L2.13 2.63L1.84 3.14L1.47 3.55L1.02 3.85L0.52 4.03L0.00 4.10L-0.52 4.03L-1.02 3.85L-1.47 3.55L-1.84 3.14L-2.13 2.63L-2.32 2.05L-2.42 1.40L-2.42 0.71L-2.33 0.00L-2.18 -0.71L-1.97 -1.40L-1.72 -2.05L-1.44 -2.63L-1.15 -3.14L-0.86 -3.55L-0.57 -3.85L-0.29 -4.03L-0.00 -4.10L0.29 -4.03L0.57 -3.85L0.86 -3.55L1.15 -3.14L1.44 -2.63L1.72 -2.05L1.97 -1.40L2.18 -0.71Z" fill="none" stroke="#989898" stroke-width="0.45"/><path transform="translate(0 1.92)" d="M1.32 0.00L1.37 0.40L1.37 0.79L1.31 1.16L1.20 1.49L1.04 1.77L0.83 2.00L0.58 2.18L0.30 2.28L0.00 2.32L-0.30 2.28L-0.58 2.18L-0.83 2.00L-1.04 1.77L-1.20 1.49L-1.31 1.16L-1.37 0.79L-1.37 0.40L-1.32 0.00L-1.23 -0.40L-1.11 -0.79L-0.97 -1.16L-0.81 -1.49L-0.65 -1.77L-0.49 -2.00L-0.32 -2.18L-0.16 -2.28L-0.00 -2.32L0.16 -2.28L0.32 -2.18L0.49 -2.00L0.65 -1.77L0.81 -1.49L0.97 -1.16L1.11 -0.79L1.23 -0.40Z" fill="none" stroke="#989898" stroke-width="0.45"/><ellipse cy="1.95" rx="1.33" ry="2.11" fill="#fafafa"/></g>
<path d="M319.6 436.1h-3.0M319.6 429.6h-1.9M319.6 425.8h-1.9M319.6 423.1h-1.9M319.6 421.0h-1.9M319.6 419.3h-1.9M319.6 417.8h-1.9M319.6 416.6h-1.9M319.6 415.5h-1.9M319.6 460.2h-3.0M319.6 452.9h-1.9M319.6 448.7h-1.9M319.6 445.7h-1.9M319.6 443.4h-1.9M319.6 441.4h-1.9M319.6 439.8h-1.9M319.6 438.4h-1.9M319.6 437.2h-1.9M319.6 414.5h-3.0M319.6 465.4h-1.9M319.6 470.5h-1.9M319.6 475.7h-3.0M319.6 480.9h-1.9M319.6 486.0h-1.9" stroke="#000" stroke-width="1.0"/>
<path d="M353.4 492.6v3.0M360.7 492.6v1.9M365.0 492.6v1.9M368.0 492.6v1.9M370.4 492.6v1.9M372.3 492.6v1.9M373.9 492.6v1.9M375.3 492.6v1.9M376.6 492.6v1.9M377.7 492.6v3.0M383.8 492.6v1.9M387.4 492.6v1.9M389.9 492.6v1.9M391.9 492.6v1.9M393.5 492.6v1.9M394.9 492.6v1.9M396.0 492.6v1.9M397.1 492.6v1.9M398.0 492.6v3.0M324.6 492.6v1.9M329.4 492.6v1.9M334.2 492.6v1.9M339.0 492.6v3.0M343.8 492.6v1.9M348.6 492.6v1.9" stroke="#000" stroke-width="1.0"/>
<line x1="353.80" y1="406.40" x2="353.80" y2="492.60" stroke="#444" stroke-width="0.95"/>
<line x1="319.60" y1="442.40" x2="406.30" y2="442.40" stroke="#444" stroke-width="0.95"/>
<rect x="319.6" y="406.4" width="86.7" height="86.2" fill="none" stroke="#000" stroke-width="1.25"/>
<text x="388.8" y="422.0" font-size="8.8" fill="#1a1a1a" text-anchor="middle" stroke="#1a1a1a" stroke-width="0.12">1.69</text>
<path d="M425.5 436.1h-3.0M425.5 429.6h-1.9M425.5 425.8h-1.9M425.5 423.1h-1.9M425.5 421.0h-1.9M425.5 419.3h-1.9M425.5 417.8h-1.9M425.5 416.6h-1.9M425.5 415.5h-1.9M425.5 460.2h-3.0M425.5 452.9h-1.9M425.5 448.7h-1.9M425.5 445.7h-1.9M425.5 443.4h-1.9M425.5 441.4h-1.9M425.5 439.8h-1.9M425.5 438.4h-1.9M425.5 437.2h-1.9M425.5 414.5h-3.0M425.5 465.4h-1.9M425.5 470.5h-1.9M425.5 475.7h-3.0M425.5 480.9h-1.9M425.5 486.0h-1.9" stroke="#000" stroke-width="1.0"/>
<path d="M459.3 493.0v3.0M466.6 493.0v1.9M470.9 493.0v1.9M473.9 493.0v1.9M476.3 493.0v1.9M478.2 493.0v1.9M479.8 493.0v1.9M481.2 493.0v1.9M482.5 493.0v1.9M483.6 493.0v3.0M489.7 493.0v1.9M493.3 493.0v1.9M495.8 493.0v1.9M497.8 493.0v1.9M499.4 493.0v1.9M500.8 493.0v1.9M501.9 493.0v1.9M503.0 493.0v1.9M503.9 493.0v3.0M430.5 493.0v1.9M435.3 493.0v1.9M440.1 493.0v1.9M444.9 493.0v3.0M449.7 493.0v1.9M454.5 493.0v1.9" stroke="#000" stroke-width="1.0"/>
<line x1="459.00" y1="406.60" x2="459.00" y2="493.00" stroke="#444" stroke-width="0.95"/>
<line x1="425.50" y1="442.80" x2="513.30" y2="442.80" stroke="#444" stroke-width="0.95"/>
<rect x="425.5" y="406.6" width="87.8" height="86.4" fill="none" stroke="#000" stroke-width="1.25"/>
<text x="494.4" y="422.4" font-size="8.8" fill="#1a1a1a" text-anchor="middle" stroke="#1a1a1a" stroke-width="0.12">3.35</text>
<text x="299.2" y="417.1" font-size="8.8" fill="#1a1a1a" textLength="9.3" lengthAdjust="spacingAndGlyphs" stroke="#1a1a1a" stroke-width="0.12">10</text>
<text x="308.9" y="413.8" font-size="6.8" fill="#1a1a1a" textLength="3.4" lengthAdjust="spacingAndGlyphs" stroke="#1a1a1a" stroke-width="0.12">5</text>
<text x="299.2" y="439.3" font-size="8.8" fill="#1a1a1a" textLength="9.3" lengthAdjust="spacingAndGlyphs" stroke="#1a1a1a" stroke-width="0.12">10</text>
<text x="308.9" y="436.0" font-size="6.8" fill="#1a1a1a" textLength="3.4" lengthAdjust="spacingAndGlyphs" stroke="#1a1a1a" stroke-width="0.12">4</text>
<text x="299.2" y="463.8" font-size="8.8" fill="#1a1a1a" textLength="9.3" lengthAdjust="spacingAndGlyphs" stroke="#1a1a1a" stroke-width="0.12">10</text>
<text x="308.9" y="460.5" font-size="6.8" fill="#1a1a1a" textLength="3.4" lengthAdjust="spacingAndGlyphs" stroke="#1a1a1a" stroke-width="0.12">3</text>
<text x="307.9" y="477.5" font-size="8.8" fill="#1a1a1a" textLength="4.3" lengthAdjust="spacingAndGlyphs" stroke="#1a1a1a" stroke-width="0.12">0</text>
<text x="336.9" y="507.6" font-size="8.8" fill="#1a1a1a" textLength="4.2" lengthAdjust="spacingAndGlyphs" stroke="#1a1a1a" stroke-width="0.12">0</text>
<text x="346.9" y="507.6" font-size="8.8" fill="#1a1a1a" textLength="9.4" lengthAdjust="spacingAndGlyphs" stroke="#1a1a1a" stroke-width="0.12">10</text>
<text x="356.7" y="504.2" font-size="6.8" fill="#1a1a1a" textLength="3.8" lengthAdjust="spacingAndGlyphs" stroke="#1a1a1a" stroke-width="0.12">3</text>
<text x="371.2" y="507.6" font-size="8.8" fill="#1a1a1a" textLength="9.4" lengthAdjust="spacingAndGlyphs" stroke="#1a1a1a" stroke-width="0.12">10</text>
<text x="381.0" y="504.2" font-size="6.8" fill="#1a1a1a" textLength="3.8" lengthAdjust="spacingAndGlyphs" stroke="#1a1a1a" stroke-width="0.12">4</text>
<text x="391.5" y="507.6" font-size="8.8" fill="#1a1a1a" textLength="9.4" lengthAdjust="spacingAndGlyphs" stroke="#1a1a1a" stroke-width="0.12">10</text>
<text x="401.3" y="504.2" font-size="6.8" fill="#1a1a1a" textLength="3.8" lengthAdjust="spacingAndGlyphs" stroke="#1a1a1a" stroke-width="0.12">5</text>
<text x="291.4" y="450.0" font-size="10.2" fill="#222" text-anchor="middle" textLength="75.0" lengthAdjust="spacingAndGlyphs" transform="rotate(-90 291.4 450.0)" stroke="#222" stroke-width="0.12">Granzyme B-BV421</text>
<text x="320.0" y="524.2" font-size="10.2" fill="#111" textLength="49.8" lengthAdjust="spacingAndGlyphs" stroke="#111" stroke-width="0.12">CD107a-APC</text>
<line x1="373.40" y1="520.50" x2="509.00" y2="520.50" stroke="#111" stroke-width="1.2"/>
<path d="M512.0 520.5l-6.2 -2.9l1.3 2.9l-1.3 2.9z" fill="#000"/>
<rect x="326.8" y="94.5" width="19.8" height="23.9" fill="#e8171e"/>
<rect x="357.4" y="63.4" width="19.6" height="55.0" fill="#3a4599"/>
<line x1="336.70" y1="94.45" x2="336.70" y2="85.18" stroke="#e8171e" stroke-width="1.0"/>
<line x1="333.10" y1="85.18" x2="340.30" y2="85.18" stroke="#e8171e" stroke-width="1.0"/>
<line x1="367.20" y1="63.40" x2="367.20" y2="51.81" stroke="#3a4599" stroke-width="1.0"/>
<line x1="363.60" y1="51.81" x2="370.80" y2="51.81" stroke="#3a4599" stroke-width="1.0"/>
<g fill="#fff" stroke="#e8171e" stroke-width="1.0"><circle cx="330.7" cy="82.9" r="2.6"/><circle cx="340.2" cy="84.9" r="2.6"/><circle cx="342.7" cy="92.1" r="2.6"/><circle cx="335.7" cy="91.7" r="2.6"/><circle cx="328.7" cy="96.8" r="2.6"/><circle cx="334.7" cy="96.5" r="2.6"/><circle cx="341.7" cy="95.2" r="2.6"/><circle cx="331.7" cy="101.4" r="2.6"/><circle cx="336.7" cy="101.1" r="2.6"/><circle cx="343.7" cy="102.2" r="2.6"/><circle cx="338.7" cy="99.1" r="2.6"/></g>
<g fill="#fff" stroke="#3a4599" stroke-width="1.0"><circle cx="363.7" cy="42.7" r="2.6"/><circle cx="367.7" cy="47.3" r="2.6"/><circle cx="366.2" cy="50.4" r="2.6"/><circle cx="369.7" cy="51.2" r="2.6"/><circle cx="361.7" cy="59.4" r="2.6"/><circle cx="369.7" cy="58.9" r="2.6"/><circle cx="359.7" cy="67.1" r="2.6"/><circle cx="364.7" cy="67.4" r="2.6"/><circle cx="371.7" cy="66.2" r="2.6"/><circle cx="374.7" cy="67.1" r="2.6"/><circle cx="364.2" cy="72.8" r="2.6"/><circle cx="367.7" cy="73.6" r="2.6"/><circle cx="367.2" cy="81.3" r="2.6"/></g>
<line x1="320.80" y1="25.10" x2="320.80" y2="119.00" stroke="#000" stroke-width="1.25"/>
<line x1="320.20" y1="118.40" x2="378.00" y2="118.40" stroke="#000" stroke-width="1.25"/>
<line x1="318.00" y1="118.40" x2="320.80" y2="118.40" stroke="#000" stroke-width="1.1"/>
<text x="313.8" y="121.5" font-size="8.9" fill="#1a1a1a" text-anchor="end" stroke="#1a1a1a" stroke-width="0.12">0</text>
<line x1="318.00" y1="87.50" x2="320.80" y2="87.50" stroke="#000" stroke-width="1.1"/>
<text x="313.8" y="90.6" font-size="8.9" fill="#1a1a1a" text-anchor="end" stroke="#1a1a1a" stroke-width="0.12">20</text>
<line x1="318.00" y1="56.60" x2="320.80" y2="56.60" stroke="#000" stroke-width="1.1"/>
<text x="313.8" y="59.7" font-size="8.9" fill="#1a1a1a" text-anchor="end" stroke="#1a1a1a" stroke-width="0.12">40</text>
<line x1="318.00" y1="25.70" x2="320.80" y2="25.70" stroke="#000" stroke-width="1.1"/>
<text x="313.8" y="28.8" font-size="8.9" fill="#1a1a1a" text-anchor="end" stroke="#1a1a1a" stroke-width="0.12">60</text>
<line x1="336.70" y1="118.40" x2="336.70" y2="120.90" stroke="#000" stroke-width="1.0"/>
<line x1="367.20" y1="118.40" x2="367.20" y2="120.90" stroke="#000" stroke-width="1.0"/>
<line x1="331.60" y1="32.20" x2="372.10" y2="32.20" stroke="#333" stroke-width="1.25"/>
<text x="331.1" y="26.4" font-size="8.5" fill="#1a1a1a" textLength="41.0" lengthAdjust="spacingAndGlyphs" stroke="#1a1a1a" stroke-width="0.12"><tspan font-style="italic">P</tspan> &lt; 0.0001</text>
<text x="320.3" y="133.6" font-size="8.9" fill="#e0333f" textLength="32.5" lengthAdjust="spacingAndGlyphs" stroke="#e0333f" stroke-width="0.12">Relapse</text>
<text x="360.9" y="133.6" font-size="8.9" fill="#50589c" textLength="12.7" lengthAdjust="spacingAndGlyphs" stroke="#50589c" stroke-width="0.12">No</text>
<text x="350.7" y="144.6" font-size="8.9" fill="#50589c" textLength="32.3" lengthAdjust="spacingAndGlyphs" stroke="#50589c" stroke-width="0.12">Relapse</text>
<text x="297.6" y="69.6" font-size="10.0" fill="#1a1a1a" text-anchor="middle" transform="rotate(-90 297.6 69.6)" textLength="68.2" lengthAdjust="spacingAndGlyphs" stroke="#1a1a1a" stroke-width="0.12">7-AAD<tspan font-size="7.8" dy="-3.6">+</tspan><tspan dy="3.6"> HL60 (%)</tspan></text>
<rect x="440.1" y="85.0" width="19.8" height="33.3" fill="#e8171e"/>
<rect x="471.0" y="63.2" width="19.8" height="55.1" fill="#3a4599"/>
<line x1="450.00" y1="84.99" x2="450.00" y2="80.39" stroke="#e8171e" stroke-width="1.0"/>
<line x1="446.40" y1="80.39" x2="453.60" y2="80.39" stroke="#e8171e" stroke-width="1.0"/>
<line x1="480.90" y1="63.16" x2="480.90" y2="56.27" stroke="#3a4599" stroke-width="1.0"/>
<line x1="477.30" y1="56.27" x2="484.50" y2="56.27" stroke="#3a4599" stroke-width="1.0"/>
<g fill="#fff" stroke="#e8171e" stroke-width="1.0"><circle cx="452.0" cy="74.6" r="2.6"/><circle cx="448.0" cy="79.2" r="2.6"/><circle cx="452.5" cy="78.9" r="2.6"/><circle cx="443.0" cy="83.8" r="2.6"/><circle cx="449.0" cy="83.3" r="2.6"/><circle cx="457.0" cy="83.5" r="2.6"/><circle cx="448.0" cy="89.0" r="2.6"/><circle cx="450.0" cy="93.6" r="2.6"/><circle cx="451.0" cy="98.8" r="2.6"/></g>
<g fill="#fff" stroke="#3a4599" stroke-width="1.0"><circle cx="480.9" cy="45.9" r="2.6"/><circle cx="482.4" cy="51.1" r="2.6"/><circle cx="475.9" cy="57.4" r="2.6"/><circle cx="479.9" cy="57.4" r="2.6"/><circle cx="484.9" cy="58.6" r="2.6"/><circle cx="486.9" cy="60.9" r="2.6"/><circle cx="479.9" cy="62.0" r="2.6"/><circle cx="483.9" cy="62.2" r="2.6"/><circle cx="475.9" cy="69.5" r="2.6"/><circle cx="479.9" cy="69.7" r="2.6"/><circle cx="486.9" cy="69.5" r="2.6"/><circle cx="479.9" cy="74.6" r="2.6"/><circle cx="482.9" cy="79.2" r="2.6"/></g>
<line x1="435.40" y1="25.80" x2="435.40" y2="118.90" stroke="#000" stroke-width="1.25"/>
<line x1="434.80" y1="118.30" x2="496.00" y2="118.30" stroke="#000" stroke-width="1.25"/>
<line x1="432.60" y1="118.30" x2="435.40" y2="118.30" stroke="#000" stroke-width="1.1"/>
<text x="428.4" y="121.4" font-size="8.9" fill="#1a1a1a" text-anchor="end" stroke="#1a1a1a" stroke-width="0.12">0</text>
<line x1="432.60" y1="95.32" x2="435.40" y2="95.32" stroke="#000" stroke-width="1.1"/>
<text x="428.4" y="98.4" font-size="8.9" fill="#1a1a1a" text-anchor="end" stroke="#1a1a1a" stroke-width="0.12">20</text>
<line x1="432.60" y1="72.35" x2="435.40" y2="72.35" stroke="#000" stroke-width="1.1"/>
<text x="428.4" y="75.4" font-size="8.9" fill="#1a1a1a" text-anchor="end" stroke="#1a1a1a" stroke-width="0.12">40</text>
<line x1="432.60" y1="49.38" x2="435.40" y2="49.38" stroke="#000" stroke-width="1.1"/>
<text x="428.4" y="52.5" font-size="8.9" fill="#1a1a1a" text-anchor="end" stroke="#1a1a1a" stroke-width="0.12">60</text>
<line x1="432.60" y1="26.40" x2="435.40" y2="26.40" stroke="#000" stroke-width="1.1"/>
<text x="428.4" y="29.5" font-size="8.9" fill="#1a1a1a" text-anchor="end" stroke="#1a1a1a" stroke-width="0.12">80</text>
<line x1="450.00" y1="118.30" x2="450.00" y2="120.80" stroke="#000" stroke-width="1.0"/>
<line x1="480.90" y1="118.30" x2="480.90" y2="120.80" stroke="#000" stroke-width="1.0"/>
<line x1="445.40" y1="32.10" x2="485.80" y2="32.10" stroke="#333" stroke-width="1.25"/>
<text x="444.9" y="26.4" font-size="8.5" fill="#1a1a1a" textLength="40.4" lengthAdjust="spacingAndGlyphs" stroke="#1a1a1a" stroke-width="0.12"><tspan font-style="italic">P</tspan> &lt; 0.0001</text>
<text x="433.7" y="133.6" font-size="8.9" fill="#e0333f" textLength="32.8" lengthAdjust="spacingAndGlyphs" stroke="#e0333f" stroke-width="0.12">Relapse</text>
<text x="474.5" y="133.6" font-size="8.9" fill="#50589c" textLength="12.7" lengthAdjust="spacingAndGlyphs" stroke="#50589c" stroke-width="0.12">No</text>
<text x="464.6" y="144.6" font-size="8.9" fill="#50589c" textLength="32.1" lengthAdjust="spacingAndGlyphs" stroke="#50589c" stroke-width="0.12">Relapse</text>
<text x="410.7" y="70.3" font-size="10.0" fill="#1a1a1a" text-anchor="middle" transform="rotate(-90 410.7 70.3)" textLength="59.9" lengthAdjust="spacingAndGlyphs" stroke="#1a1a1a" stroke-width="0.12">Cytotoxicity (%)</text>
<rect x="55.4" y="639.5" width="20.2" height="26.0" fill="#e8171e"/>
<rect x="87.0" y="620.4" width="19.8" height="45.1" fill="#3a4599"/>
<line x1="65.50" y1="639.54" x2="65.50" y2="629.66" stroke="#e8171e" stroke-width="1.0"/>
<line x1="61.90" y1="629.66" x2="69.10" y2="629.66" stroke="#e8171e" stroke-width="1.0"/>
<line x1="96.90" y1="620.39" x2="96.90" y2="608.64" stroke="#3a4599" stroke-width="1.0"/>
<line x1="93.30" y1="608.64" x2="100.50" y2="608.64" stroke="#3a4599" stroke-width="1.0"/>
<g fill="#fff" stroke="#e8171e" stroke-width="1.0"><circle cx="65.0" cy="614.2" r="2.6"/><circle cx="66.0" cy="624.7" r="2.6"/><circle cx="59.5" cy="632.7" r="2.6"/><circle cx="67.0" cy="632.7" r="2.6"/><circle cx="72.5" cy="637.7" r="2.6"/><circle cx="60.5" cy="638.3" r="2.6"/><circle cx="65.5" cy="641.4" r="2.6"/><circle cx="59.5" cy="646.3" r="2.6"/><circle cx="68.5" cy="647.0" r="2.6"/><circle cx="62.5" cy="651.3" r="2.6"/><circle cx="65.5" cy="656.2" r="2.6"/><circle cx="69.5" cy="656.2" r="2.6"/></g>
<g fill="#fff" stroke="#3a4599" stroke-width="1.0"><circle cx="96.4" cy="595.7" r="2.6"/><circle cx="98.9" cy="603.7" r="2.6"/><circle cx="93.9" cy="607.4" r="2.6"/><circle cx="101.9" cy="606.2" r="2.6"/><circle cx="92.9" cy="610.5" r="2.6"/><circle cx="94.9" cy="616.7" r="2.6"/><circle cx="99.9" cy="617.9" r="2.6"/><circle cx="102.9" cy="622.2" r="2.6"/><circle cx="90.9" cy="620.4" r="2.6"/><circle cx="96.9" cy="621.0" r="2.6"/><circle cx="90.9" cy="627.8" r="2.6"/><circle cx="95.9" cy="630.9" r="2.6"/><circle cx="100.9" cy="634.0" r="2.6"/><circle cx="97.9" cy="641.4" r="2.6"/><circle cx="94.9" cy="624.7" r="2.6"/></g>
<line x1="50.20" y1="572.20" x2="50.20" y2="666.10" stroke="#000" stroke-width="1.25"/>
<line x1="49.60" y1="665.50" x2="111.50" y2="665.50" stroke="#000" stroke-width="1.25"/>
<line x1="47.40" y1="665.50" x2="50.20" y2="665.50" stroke="#000" stroke-width="1.1"/>
<text x="43.2" y="668.5" font-size="9.4" fill="#1a1a1a" text-anchor="end" stroke="#1a1a1a" stroke-width="0.12">0</text>
<line x1="47.40" y1="634.60" x2="50.20" y2="634.60" stroke="#000" stroke-width="1.1"/>
<text x="43.2" y="637.6" font-size="9.4" fill="#1a1a1a" text-anchor="end" stroke="#1a1a1a" stroke-width="0.12">5</text>
<line x1="47.40" y1="603.70" x2="50.20" y2="603.70" stroke="#000" stroke-width="1.1"/>
<text x="43.2" y="606.7" font-size="9.4" fill="#1a1a1a" text-anchor="end" textLength="8.9" lengthAdjust="spacingAndGlyphs" stroke="#1a1a1a" stroke-width="0.12">10</text>
<line x1="47.40" y1="572.80" x2="50.20" y2="572.80" stroke="#000" stroke-width="1.1"/>
<text x="43.2" y="575.8" font-size="9.4" fill="#1a1a1a" text-anchor="end" textLength="8.9" lengthAdjust="spacingAndGlyphs" stroke="#1a1a1a" stroke-width="0.12">15</text>
<line x1="65.50" y1="665.50" x2="65.50" y2="668.00" stroke="#000" stroke-width="1.0"/>
<line x1="96.90" y1="665.50" x2="96.90" y2="668.00" stroke="#000" stroke-width="1.0"/>
<line x1="60.50" y1="575.70" x2="101.50" y2="575.70" stroke="#333" stroke-width="1.25"/>
<text x="60.0" y="570.0" font-size="8.3" fill="#1a1a1a" textLength="42.0" lengthAdjust="spacingAndGlyphs" stroke="#1a1a1a" stroke-width="0.12"><tspan font-style="italic">P</tspan> = 0.0313</text>
<text x="50.0" y="680.3" font-size="8.9" fill="#e0333f" textLength="31.8" lengthAdjust="spacingAndGlyphs" stroke="#e0333f" stroke-width="0.12">Relapse</text>
<text x="90.8" y="680.3" font-size="8.9" fill="#50589c" textLength="12.0" lengthAdjust="spacingAndGlyphs" stroke="#50589c" stroke-width="0.12">No</text>
<text x="81.2" y="690.8" font-size="8.9" fill="#50589c" textLength="31.1" lengthAdjust="spacingAndGlyphs" stroke="#50589c" stroke-width="0.12">Relapse</text>
<text x="27.3" y="618.9" font-size="10.0" fill="#1a1a1a" text-anchor="middle" transform="rotate(-90 27.3 618.9)" textLength="101.0" lengthAdjust="spacingAndGlyphs" stroke="#1a1a1a" stroke-width="0.12">TNF-α<tspan font-size="7.8" dy="-3.6">+</tspan><tspan dy="3.6">IFN-γ</tspan><tspan font-size="7.8" dy="-3.6">+</tspan><tspan dy="3.6"> BMNK (%)</tspan></text>
<rect x="190.0" y="649.3" width="20.0" height="16.2" fill="#e8171e"/>
<rect x="221.3" y="623.0" width="20.0" height="42.5" fill="#3a4599"/>
<line x1="200.00" y1="649.28" x2="200.00" y2="636.14" stroke="#e8171e" stroke-width="1.0"/>
<line x1="196.40" y1="636.14" x2="203.60" y2="636.14" stroke="#e8171e" stroke-width="1.0"/>
<line x1="231.30" y1="623.01" x2="231.30" y2="608.33" stroke="#3a4599" stroke-width="1.0"/>
<line x1="227.70" y1="608.33" x2="234.90" y2="608.33" stroke="#3a4599" stroke-width="1.0"/>
<g fill="#fff" stroke="#e8171e" stroke-width="1.0"><circle cx="195.0" cy="627.6" r="2.6"/><circle cx="203.0" cy="630.0" r="2.6"/><circle cx="197.0" cy="641.6" r="2.6"/><circle cx="200.0" cy="646.2" r="2.6"/><circle cx="195.0" cy="650.8" r="2.6"/><circle cx="204.0" cy="653.1" r="2.6"/><circle cx="199.0" cy="657.0" r="2.6"/><circle cx="194.0" cy="659.3" r="2.6"/><circle cx="206.0" cy="662.4" r="2.6"/><circle cx="200.0" cy="660.9" r="2.6"/><circle cx="202.0" cy="664.7" r="2.6"/></g>
<g fill="#fff" stroke="#3a4599" stroke-width="1.0"><circle cx="231.8" cy="588.2" r="2.6"/><circle cx="227.3" cy="606.8" r="2.6"/><circle cx="231.3" cy="601.4" r="2.6"/><circle cx="236.3" cy="605.2" r="2.6"/><circle cx="225.3" cy="618.4" r="2.6"/><circle cx="230.3" cy="617.6" r="2.6"/><circle cx="235.3" cy="616.8" r="2.6"/><circle cx="238.3" cy="621.5" r="2.6"/><circle cx="230.3" cy="626.1" r="2.6"/><circle cx="235.3" cy="630.0" r="2.6"/><circle cx="225.3" cy="634.6" r="2.6"/><circle cx="230.3" cy="634.6" r="2.6"/><circle cx="235.3" cy="636.1" r="2.6"/><circle cx="227.3" cy="637.7" r="2.6"/><circle cx="238.3" cy="644.6" r="2.6"/></g>
<line x1="184.60" y1="572.20" x2="184.60" y2="666.10" stroke="#000" stroke-width="1.25"/>
<line x1="184.00" y1="665.50" x2="245.50" y2="665.50" stroke="#000" stroke-width="1.25"/>
<line x1="181.80" y1="665.50" x2="184.60" y2="665.50" stroke="#000" stroke-width="1.1"/>
<text x="177.6" y="668.5" font-size="9.4" fill="#1a1a1a" text-anchor="end" stroke="#1a1a1a" stroke-width="0.12">0</text>
<line x1="181.80" y1="634.60" x2="184.60" y2="634.60" stroke="#000" stroke-width="1.1"/>
<text x="177.6" y="637.6" font-size="9.4" fill="#1a1a1a" text-anchor="end" stroke="#1a1a1a" stroke-width="0.12">4</text>
<line x1="181.80" y1="603.70" x2="184.60" y2="603.70" stroke="#000" stroke-width="1.1"/>
<text x="177.6" y="606.7" font-size="9.4" fill="#1a1a1a" text-anchor="end" stroke="#1a1a1a" stroke-width="0.12">8</text>
<line x1="181.80" y1="572.80" x2="184.60" y2="572.80" stroke="#000" stroke-width="1.1"/>
<text x="177.6" y="575.8" font-size="9.4" fill="#1a1a1a" text-anchor="end" textLength="8.9" lengthAdjust="spacingAndGlyphs" stroke="#1a1a1a" stroke-width="0.12">12</text>
<line x1="200.00" y1="665.50" x2="200.00" y2="668.00" stroke="#000" stroke-width="1.0"/>
<line x1="231.30" y1="665.50" x2="231.30" y2="668.00" stroke="#000" stroke-width="1.0"/>
<line x1="195.50" y1="575.70" x2="236.30" y2="575.70" stroke="#333" stroke-width="1.25"/>
<text x="194.5" y="570.0" font-size="8.3" fill="#1a1a1a" textLength="42.5" lengthAdjust="spacingAndGlyphs" stroke="#1a1a1a" stroke-width="0.12"><tspan font-style="italic">P</tspan> = 0.0072</text>
<text x="183.7" y="680.3" font-size="8.9" fill="#e0333f" textLength="32.5" lengthAdjust="spacingAndGlyphs" stroke="#e0333f" stroke-width="0.12">Relapse</text>
<text x="225.5" y="680.3" font-size="8.9" fill="#50589c" textLength="12.0" lengthAdjust="spacingAndGlyphs" stroke="#50589c" stroke-width="0.12">No</text>
<text x="215.5" y="690.8" font-size="8.9" fill="#50589c" textLength="32.0" lengthAdjust="spacingAndGlyphs" stroke="#50589c" stroke-width="0.12">Relapse</text>
<text x="148.3" y="617.5" font-size="10.0" fill="#1a1a1a" text-anchor="middle" transform="rotate(-90 148.3 617.5)" textLength="61.6" lengthAdjust="spacingAndGlyphs" stroke="#1a1a1a" stroke-width="0.12">CD107a<tspan font-size="7.8" dy="-3.6">+</tspan><tspan dy="3.6">IFN-γ</tspan><tspan font-size="7.8" dy="-3.6">+</tspan></text>
<text x="161.3" y="616.5" font-size="10.0" fill="#1a1a1a" text-anchor="middle" transform="rotate(-90 161.3 616.5)" textLength="39.0" lengthAdjust="spacingAndGlyphs" stroke="#1a1a1a" stroke-width="0.12">BMNK (%)</text>
<rect x="327.0" y="640.0" width="19.8" height="25.5" fill="#e8171e"/>
<rect x="357.5" y="619.1" width="20.0" height="46.4" fill="#3a4599"/>
<line x1="336.90" y1="640.01" x2="336.90" y2="622.39" stroke="#e8171e" stroke-width="1.0"/>
<line x1="333.30" y1="622.39" x2="340.50" y2="622.39" stroke="#e8171e" stroke-width="1.0"/>
<line x1="367.50" y1="619.15" x2="367.50" y2="605.25" stroke="#3a4599" stroke-width="1.0"/>
<line x1="363.90" y1="605.25" x2="371.10" y2="605.25" stroke="#3a4599" stroke-width="1.0"/>
<g fill="#fff" stroke="#e8171e" stroke-width="1.0"><circle cx="336.9" cy="600.6" r="2.6"/><circle cx="335.9" cy="617.3" r="2.6"/><circle cx="333.9" cy="623.8" r="2.6"/><circle cx="339.9" cy="625.6" r="2.6"/><circle cx="330.9" cy="635.8" r="2.6"/><circle cx="336.9" cy="634.9" r="2.6"/><circle cx="341.9" cy="632.1" r="2.6"/><circle cx="333.9" cy="639.5" r="2.6"/><circle cx="342.9" cy="641.4" r="2.6"/><circle cx="336.9" cy="646.0" r="2.6"/><circle cx="333.9" cy="651.6" r="2.6"/><circle cx="331.9" cy="658.1" r="2.6"/><circle cx="335.9" cy="658.1" r="2.6"/><circle cx="341.9" cy="663.6" r="2.6"/></g>
<g fill="#fff" stroke="#3a4599" stroke-width="1.0"><circle cx="368.0" cy="591.3" r="2.6"/><circle cx="364.5" cy="596.0" r="2.6"/><circle cx="369.5" cy="598.8" r="2.6"/><circle cx="372.5" cy="600.6" r="2.6"/><circle cx="366.5" cy="602.5" r="2.6"/><circle cx="371.5" cy="609.0" r="2.6"/><circle cx="361.5" cy="612.7" r="2.6"/><circle cx="368.5" cy="614.5" r="2.6"/><circle cx="374.5" cy="613.6" r="2.6"/><circle cx="364.5" cy="616.4" r="2.6"/><circle cx="371.5" cy="619.1" r="2.6"/><circle cx="362.5" cy="628.4" r="2.6"/><circle cx="366.5" cy="630.3" r="2.6"/><circle cx="370.5" cy="632.1" r="2.6"/><circle cx="361.5" cy="635.8" r="2.6"/><circle cx="365.5" cy="636.8" r="2.6"/><circle cx="370.5" cy="637.7" r="2.6"/><circle cx="374.5" cy="638.6" r="2.6"/></g>
<line x1="320.80" y1="572.20" x2="320.80" y2="666.10" stroke="#000" stroke-width="1.25"/>
<line x1="320.20" y1="665.50" x2="382.00" y2="665.50" stroke="#000" stroke-width="1.25"/>
<line x1="318.00" y1="665.50" x2="320.80" y2="665.50" stroke="#000" stroke-width="1.1"/>
<text x="313.8" y="668.5" font-size="9.4" fill="#1a1a1a" text-anchor="end" stroke="#1a1a1a" stroke-width="0.12">0</text>
<line x1="318.00" y1="646.96" x2="320.80" y2="646.96" stroke="#000" stroke-width="1.1"/>
<text x="313.8" y="650.0" font-size="9.4" fill="#1a1a1a" text-anchor="end" stroke="#1a1a1a" stroke-width="0.12">2</text>
<line x1="318.00" y1="628.42" x2="320.80" y2="628.42" stroke="#000" stroke-width="1.1"/>
<text x="313.8" y="631.4" font-size="9.4" fill="#1a1a1a" text-anchor="end" stroke="#1a1a1a" stroke-width="0.12">4</text>
<line x1="318.00" y1="609.88" x2="320.80" y2="609.88" stroke="#000" stroke-width="1.1"/>
<text x="313.8" y="612.9" font-size="9.4" fill="#1a1a1a" text-anchor="end" stroke="#1a1a1a" stroke-width="0.12">6</text>
<line x1="318.00" y1="591.34" x2="320.80" y2="591.34" stroke="#000" stroke-width="1.1"/>
<text x="313.8" y="594.3" font-size="9.4" fill="#1a1a1a" text-anchor="end" stroke="#1a1a1a" stroke-width="0.12">8</text>
<line x1="318.00" y1="572.80" x2="320.80" y2="572.80" stroke="#000" stroke-width="1.1"/>
<text x="313.8" y="575.8" font-size="9.4" fill="#1a1a1a" text-anchor="end" textLength="8.9" lengthAdjust="spacingAndGlyphs" stroke="#1a1a1a" stroke-width="0.12">10</text>
<line x1="336.90" y1="665.50" x2="336.90" y2="668.00" stroke="#000" stroke-width="1.0"/>
<line x1="367.50" y1="665.50" x2="367.50" y2="668.00" stroke="#000" stroke-width="1.0"/>
<line x1="332.00" y1="575.70" x2="372.50" y2="575.70" stroke="#333" stroke-width="1.25"/>
<text x="331.2" y="570.0" font-size="8.3" fill="#1a1a1a" textLength="41.8" lengthAdjust="spacingAndGlyphs" stroke="#1a1a1a" stroke-width="0.12"><tspan font-style="italic">P</tspan> = 0.0085</text>
<text x="320.0" y="680.3" font-size="8.9" fill="#e0333f" textLength="33.0" lengthAdjust="spacingAndGlyphs" stroke="#e0333f" stroke-width="0.12">Relapse</text>
<text x="361.2" y="680.3" font-size="8.9" fill="#50589c" textLength="12.5" lengthAdjust="spacingAndGlyphs" stroke="#50589c" stroke-width="0.12">No</text>
<text x="350.5" y="690.8" font-size="8.9" fill="#50589c" textLength="33.2" lengthAdjust="spacingAndGlyphs" stroke="#50589c" stroke-width="0.12">Relapse</text>
<text x="283.9" y="617.5" font-size="10.0" fill="#1a1a1a" text-anchor="middle" transform="rotate(-90 283.9 617.5)" textLength="51.2" lengthAdjust="spacingAndGlyphs" stroke="#1a1a1a" stroke-width="0.12">Granzyme B<tspan font-size="7.8" dy="-3.6">+</tspan></text>
<text x="297.9" y="616.8" font-size="10.0" fill="#1a1a1a" text-anchor="middle" transform="rotate(-90 297.9 616.8)" textLength="68.1" lengthAdjust="spacingAndGlyphs" stroke="#1a1a1a" stroke-width="0.12">IFN-γ<tspan font-size="7.8" dy="-3.6">+</tspan><tspan dy="3.6"> BMNK (%)</tspan></text>
<rect x="463.0" y="634.9" width="20.0" height="30.6" fill="#e8171e"/>
<rect x="493.8" y="622.9" width="20.0" height="42.6" fill="#3a4599"/>
<line x1="473.00" y1="634.91" x2="473.00" y2="617.30" stroke="#e8171e" stroke-width="1.0"/>
<line x1="469.40" y1="617.30" x2="476.60" y2="617.30" stroke="#e8171e" stroke-width="1.0"/>
<line x1="503.80" y1="622.86" x2="503.80" y2="608.03" stroke="#3a4599" stroke-width="1.0"/>
<line x1="500.20" y1="608.03" x2="507.40" y2="608.03" stroke="#3a4599" stroke-width="1.0"/>
<g fill="#fff" stroke="#e8171e" stroke-width="1.0"><circle cx="469.0" cy="605.2" r="2.6"/><circle cx="472.0" cy="603.4" r="2.6"/><circle cx="473.0" cy="613.6" r="2.6"/><circle cx="469.0" cy="620.1" r="2.6"/><circle cx="466.0" cy="632.1" r="2.6"/><circle cx="476.0" cy="632.1" r="2.6"/><circle cx="468.0" cy="638.6" r="2.6"/><circle cx="478.0" cy="643.3" r="2.6"/><circle cx="470.0" cy="648.8" r="2.6"/><circle cx="474.0" cy="648.8" r="2.6"/><circle cx="479.0" cy="651.6" r="2.6"/><circle cx="469.0" cy="647.9" r="2.6"/><circle cx="480.0" cy="656.2" r="2.6"/></g>
<g fill="#fff" stroke="#3a4599" stroke-width="1.0"><circle cx="503.8" cy="589.5" r="2.6"/><circle cx="503.8" cy="597.8" r="2.6"/><circle cx="499.8" cy="604.3" r="2.6"/><circle cx="507.8" cy="609.9" r="2.6"/><circle cx="501.8" cy="614.5" r="2.6"/><circle cx="506.8" cy="619.1" r="2.6"/><circle cx="497.8" cy="623.8" r="2.6"/><circle cx="503.8" cy="623.8" r="2.6"/><circle cx="508.8" cy="624.7" r="2.6"/><circle cx="501.8" cy="631.2" r="2.6"/><circle cx="506.8" cy="631.2" r="2.6"/><circle cx="496.8" cy="635.8" r="2.6"/><circle cx="503.8" cy="638.6" r="2.6"/><circle cx="500.8" cy="642.3" r="2.6"/><circle cx="510.8" cy="643.3" r="2.6"/></g>
<line x1="457.20" y1="572.20" x2="457.20" y2="666.10" stroke="#000" stroke-width="1.25"/>
<line x1="456.60" y1="665.50" x2="518.00" y2="665.50" stroke="#000" stroke-width="1.25"/>
<line x1="454.40" y1="665.50" x2="457.20" y2="665.50" stroke="#000" stroke-width="1.1"/>
<text x="450.2" y="668.5" font-size="9.4" fill="#1a1a1a" text-anchor="end" stroke="#1a1a1a" stroke-width="0.12">0</text>
<line x1="454.40" y1="646.96" x2="457.20" y2="646.96" stroke="#000" stroke-width="1.1"/>
<text x="450.2" y="650.0" font-size="9.4" fill="#1a1a1a" text-anchor="end" stroke="#1a1a1a" stroke-width="0.12">2</text>
<line x1="454.40" y1="628.42" x2="457.20" y2="628.42" stroke="#000" stroke-width="1.1"/>
<text x="450.2" y="631.4" font-size="9.4" fill="#1a1a1a" text-anchor="end" stroke="#1a1a1a" stroke-width="0.12">4</text>
<line x1="454.40" y1="609.88" x2="457.20" y2="609.88" stroke="#000" stroke-width="1.1"/>
<text x="450.2" y="612.9" font-size="9.4" fill="#1a1a1a" text-anchor="end" stroke="#1a1a1a" stroke-width="0.12">6</text>
<line x1="454.40" y1="591.34" x2="457.20" y2="591.34" stroke="#000" stroke-width="1.1"/>
<text x="450.2" y="594.3" font-size="9.4" fill="#1a1a1a" text-anchor="end" stroke="#1a1a1a" stroke-width="0.12">8</text>
<line x1="454.40" y1="572.80" x2="457.20" y2="572.80" stroke="#000" stroke-width="1.1"/>
<text x="450.2" y="575.8" font-size="9.4" fill="#1a1a1a" text-anchor="end" textLength="8.9" lengthAdjust="spacingAndGlyphs" stroke="#1a1a1a" stroke-width="0.12">10</text>
<line x1="473.00" y1="665.50" x2="473.00" y2="668.00" stroke="#000" stroke-width="1.0"/>
<line x1="503.80" y1="665.50" x2="503.80" y2="668.00" stroke="#000" stroke-width="1.0"/>
<line x1="468.00" y1="575.70" x2="508.70" y2="575.70" stroke="#333" stroke-width="1.25"/>
<text x="467.5" y="570.0" font-size="8.3" fill="#1a1a1a" textLength="42.0" lengthAdjust="spacingAndGlyphs" stroke="#1a1a1a" stroke-width="0.12"><tspan font-style="italic">P</tspan> = 0.0303</text>
<text x="456.2" y="680.3" font-size="8.9" fill="#e0333f" textLength="32.5" lengthAdjust="spacingAndGlyphs" stroke="#e0333f" stroke-width="0.12">Relapse</text>
<text x="497.5" y="680.3" font-size="8.9" fill="#50589c" textLength="12.5" lengthAdjust="spacingAndGlyphs" stroke="#50589c" stroke-width="0.12">No</text>
<text x="487.5" y="690.8" font-size="8.9" fill="#50589c" textLength="32.0" lengthAdjust="spacingAndGlyphs" stroke="#50589c" stroke-width="0.12">Relapse</text>
<text x="420.3" y="617.6" font-size="10.0" fill="#1a1a1a" text-anchor="middle" transform="rotate(-90 420.3 617.6)" textLength="51.3" lengthAdjust="spacingAndGlyphs" stroke="#1a1a1a" stroke-width="0.12">Granzyme B<tspan font-size="7.8" dy="-3.6">+</tspan></text>
<text x="433.9" y="616.7" font-size="10.0" fill="#1a1a1a" text-anchor="middle" transform="rotate(-90 433.9 616.7)" textLength="77.8" lengthAdjust="spacingAndGlyphs" stroke="#1a1a1a" stroke-width="0.12">CD107a<tspan font-size="7.8" dy="-3.6">+</tspan><tspan dy="3.6"> BMNK (%)</tspan></text>
</svg>
</body></html>
